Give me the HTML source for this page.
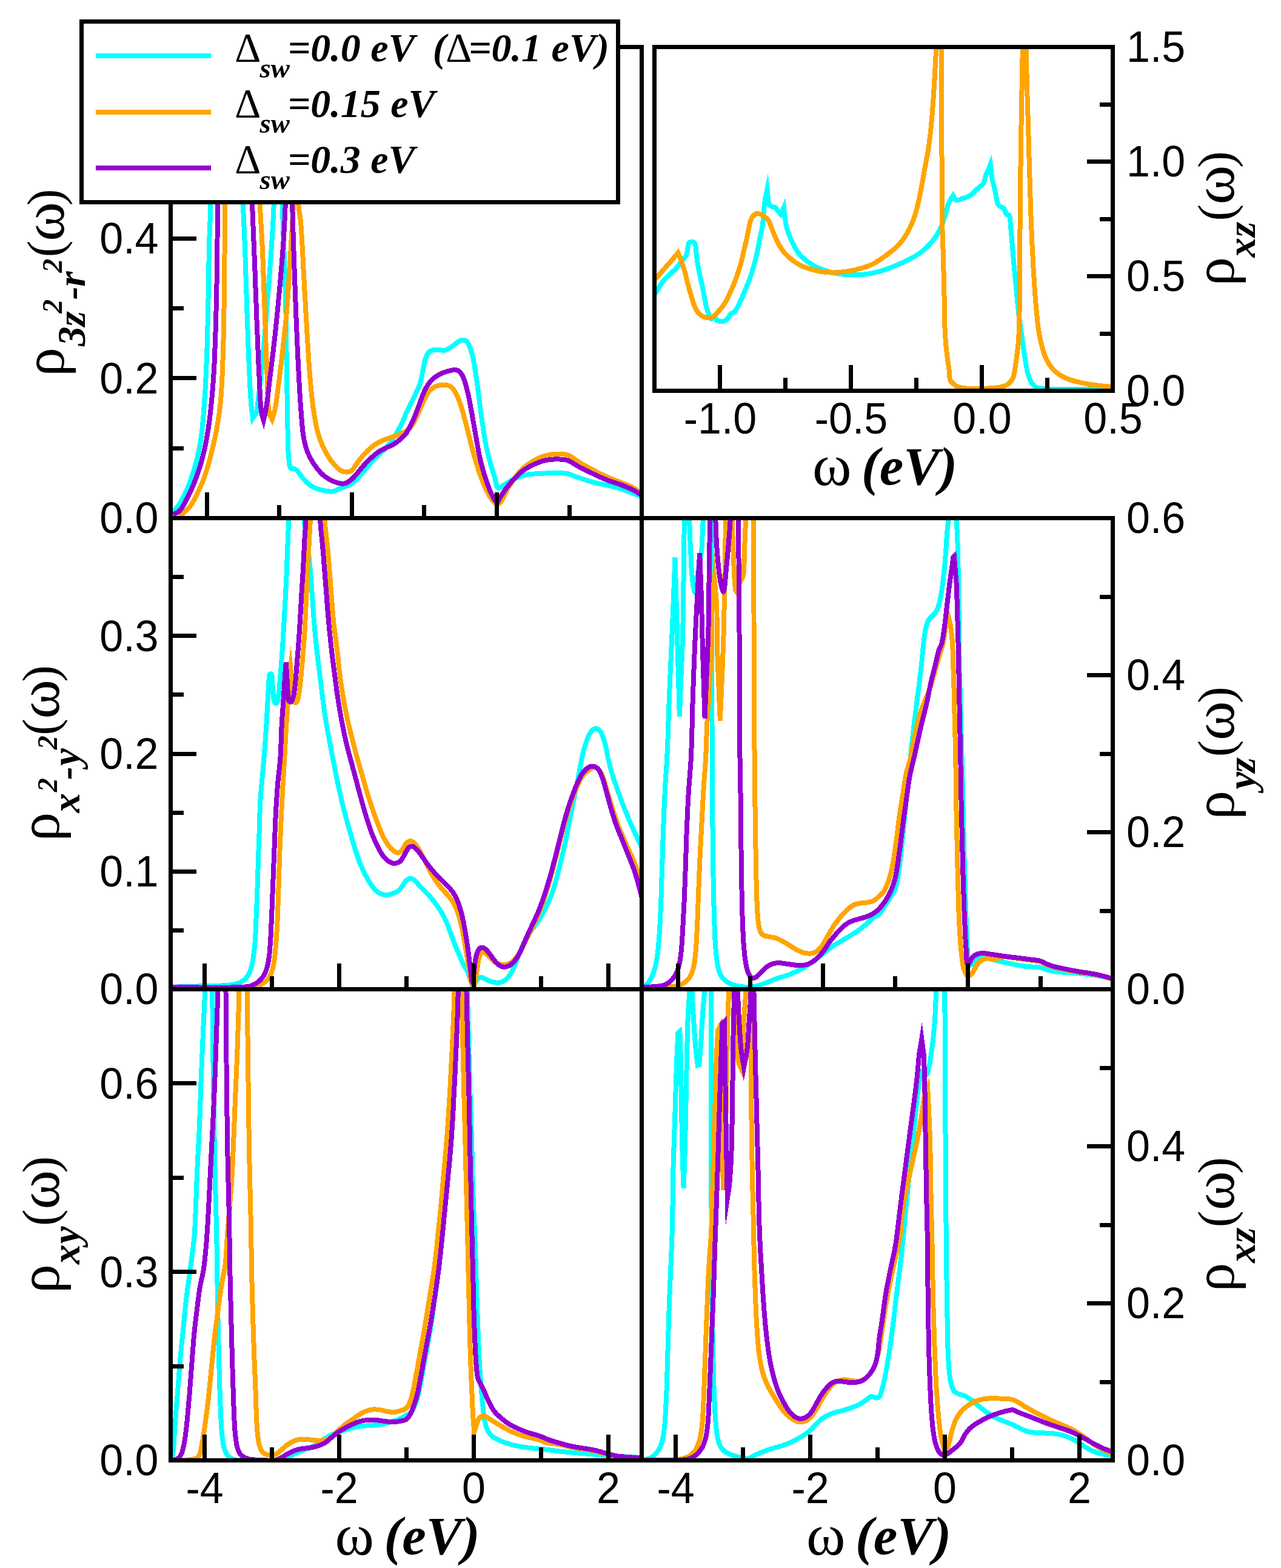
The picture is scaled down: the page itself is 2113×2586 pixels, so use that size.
<!DOCTYPE html>
<html><head><meta charset="utf-8"><title>Orbital-resolved density of states</title>
<style>
html,body{margin:0;padding:0;background:#fff;}
body{width:2113px;height:2586px;overflow:hidden;}
svg{display:block;}
.tk{font-family:"Liberation Sans",Arial,Helvetica,sans-serif;font-size:70px;fill:#000;}
.bi{font-family:"Liberation Serif","Times New Roman",serif;font-weight:bold;font-style:italic;fill:#000;}
.sy{font-family:"Liberation Serif","Times New Roman",serif;font-weight:normal;font-style:normal;fill:#000;}
.fr{stroke:#000;stroke-width:7;fill:none;shape-rendering:crispEdges;}
text{font-kerning:none;}
.cv{fill:none;stroke-width:8;stroke-linejoin:miter;stroke-miterlimit:12;stroke-linecap:butt;shape-rendering:crispEdges;}
</style></head><body>
<svg width="2113" height="2586" viewBox="0 0 2113 2586">
<rect x="0" y="0" width="2113" height="2586" fill="#fff"/>
<defs>
<clipPath id="cTL"><rect x="281.5" y="77.5" width="777.0" height="777.0"/></clipPath>
<clipPath id="cIN"><rect x="1079.5" y="77.5" width="756.0" height="567.0"/></clipPath>
<clipPath id="cML"><rect x="281.5" y="854.5" width="777.0" height="777.0"/></clipPath>
<clipPath id="cMR"><rect x="1058.5" y="854.5" width="777.0" height="777.0"/></clipPath>
<clipPath id="cBL"><rect x="281.5" y="1631.5" width="777.0" height="777.0"/></clipPath>
<clipPath id="cBR"><rect x="1058.5" y="1631.5" width="777.0" height="777.0"/></clipPath>
</defs>
<g clip-path="url(#cTL)">
<polyline class="cv" stroke="#00ffff" points="285.2,845.9 286.9,843.6 288.6,841.4 290.3,839.2 292.0,836.9 293.7,834.5 295.4,831.9 297.6,828.4 299.7,824.6 301.9,820.6 304.0,816.5 306.1,812.2 308.1,807.8 310.4,802.3 312.7,796.7 314.8,790.8 316.9,784.7 318.9,778.5 320.8,772.2 322.8,765.0 324.7,757.7 326.4,750.3 328.1,742.6 329.6,734.7 331.0,726.4 332.4,716.2 333.7,705.5 334.7,694.5 335.7,683.2 336.5,671.8 337.3,660.4 338.2,648.1 338.9,635.8 339.5,623.3 340.1,610.6 340.6,597.5 341.2,584.1 341.7,567.9 342.2,550.8 342.6,533.3 343.0,515.8 343.4,498.7 343.7,482.5 343.9,469.1 344.1,456.1 344.3,443.4 344.5,430.9 344.7,418.6 345.0,406.2 345.3,394.7 345.8,383.4 346.2,372.1 346.7,360.9 347.1,349.4 347.5,337.6 347.8,324.1 348.1,310.3 348.2,296.2 348.4,282.0 348.6,267.8 348.8,253.8"/>
<polyline class="cv" stroke="#00ffff" points="398.3,253.8 398.8,267.9 399.2,282.3 399.6,296.8 400.0,310.9 400.4,324.6 400.9,337.6 401.3,347.4 401.7,356.4 402.1,365.0 402.5,373.8 403.0,383.2 403.4,393.5 404.0,410.3 404.7,428.9 405.3,448.6 405.9,468.8 406.6,488.8 407.2,507.9 407.8,525.5 408.5,543.3 409.1,560.8 409.7,578.0 410.4,594.3 411.0,609.5 411.6,620.5 412.1,631.3 412.6,641.6 413.2,651.2 413.7,660.1 414.3,668.0 414.7,672.2 415.2,676.0 415.6,679.5 416.0,682.8 416.5,686.1 416.9,689.6 417.8,688.2 418.8,686.8 419.8,685.5 420.8,684.1 421.7,682.5 422.5,680.7 423.5,677.4 424.2,673.7 424.7,669.5 425.2,665.1 425.7,660.3 426.3,655.3 427.3,647.1 428.4,638.0 429.4,628.3 430.5,618.1 431.6,607.6 432.6,596.8 433.9,583.2 435.2,568.8 436.5,553.9 437.8,538.7 439.0,523.3 440.3,507.9 441.6,491.1 443.0,473.8 444.3,456.3 445.6,438.9 446.8,422.1 447.9,406.2 448.7,394.1 449.4,382.6 450.1,371.5 450.7,360.5 451.2,349.3 451.7,337.6 452.1,324.1 452.5,310.3 452.8,296.2 453.0,282.0 453.2,267.8 453.5,253.8"/>
<polyline class="cv" stroke="#00ffff" points="463.6,253.8 464.0,267.5 464.3,280.9 464.6,294.3 464.9,308.0 465.2,322.3 465.7,337.6 466.4,359.4 467.3,382.9 468.2,407.4 469.2,432.5 470.0,457.7 470.8,482.5 471.4,508.3 471.8,534.9 472.3,561.7 472.6,587.9 473.0,612.5 473.3,635.0 473.5,649.4 473.7,663.0 473.9,675.9 474.1,688.2 474.3,699.9 474.6,711.2 474.8,719.8 474.9,728.2 475.1,736.3 475.4,744.0 475.8,750.9 476.4,756.9 476.7,760.2 477.0,763.2 477.4,766.1 477.9,768.6 478.6,770.7 479.7,772.2 480.5,772.8 481.6,773.0 482.7,773.1 483.9,773.1 485.0,773.2 486.0,773.5 486.9,773.9 487.8,774.4 488.6,775.0 489.4,775.7 490.2,776.4 491.1,777.3 492.3,778.6 493.5,780.2 494.7,782.0 495.9,783.8 497.3,785.6 498.7,787.4 500.6,789.6 502.6,791.8 504.7,794.1 506.9,796.3 509.2,798.4 511.4,800.1 513.4,801.5 515.5,802.7 517.5,803.8 519.6,804.8 521.8,805.7 524.1,806.5 527.0,807.4 530.1,808.2 533.3,808.9 536.4,809.5 539.3,810.0 541.9,810.3 543.3,810.5 544.6,810.6 545.8,810.6 547.0,810.6 548.2,810.5 549.5,810.3 551.5,809.8 553.5,809.1 555.6,808.2 557.8,807.2 560.0,806.2 562.2,805.2 565.1,804.1 568.0,803.1 571.0,802.0 574.1,800.8 577.1,799.4 580.0,797.6 583.6,794.9 587.1,791.6 590.6,788.1 594.1,784.3 597.3,780.7 600.4,777.3 602.7,774.6 604.9,772.0 606.9,769.4 608.9,766.9 611.0,764.4 613.1,762.0 615.2,759.8 617.3,757.7 619.4,755.6 621.5,753.5 623.7,751.4 625.8,749.3 627.9,747.2 630.1,745.2 632.2,743.2 634.3,741.1 636.4,738.9 638.5,736.6 640.7,733.9 642.9,731.1 645.0,728.1 647.1,725.1 649.2,722.0 651.2,718.8 653.4,715.2 655.7,711.3 658.0,707.4 660.1,703.4 662.1,699.6 663.9,695.9 665.1,693.3 666.2,690.7 667.2,688.2 668.1,685.7 669.0,683.2 670.0,680.7 672.1,676.5 674.3,672.2 676.5,667.9 678.6,663.7 680.7,659.5 682.7,655.3 684.6,651.4 686.4,647.6 688.2,643.8 689.9,640.1 691.5,636.3 692.9,632.4 694.0,628.6 694.9,624.7 695.8,620.8 696.5,617.0 697.2,613.2 698.0,609.5 698.6,606.4 699.1,603.3 699.7,600.2 700.2,597.3 700.9,594.4 701.8,591.8 702.6,589.6 703.5,587.4 704.5,585.3 705.6,583.4 706.8,581.7 708.1,580.3 709.2,579.4 710.5,578.7 711.7,578.1 713.0,577.7 714.4,577.3 715.7,577.0 717.2,576.8 718.6,576.7 720.1,576.7 721.6,576.8 723.1,576.9 724.6,577.0 726.1,577.2 727.6,577.4 729.1,577.7 730.6,577.9 732.0,577.9 733.5,577.8 735.2,577.3 736.9,576.6 738.6,575.8 740.3,574.8 742.0,573.7 743.7,572.7 745.5,571.5 747.2,570.2 748.9,568.8 750.7,567.5 752.3,566.2 753.9,565.1 755.0,564.3 756.1,563.5 757.1,562.8 758.2,562.2 759.2,561.7 760.2,561.3 761.1,561.0 761.9,560.8 762.8,560.7 763.6,560.6 764.5,560.6 765.3,560.7 766.2,561.0 767.1,561.4 767.9,561.8 768.8,562.4 769.6,563.0 770.4,563.8 771.4,565.1 772.3,566.6 773.1,568.2 773.9,570.1 774.7,572.0 775.5,574.0 776.4,576.6 777.3,579.3 778.2,582.2 779.0,585.2 779.8,588.4 780.5,591.8 781.5,596.3 782.4,601.2 783.2,606.3 784.0,611.5 784.8,616.9 785.6,622.2 786.5,628.4 787.4,634.6 788.2,641.0 789.0,647.5 789.9,654.0 790.7,660.4 791.5,666.7 792.4,673.1 793.2,679.4 794.0,685.8 794.9,692.1 795.8,698.5 796.8,704.9 797.7,711.4 798.8,717.8 799.8,724.2 800.9,730.5 802.1,736.6 803.3,742.0 804.6,747.3 805.8,752.5 807.2,757.5 808.5,762.4 809.8,767.1 810.8,770.8 811.9,774.3 813.0,777.6 814.0,780.9 815.1,784.2 816.1,787.4 817.0,790.7 817.7,794.3 818.4,797.8 819.2,801.0 820.3,803.4 821.7,804.7 823.2,804.8 824.9,804.2 826.7,803.0 828.7,801.6 830.7,800.1 832.6,798.9 835.0,797.5 837.5,796.0 840.0,794.4 842.6,792.8 845.2,791.3 847.9,790.0 850.7,788.7 853.6,787.5 856.6,786.4 859.5,785.3 862.6,784.4 865.7,783.6 868.9,782.9 872.2,782.4 875.6,782.0 879.0,781.6 882.5,781.4 886.0,781.1 890.1,780.8 894.3,780.6 898.6,780.5 902.9,780.4 907.2,780.3 911.4,780.3 915.6,780.3 919.8,780.2 924.0,780.2 928.1,780.3 932.0,780.6 935.6,781.1 938.1,781.7 940.5,782.5 942.8,783.4 945.0,784.3 947.2,785.3 949.5,786.2 952.0,787.0 954.5,787.9 957.0,788.7 959.6,789.6 962.2,790.4 964.8,791.2 967.7,792.1 970.6,793.0 973.6,793.9 976.6,794.7 979.6,795.6 982.6,796.3 985.5,797.0 988.5,797.7 991.4,798.3 994.4,798.8 997.3,799.5 1000.4,800.1 1003.7,800.9 1007.1,801.7 1010.6,802.5 1014.0,803.4 1017.4,804.3 1020.7,805.2 1023.7,806.2 1026.7,807.2 1029.6,808.3 1032.5,809.3 1035.5,810.5 1038.5,811.6 1041.8,812.8 1045.2,814.1 1048.6,815.3 1052.0,816.6 1055.4,817.9 1058.8,819.2"/>
<polyline class="cv" stroke="#ffa500" points="294.1,857.3 295.2,855.8 296.1,854.4 297.1,852.9 298.1,851.5 299.3,850.0 300.5,848.4 302.3,846.5 304.4,844.5 306.7,842.5 308.9,840.4 311.1,838.2 313.2,835.7 315.5,832.4 317.7,828.9 319.8,825.0 321.9,821.1 323.9,817.0 325.9,812.8 328.2,808.1 330.4,803.2 332.6,798.1 334.7,792.9 336.7,787.7 338.6,782.4 340.5,776.6 342.3,770.8 344.0,764.9 345.6,759.0 347.2,752.9 348.8,746.8 350.4,740.2 352.0,733.5 353.5,726.8 355.0,720.0 356.4,713.1 357.7,706.1 358.9,698.8 360.1,691.5 361.2,684.2 362.2,676.6 363.2,668.7 364.0,660.4 365.0,648.9 365.7,636.8 366.4,624.2 366.9,611.1 367.4,597.7 367.8,584.1 368.3,568.2 368.7,552.0 369.1,535.3 369.4,518.2 369.6,500.6 369.9,482.5 370.2,459.4 370.4,434.6 370.6,409.2 370.8,383.9 371.0,359.8 371.1,337.6 371.3,322.3 371.3,308.0 371.4,294.3 371.5,280.9 371.6,267.5 371.7,253.8"/>
<polyline class="cv" stroke="#ffa500" points="426.3,253.8 426.7,267.8 427.1,282.0 427.5,296.2 427.9,310.3 428.3,324.1 428.8,337.6 429.4,349.3 430.0,360.5 430.7,371.5 431.4,382.6 432.0,394.1 432.6,406.2 433.3,422.0 434.0,438.6 434.6,455.8 435.2,473.3 435.8,490.7 436.5,507.9 437.1,525.0 437.7,542.4 438.3,559.8 438.9,577.0 439.6,593.6 440.3,609.5 440.7,622.9 441.1,636.6 441.5,649.9 442.0,662.2 442.8,672.7 444.1,680.7 444.7,683.1 445.5,685.0 446.3,686.7 447.1,688.2 447.9,689.7 448.7,691.4 449.4,689.3 450.1,687.3 450.8,685.3 451.6,683.2 452.3,680.8 453.0,678.2 454.1,672.5 455.2,665.9 456.3,658.7 457.3,650.9 458.3,642.9 459.3,635.0 460.6,625.1 461.9,614.7 463.2,604.0 464.5,593.1 465.8,582.2 467.0,571.4 468.1,560.9 469.2,550.5 470.3,540.0 471.4,529.5 472.4,518.8 473.3,507.9 474.3,495.5 475.2,482.7 476.0,469.8 476.8,456.8 477.6,444.0 478.4,431.7 479.1,420.5 479.8,409.2 480.4,398.1 481.1,387.4 481.7,377.3 482.2,368.1 482.5,362.6 482.9,357.7 483.2,353.1 483.4,348.5 483.7,343.5 484.0,337.6 484.4,326.1 484.7,312.7 485.1,298.3 485.4,283.3 485.7,268.2 486.0,253.8"/>
<polyline class="cv" stroke="#ffa500" points="490.6,253.8 490.8,268.2 491.0,283.3 491.1,298.3 491.4,312.8 491.7,326.1 492.4,337.6 492.9,343.4 493.5,348.3 494.2,352.8 494.9,357.3 495.6,362.3 496.2,368.1 497.1,380.2 498.0,394.3 498.8,409.7 499.6,425.7 500.4,441.7 501.3,457.1 502.1,472.0 502.9,487.0 503.8,502.0 504.6,516.9 505.5,531.6 506.3,546.0 507.1,559.2 507.9,572.2 508.7,585.1 509.5,597.8 510.4,610.2 511.4,622.2 512.3,632.6 513.2,642.7 514.2,652.7 515.3,662.3 516.4,671.7 517.8,680.7 519.0,688.0 520.3,695.2 521.6,702.1 523.1,708.7 524.8,715.2 526.7,721.4 528.5,726.5 530.5,731.4 532.6,736.2 534.8,740.8 537.1,745.2 539.4,749.3 541.4,752.7 543.5,755.9 545.6,759.0 547.8,761.9 549.9,764.6 552.1,767.1 553.8,768.9 555.4,770.6 557.1,772.2 558.7,773.7 560.5,774.9 562.2,776.0 563.9,776.8 565.6,777.4 567.4,777.9 569.1,778.3 570.8,778.5 572.4,778.5 573.8,778.4 575.1,778.2 576.3,777.9 577.6,777.4 578.8,776.8 580.0,776.0 581.8,774.4 583.5,772.3 585.1,769.8 586.7,767.1 588.4,764.5 590.2,762.0 592.2,759.5 594.3,756.8 596.4,754.2 598.5,751.6 600.7,749.1 602.9,746.8 605.0,744.7 607.0,742.6 609.1,740.7 611.3,738.8 613.4,737.0 615.6,735.3 617.7,733.9 619.8,732.5 621.9,731.2 624.0,730.0 626.2,728.8 628.3,727.7 630.4,726.7 632.5,725.8 634.6,725.0 636.7,724.2 638.8,723.4 641.0,722.6 643.5,721.8 646.0,721.0 648.6,720.2 651.2,719.3 653.8,718.5 656.3,717.5 658.6,716.6 660.9,715.5 663.2,714.5 665.5,713.4 667.7,712.3 670.0,711.2 671.7,709.6 673.5,708.0 675.2,706.4 676.9,704.8 678.6,703.0 680.2,701.0 682.0,698.1 683.8,694.9 685.5,691.5 687.1,687.9 688.7,684.3 690.3,680.7 692.1,676.9 693.8,672.9 695.5,668.9 697.1,665.0 698.8,661.2 700.5,657.8 701.7,655.4 702.9,653.1 704.1,650.9 705.3,648.9 706.6,646.9 708.1,645.1 709.6,643.6 711.2,642.1 712.9,640.7 714.7,639.5 716.5,638.4 718.3,637.5 719.9,636.8 721.6,636.2 723.3,635.8 725.0,635.4 726.7,635.2 728.4,635.0 730.2,634.8 731.9,634.7 733.7,634.7 735.4,634.8 737.0,635.1 738.6,635.5 740.0,635.9 741.3,636.5 742.6,637.2 743.9,638.0 745.1,639.0 746.2,640.0 747.7,641.7 749.0,643.6 750.3,645.7 751.5,648.0 752.7,650.3 753.9,652.7 755.2,655.8 756.6,659.0 757.8,662.3 759.1,665.8 760.3,669.4 761.5,673.1 762.8,677.4 764.1,682.0 765.4,686.7 766.6,691.4 767.9,696.2 769.1,701.0 770.4,706.0 771.7,711.1 772.9,716.3 774.2,721.4 775.4,726.5 776.7,731.5 778.0,736.2 779.2,740.9 780.4,745.5 781.7,750.1 783.0,754.8 784.4,759.5 785.9,764.6 787.5,769.7 789.2,775.0 790.9,780.1 792.7,785.2 794.5,790.0 796.1,794.1 797.8,798.1 799.4,802.0 801.1,805.8 802.9,809.4 804.7,812.8 806.3,815.7 808.0,818.6 809.8,821.4 811.6,824.0 813.3,826.2 814.9,828.1 815.7,829.0 816.6,829.9 817.4,830.7 818.2,831.4 819.0,831.8 819.9,831.9 821.1,831.6 822.4,830.9 823.8,829.8 825.1,828.5 826.4,827.0 827.6,825.6 829.0,823.5 830.2,821.1 831.4,818.5 832.5,815.8 833.8,813.0 835.2,810.3 837.0,807.0 839.0,803.6 841.1,800.1 843.3,796.7 845.6,793.3 847.9,790.0 850.2,786.8 852.7,783.7 855.1,780.6 857.7,777.7 860.4,774.9 863.1,772.2 865.9,769.8 868.8,767.4 871.8,765.3 874.8,763.2 877.9,761.3 880.9,759.5 883.8,757.9 886.8,756.5 889.7,755.1 892.7,753.9 895.7,752.8 898.7,751.9 901.6,751.1 904.6,750.4 907.6,749.8 910.5,749.4 913.5,749.0 916.5,748.8 919.6,748.7 922.7,748.7 925.9,748.8 928.9,749.0 931.8,749.3 934.3,749.8 935.8,750.2 937.1,750.7 938.2,751.2 939.4,751.7 940.6,752.4 941.9,753.1 943.8,754.3 945.8,755.7 947.9,757.2 950.0,758.8 952.3,760.5 954.6,762.0 957.7,763.9 960.9,765.8 964.3,767.7 967.8,769.6 971.4,771.5 975.0,773.5 979.0,775.6 983.2,777.8 987.4,780.0 991.7,782.1 996.1,784.2 1000.4,786.2 1004.6,788.0 1009.0,789.8 1013.3,791.5 1017.6,793.1 1021.8,794.7 1025.8,796.3 1029.0,797.6 1032.0,798.8 1035.0,800.0 1037.9,801.2 1040.8,802.5 1043.6,804.0 1046.2,805.5 1048.8,807.1 1051.3,808.9 1053.8,810.6 1056.3,812.4 1058.8,814.1"/>
<polyline class="cv" stroke="#9400d3" points="285.2,848.4 287.0,847.7 288.7,847.0 290.4,846.3 292.1,845.6 293.8,844.6 295.4,843.3 297.7,840.9 299.9,837.9 302.0,834.4 304.1,830.7 306.1,826.8 308.1,823.0 310.4,818.7 312.5,814.3 314.7,809.7 316.8,804.9 318.8,800.1 320.8,795.1 323.1,789.2 325.3,783.1 327.5,776.8 329.6,770.3 331.6,763.7 333.5,756.9 335.5,749.0 337.4,740.9 339.1,732.6 340.7,724.0 342.3,715.2 343.7,706.1 345.3,695.0 346.7,683.4 348.0,671.5 349.2,659.3 350.3,647.1 351.3,635.0 352.2,622.5 353.0,610.2 353.6,597.7 354.1,585.0 354.6,572.1 355.1,558.7 355.7,542.7 356.2,526.2 356.6,509.3 357.0,492.1 357.4,474.7 357.7,457.1 358.0,437.5 358.2,417.2 358.5,396.6 358.6,376.2 358.8,356.4 358.9,337.6 359.1,322.8 359.2,308.6 359.2,294.8 359.3,281.2 359.4,267.6 359.5,253.8"/>
<polyline class="cv" stroke="#9400d3" points="413.6,253.8 414.0,267.7 414.4,281.5 414.8,295.4 415.2,309.3 415.6,323.4 416.1,337.6 416.7,352.9 417.3,368.4 418.0,384.1 418.6,399.8 419.3,415.7 419.9,431.7 420.6,448.4 421.2,465.5 421.8,482.7 422.5,499.8 423.1,516.7 423.7,533.3 424.4,548.7 425.0,564.1 425.6,579.3 426.2,594.2 426.9,608.6 427.6,622.2 428.1,633.2 428.6,644.3 429.1,655.0 429.7,664.9 430.5,673.6 431.4,680.7 431.9,683.3 432.4,685.5 433.0,687.4 433.5,689.2 434.1,691.0 434.7,692.9 435.4,689.7 436.1,686.6 436.9,683.6 437.6,680.4 438.3,676.9 439.0,673.1 440.1,666.0 441.1,658.1 442.2,649.5 443.2,640.5 444.3,631.3 445.3,622.2 446.6,612.1 447.9,601.8 449.2,591.3 450.5,580.6 451.7,569.7 453.0,558.7 454.3,546.4 455.6,533.8 456.9,521.0 458.2,508.2 459.4,495.3 460.6,482.5 461.8,469.7 462.9,456.9 464.0,444.1 465.1,431.4 466.0,418.7 467.0,406.2 467.7,394.7 468.4,383.4 469.1,372.1 469.7,360.9 470.2,349.4 470.8,337.6 471.3,324.1 471.7,310.3 472.1,296.2 472.5,282.0 472.9,267.8 473.3,253.8"/>
<polyline class="cv" stroke="#9400d3" points="480.4,253.8 480.7,267.6 481.0,281.2 481.2,294.8 481.5,308.6 481.8,322.8 482.2,337.6 482.7,356.3 483.3,375.7 483.9,395.8 484.6,416.2 485.3,436.7 486.0,457.1 486.8,478.3 487.6,500.0 488.4,521.8 489.3,543.3 490.2,564.2 491.1,584.1 491.9,600.2 492.7,615.9 493.5,631.1 494.3,645.9 495.2,659.9 496.2,673.1 496.9,682.6 497.6,691.7 498.3,700.5 499.1,708.8 500.0,716.6 501.3,723.9 502.3,728.7 503.4,733.3 504.6,737.5 505.9,741.6 507.3,745.5 508.9,749.3 510.4,752.6 511.9,755.6 513.6,758.6 515.3,761.5 517.2,764.3 519.0,767.1 521.0,769.8 523.0,772.6 525.1,775.2 527.3,777.8 529.5,780.2 531.8,782.4 533.8,784.1 535.9,785.8 538.0,787.3 540.1,788.7 542.3,790.0 544.5,791.2 546.5,792.3 548.7,793.3 550.8,794.2 553.0,795.0 555.1,795.7 557.2,796.3 558.9,796.8 560.6,797.2 562.3,797.5 564.0,797.7 565.7,797.8 567.3,797.6 569.1,797.2 570.8,796.5 572.5,795.7 574.2,794.7 575.9,793.7 577.5,792.5 579.3,791.1 581.0,789.6 582.6,787.9 584.3,786.1 585.9,784.2 587.7,782.4 589.7,780.0 591.8,777.5 593.9,774.8 596.1,772.2 598.2,769.6 600.4,767.1 602.4,764.9 604.5,762.7 606.6,760.5 608.8,758.4 610.9,756.4 613.1,754.4 615.1,752.6 617.2,750.7 619.3,749.0 621.5,747.3 623.6,745.7 625.8,744.2 627.9,743.0 630.0,741.9 632.1,740.9 634.2,739.9 636.4,738.9 638.5,737.9 640.6,736.9 642.8,735.9 644.9,734.9 647.0,733.9 649.1,732.8 651.2,731.5 653.4,730.0 655.7,728.3 657.9,726.5 660.1,724.7 662.1,723.0 663.9,721.4 665.1,720.2 666.1,719.2 667.1,718.1 668.1,717.1 669.0,716.1 670.0,715.0 671.7,711.9 673.4,708.8 675.1,705.7 676.9,702.5 678.5,699.3 680.2,695.9 682.0,691.9 683.7,687.7 685.4,683.3 687.1,679.0 688.8,674.7 690.3,670.5 691.7,667.0 692.9,663.5 694.2,660.0 695.4,656.7 696.6,653.4 698.0,650.2 699.1,647.5 700.3,644.8 701.5,642.2 702.8,639.7 704.1,637.3 705.6,635.0 707.1,632.8 708.7,630.8 710.3,628.8 712.0,626.9 713.9,625.2 715.7,623.5 717.7,622.0 719.8,620.6 721.9,619.3 724.1,618.1 726.3,616.9 728.4,615.9 730.5,615.0 732.7,614.1 734.8,613.4 737.0,612.7 739.1,612.1 741.2,611.6 742.9,611.1 744.7,610.7 746.5,610.4 748.2,610.1 749.8,610.0 751.3,610.1 752.5,610.2 753.6,610.5 754.7,610.8 755.7,611.3 756.7,611.9 757.7,612.6 758.9,613.7 760.0,615.1 761.1,616.7 762.1,618.4 763.1,620.3 764.0,622.2 765.2,625.1 766.4,628.2 767.4,631.6 768.4,635.2 769.4,638.8 770.4,642.6 771.5,647.2 772.6,652.1 773.6,657.1 774.7,662.3 775.7,667.6 776.7,673.1 778.0,679.9 779.3,687.0 780.5,694.3 781.8,701.7 783.1,709.1 784.4,716.3 785.6,723.2 786.8,730.0 788.0,736.9 789.2,743.7 790.5,750.4 792.0,756.9 793.5,763.1 795.1,769.2 796.8,775.3 798.5,781.2 800.3,787.0 802.1,792.5 803.8,797.2 805.4,801.8 807.1,806.3 808.8,810.6 810.5,814.5 812.3,817.9 813.6,820.2 814.9,822.5 816.2,824.7 817.5,826.5 818.8,827.7 819.9,828.1 820.8,827.7 821.7,826.8 822.4,825.4 823.2,823.8 824.1,822.1 825.0,820.5 826.5,818.2 828.1,815.8 829.8,813.1 831.5,810.5 833.3,807.8 835.2,805.2 837.2,802.6 839.2,800.0 841.3,797.5 843.4,794.9 845.6,792.4 847.9,790.0 850.3,787.5 852.7,785.1 855.2,782.6 857.8,780.3 860.4,778.1 863.1,776.0 865.9,774.0 868.8,772.2 871.8,770.5 874.8,768.8 877.9,767.3 880.9,765.8 883.8,764.5 886.8,763.3 889.7,762.2 892.7,761.2 895.7,760.2 898.7,759.5 901.7,758.9 904.6,758.4 907.6,758.0 910.6,757.7 913.5,757.5 916.5,757.4 919.6,757.4 922.7,757.5 925.9,757.6 928.9,757.9 931.8,758.2 934.3,758.7 935.8,759.1 937.0,759.6 938.2,760.1 939.4,760.7 940.6,761.3 941.9,762.0 943.8,763.1 945.8,764.3 947.9,765.6 950.0,766.9 952.3,768.3 954.6,769.6 957.7,771.3 960.9,773.0 964.3,774.7 967.8,776.4 971.4,778.1 975.0,779.8 979.0,781.7 983.2,783.7 987.4,785.7 991.8,787.6 996.1,789.5 1000.4,791.2 1004.6,792.9 1009.0,794.4 1013.3,795.8 1017.6,797.3 1021.8,798.7 1025.8,800.1 1029.0,801.4 1032.0,802.6 1035.0,803.8 1037.9,805.1 1040.8,806.4 1043.6,807.8 1046.2,809.2 1048.8,810.6 1051.3,812.1 1053.8,813.6 1056.3,815.2 1058.8,816.7"/>
</g>
<g clip-path="url(#cIN)">
<polyline class="cv" stroke="#00ffff" points="1076.9,489.0 1078.0,487.6 1079.0,486.3 1080.0,485.0 1081.0,483.6 1082.0,482.1 1083.1,480.5 1084.8,478.0 1086.5,475.2 1088.2,472.2 1090.1,469.1 1091.9,466.2 1093.9,463.6 1095.7,461.5 1097.5,459.6 1099.4,457.7 1101.3,456.0 1103.3,454.2 1105.2,452.3 1107.1,450.5 1109.0,448.6 1110.9,446.8 1112.8,444.9 1114.7,443.0 1116.4,441.0 1118.2,439.0 1119.9,436.8 1121.6,434.5 1123.3,432.3 1124.9,430.2 1126.3,428.3 1127.4,427.1 1128.4,426.0 1129.4,424.9 1130.4,423.8 1131.2,422.6 1132.0,421.3 1132.7,419.2 1133.3,416.8 1133.7,414.3 1134.0,411.7 1134.4,409.3 1134.8,407.2 1135.1,405.8 1135.3,404.4 1135.5,403.1 1135.8,401.9 1136.2,400.9 1136.8,400.1 1137.4,399.6 1138.3,399.2 1139.2,398.9 1140.1,398.7 1141.0,398.6 1141.9,398.7 1142.6,398.9 1143.4,399.2 1144.1,399.5 1144.8,400.1 1145.5,400.7 1146.1,401.5 1147.0,403.7 1147.6,406.7 1148.0,410.2 1148.2,414.0 1148.5,417.8 1148.9,421.3 1149.4,424.6 1149.8,427.9 1150.2,431.2 1150.7,434.5 1151.2,437.7 1151.7,441.0 1152.4,444.3 1153.0,447.6 1153.8,450.9 1154.5,454.2 1155.2,457.5 1156.0,460.8 1156.7,464.1 1157.4,467.3 1158.1,470.6 1158.8,473.9 1159.5,477.2 1160.2,480.5 1160.9,484.3 1161.6,488.2 1162.3,492.1 1162.9,496.0 1163.7,499.7 1164.4,503.1 1165.1,505.7 1165.7,508.2 1166.4,510.7 1167.1,513.0 1167.9,515.2 1168.7,517.2 1169.3,519.0 1170.0,520.8 1170.7,522.5 1171.4,524.0 1172.1,525.1 1172.9,525.7 1173.4,525.7 1173.8,525.6 1174.3,525.3 1174.8,524.9 1175.2,524.6 1175.7,524.3 1176.2,524.0 1176.7,523.7 1177.1,523.3 1177.6,523.0 1178.1,522.9 1178.5,522.9 1179.2,523.3 1179.9,524.2 1180.5,525.4 1181.2,526.6 1182.0,527.7 1182.8,528.5 1183.6,529.0 1184.5,529.3 1185.4,529.6 1186.4,529.8 1187.4,529.9 1188.4,529.9 1189.6,530.0 1190.8,530.0 1192.0,529.9 1193.2,529.8 1194.4,529.5 1195.5,529.1 1196.5,528.5 1197.5,527.9 1198.5,527.1 1199.4,526.2 1200.3,525.2 1201.1,524.3 1201.9,523.2 1202.6,521.9 1203.2,520.5 1203.9,519.2 1204.6,518.1 1205.4,517.2 1206.0,516.9 1206.7,516.6 1207.4,516.5 1208.2,516.4 1208.9,516.2 1209.6,515.8 1210.6,515.0 1211.5,514.0 1212.5,512.9 1213.4,511.6 1214.3,510.2 1215.2,508.8 1216.4,506.8 1217.6,504.5 1218.8,502.2 1220.0,499.7 1221.1,497.2 1222.3,494.7 1223.5,491.9 1224.7,489.1 1225.9,486.3 1227.0,483.4 1228.2,480.6 1229.3,477.7 1230.5,474.9 1231.7,472.2 1232.9,469.4 1234.1,466.6 1235.3,463.8 1236.4,460.8 1237.7,457.2 1238.9,453.5 1240.1,449.7 1241.2,445.9 1242.4,442.0 1243.5,438.2 1244.5,434.5 1245.5,430.7 1246.5,426.9 1247.4,423.2 1248.3,419.4 1249.1,415.6 1249.9,411.9 1250.6,408.1 1251.3,404.3 1252.0,400.5 1252.6,396.7 1253.3,393.1 1254.1,389.7 1254.8,386.5 1255.6,383.3 1256.3,380.0 1257.0,376.7 1257.6,373.3 1258.1,369.2 1258.5,364.9 1258.9,360.5 1259.2,356.1 1259.5,351.9 1259.8,347.9 1260.1,344.9 1260.4,342.0 1260.7,339.3 1261.0,336.6 1261.4,333.8 1261.8,331.0 1262.3,327.7 1262.9,324.5 1263.5,321.2 1264.2,317.8 1264.8,314.5 1265.5,311.2 1266.0,315.7 1266.3,320.5 1266.7,325.3 1267.2,329.8 1267.9,333.7 1268.9,336.6 1269.5,337.6 1270.1,338.5 1270.8,339.2 1271.5,339.8 1272.3,340.4 1273.1,340.8 1274.0,341.2 1274.9,341.4 1275.9,341.5 1276.9,341.6 1277.9,341.8 1278.7,342.2 1279.6,342.9 1280.3,343.8 1280.9,344.8 1281.6,345.9 1282.3,346.9 1283.0,347.9 1283.8,348.8 1284.6,349.8 1285.5,350.7 1286.3,351.7 1287.2,352.6 1288.1,353.5 1292.9,342.2 1293.2,345.1 1293.5,348.0 1293.8,350.8 1294.1,353.7 1294.5,356.5 1294.8,359.2 1295.2,361.6 1295.5,363.9 1295.8,366.3 1296.1,368.6 1296.6,370.9 1297.1,373.3 1297.8,376.1 1298.7,378.9 1299.7,381.9 1300.7,384.7 1301.7,387.5 1302.7,390.2 1303.6,392.5 1304.5,394.6 1305.4,396.7 1306.3,398.8 1307.3,400.8 1308.4,402.9 1309.6,405.3 1310.9,407.7 1312.3,410.1 1313.7,412.5 1315.2,414.8 1316.8,417.0 1318.5,419.1 1320.3,421.1 1322.2,423.0 1324.1,424.8 1326.1,426.6 1328.1,428.3 1330.3,430.1 1332.6,431.9 1335.0,433.6 1337.4,435.2 1339.8,436.8 1342.2,438.2 1344.6,439.4 1346.9,440.6 1349.2,441.6 1351.6,442.6 1354.0,443.5 1356.4,444.4 1358.7,445.3 1361.0,446.1 1363.4,446.9 1365.7,447.6 1368.1,448.3 1370.5,448.9 1372.8,449.5 1375.2,450.0 1377.5,450.5 1379.9,451.0 1382.2,451.4 1384.6,451.8 1386.9,452.1 1389.3,452.4 1391.6,452.6 1394.0,452.9 1396.3,453.0 1398.7,453.2 1401.0,453.3 1403.4,453.3 1405.8,453.3 1408.1,453.3 1410.5,453.2 1412.8,453.2 1415.2,453.1 1417.5,453.0 1419.9,452.9 1422.2,452.7 1424.6,452.6 1426.9,452.3 1429.3,452.0 1431.7,451.7 1434.0,451.4 1436.4,451.0 1438.7,450.5 1441.0,450.1 1443.2,449.6 1445.4,449.1 1447.6,448.5 1449.8,448.0 1451.9,447.3 1454.1,446.7 1456.4,445.9 1458.8,445.1 1461.2,444.3 1463.5,443.4 1465.9,442.5 1468.2,441.6 1470.6,440.7 1472.9,439.8 1475.3,438.9 1477.7,437.9 1480.0,437.0 1482.3,436.0 1484.7,434.9 1487.1,433.8 1489.4,432.7 1491.8,431.5 1494.1,430.3 1496.4,429.2 1498.8,428.0 1501.2,426.9 1503.6,425.7 1505.9,424.5 1508.2,423.2 1510.6,421.8 1513.0,420.3 1515.4,418.6 1517.8,416.9 1520.2,415.1 1522.5,413.3 1524.7,411.4 1526.7,409.6 1528.7,407.8 1530.6,405.9 1532.5,404.0 1534.2,402.0 1536.0,400.1 1537.5,398.3 1539.0,396.4 1540.4,394.6 1541.8,392.7 1543.1,390.8 1544.4,388.8 1545.7,386.8 1547.0,384.7 1548.2,382.6 1549.3,380.5 1550.4,378.3 1551.5,376.1 1552.5,373.8 1553.5,371.5 1554.5,369.1 1555.4,366.8 1556.3,364.4 1557.1,362.0 1557.9,359.6 1558.7,357.3 1559.4,354.9 1560.1,352.5 1560.7,350.2 1561.4,347.9 1561.9,345.9 1562.3,344.0 1562.7,342.0 1563.1,340.2 1563.6,338.4 1564.2,336.6 1564.8,335.1 1565.5,333.6 1566.2,332.1 1566.9,330.8 1567.7,329.4 1568.4,328.1 1569.0,327.1 1569.6,326.2 1570.3,325.2 1570.9,324.3 1571.5,323.4 1572.1,322.5 1575.5,329.5 1576.2,329.7 1576.9,329.9 1577.5,330.1 1578.2,330.3 1579.0,330.4 1579.7,330.4 1580.8,330.2 1581.9,329.8 1583.1,329.2 1584.3,328.7 1585.5,328.1 1586.8,327.6 1588.1,327.1 1589.5,326.7 1591.0,326.3 1592.4,325.8 1593.8,325.3 1595.2,324.7 1596.7,324.0 1598.1,323.3 1599.6,322.5 1601.0,321.6 1602.4,320.7 1603.7,319.7 1605.0,318.6 1606.2,317.4 1607.4,316.2 1608.5,314.9 1609.6,313.7 1610.8,312.6 1611.7,311.7 1612.7,310.9 1613.6,310.2 1614.5,309.4 1615.5,308.6 1616.4,307.8 1617.4,307.0 1618.4,306.3 1619.4,305.6 1620.3,304.7 1621.2,303.8 1622.0,302.7 1623.0,300.8 1623.7,298.5 1624.4,296.0 1625.0,293.4 1625.6,290.9 1626.3,288.6 1627.0,286.8 1627.7,285.1 1628.4,283.5 1629.1,281.9 1629.8,280.3 1630.5,278.7 1631.1,277.4 1631.6,276.1 1632.1,274.9 1632.6,273.6 1633.1,272.4 1633.6,271.1 1633.9,273.6 1634.2,276.0 1634.4,278.5 1634.7,280.9 1635.0,283.4 1635.3,285.8 1635.6,288.2 1636.0,290.5 1636.3,292.8 1636.7,295.1 1637.1,297.5 1637.6,299.9 1638.2,302.6 1638.9,305.4 1639.6,308.2 1640.3,311.0 1641.1,313.9 1641.8,316.8 1642.5,320.2 1643.1,323.9 1643.7,327.6 1644.3,331.1 1645.1,334.2 1646.0,336.6 1646.7,337.6 1647.3,338.4 1648.0,339.1 1648.7,339.7 1649.5,340.3 1650.3,340.8 1651.2,341.3 1652.1,341.7 1653.1,342.1 1654.1,342.5 1655.1,343.0 1655.9,343.7 1656.8,345.0 1657.5,346.8 1658.1,348.7 1658.7,350.7 1659.3,352.4 1660.2,353.5 1660.8,353.9 1661.5,354.1 1662.3,354.2 1663.1,354.2 1663.8,354.5 1664.4,354.9 1665.4,357.0 1666.0,360.0 1666.4,363.7 1666.6,367.8 1666.9,372.1 1667.2,376.1 1667.7,380.9 1668.2,386.0 1668.7,391.2 1669.1,396.5 1669.6,401.8 1670.0,407.2 1670.5,412.8 1671.0,418.5 1671.4,424.2 1671.9,429.9 1672.4,435.6 1672.9,441.0 1673.3,445.9 1673.8,450.6 1674.3,455.2 1674.7,459.8 1675.2,464.5 1675.7,469.3 1676.2,474.4 1676.6,479.6 1677.1,484.9 1677.5,490.1 1678.0,495.3 1678.5,500.3 1678.9,504.7 1679.4,509.1 1679.9,513.4 1680.3,517.6 1680.8,521.7 1681.3,525.7 1681.8,529.1 1682.2,532.5 1682.7,535.7 1683.2,539.0 1683.7,542.2 1684.1,545.5 1684.6,548.8 1685.1,552.1 1685.6,555.3 1686.0,558.6 1686.5,561.9 1687.0,565.2 1687.4,568.5 1687.9,571.9 1688.4,575.2 1688.8,578.5 1689.3,581.8 1689.8,585.0 1690.2,587.9 1690.7,590.8 1691.2,593.6 1691.6,596.4 1692.1,599.2 1692.6,601.9 1693.0,604.4 1693.5,606.8 1693.9,609.2 1694.3,611.5 1694.9,613.8 1695.4,616.0 1696.0,618.0 1696.7,620.0 1697.3,621.9 1698.0,623.8 1698.8,625.6 1699.7,627.3 1700.5,628.9 1701.3,630.4 1702.2,631.9 1703.2,633.3 1704.2,634.6 1705.3,635.8 1706.4,636.7 1707.5,637.5 1708.6,638.3 1709.8,638.9 1711.1,639.5 1712.4,640.0 1713.8,640.5 1715.3,640.8 1716.8,641.0 1718.5,641.1 1720.3,641.3 1722.2,641.4 1725.9,641.7 1730.0,641.8 1734.5,641.9 1739.4,641.9 1744.7,641.9 1750.5,642.0 1762.0,642.1 1775.3,642.1 1790.0,642.1 1805.2,642.0 1820.5,642.0 1835.1,642.0"/>
<polyline class="cv" stroke="#ffa500" points="1076.9,463.6 1078.0,462.7 1079.0,461.8 1080.0,461.0 1081.0,460.1 1082.0,459.1 1083.1,458.0 1084.8,456.2 1086.5,454.1 1088.3,452.0 1090.2,449.7 1092.0,447.4 1093.9,445.3 1095.7,443.1 1097.7,441.0 1099.6,438.8 1101.5,436.7 1103.4,434.6 1105.2,432.6 1106.7,430.8 1108.2,429.1 1109.6,427.4 1111.0,425.7 1112.4,424.2 1113.6,422.7 1114.5,421.7 1115.3,420.7 1116.1,419.8 1116.9,418.9 1117.6,418.0 1118.4,417.0 1119.3,419.1 1120.1,421.2 1121.0,423.3 1121.8,425.4 1122.7,427.5 1123.5,429.7 1124.5,432.4 1125.4,435.1 1126.4,437.9 1127.3,440.7 1128.2,443.7 1129.2,446.7 1130.1,450.3 1131.1,454.0 1132.0,457.9 1132.9,461.7 1133.8,465.5 1134.8,469.3 1135.7,472.7 1136.6,476.0 1137.6,479.3 1138.5,482.6 1139.5,485.8 1140.4,489.0 1141.3,492.0 1142.2,494.9 1143.1,497.8 1144.0,500.7 1145.0,503.4 1146.1,505.9 1147.1,508.1 1148.2,510.1 1149.3,512.1 1150.5,514.0 1151.8,515.7 1153.1,517.2 1154.4,518.5 1155.8,519.6 1157.2,520.6 1158.6,521.5 1160.1,522.2 1161.6,522.9 1163.0,523.4 1164.4,523.8 1165.9,524.1 1167.3,524.3 1168.7,524.4 1170.1,524.3 1171.3,524.1 1172.5,523.8 1173.7,523.4 1174.8,522.8 1176.0,522.2 1177.1,521.5 1178.6,520.4 1180.0,519.1 1181.4,517.7 1182.8,516.2 1184.2,514.6 1185.6,513.0 1187.3,511.1 1189.0,509.1 1190.7,507.0 1192.3,504.9 1193.9,502.6 1195.5,500.3 1197.0,497.7 1198.5,495.0 1199.9,492.1 1201.2,489.3 1202.6,486.3 1203.9,483.4 1205.4,480.2 1206.8,477.0 1208.3,473.8 1209.7,470.5 1211.1,467.1 1212.4,463.6 1213.9,459.6 1215.4,455.5 1216.8,451.2 1218.2,446.9 1219.6,442.6 1220.9,438.2 1222.2,433.6 1223.4,428.9 1224.6,424.1 1225.7,419.4 1226.8,414.6 1227.9,410.0 1228.9,405.6 1229.9,401.3 1230.9,397.0 1231.8,392.8 1232.7,388.6 1233.6,384.6 1234.3,381.0 1235.0,377.5 1235.6,374.0 1236.3,370.7 1237.0,367.6 1237.8,364.8 1238.4,363.1 1239.1,361.6 1239.7,360.1 1240.4,358.7 1241.2,357.5 1242.0,356.4 1242.9,355.4 1243.7,354.5 1244.7,353.7 1245.6,353.0 1246.7,352.5 1247.7,352.1 1248.8,352.0 1250.0,352.1 1251.2,352.3 1252.4,352.7 1253.6,353.1 1254.8,353.5 1256.0,354.1 1257.2,354.7 1258.4,355.4 1259.6,356.1 1260.7,356.9 1261.8,357.8 1262.8,358.6 1263.9,359.4 1264.8,360.3 1265.8,361.3 1266.6,362.3 1267.5,363.4 1268.3,364.8 1269.0,366.4 1269.7,368.0 1270.3,369.7 1271.0,371.5 1271.7,373.3 1272.6,375.5 1273.5,377.8 1274.4,380.2 1275.4,382.6 1276.3,385.0 1277.3,387.4 1278.4,390.0 1279.5,392.6 1280.7,395.3 1281.8,397.9 1283.1,400.5 1284.4,402.9 1285.7,405.2 1287.0,407.4 1288.4,409.6 1289.8,411.6 1291.3,413.7 1292.9,415.6 1294.4,417.4 1296.0,419.1 1297.6,420.8 1299.3,422.4 1301.0,424.0 1302.7,425.5 1304.5,427.0 1306.3,428.5 1308.2,429.9 1310.1,431.3 1312.0,432.7 1314.0,434.0 1316.2,435.3 1318.5,436.6 1320.9,437.8 1323.3,439.0 1325.7,440.0 1328.1,441.0 1330.5,441.9 1332.8,442.7 1335.2,443.4 1337.5,444.1 1339.9,444.7 1342.2,445.3 1344.6,445.8 1346.9,446.4 1349.3,446.9 1351.6,447.3 1354.0,447.7 1356.4,448.1 1358.7,448.4 1361.1,448.7 1363.4,449.0 1365.8,449.2 1368.1,449.4 1370.5,449.5 1372.8,449.5 1375.2,449.5 1377.5,449.4 1379.9,449.3 1382.2,449.1 1384.6,448.9 1386.9,448.7 1389.3,448.5 1391.6,448.2 1394.0,447.9 1396.3,447.6 1398.7,447.2 1401.1,446.8 1403.4,446.4 1405.8,446.0 1408.1,445.5 1410.5,445.0 1412.8,444.4 1415.2,443.8 1417.5,443.2 1419.9,442.6 1422.2,441.9 1424.6,441.2 1426.9,440.5 1429.3,439.7 1431.7,438.8 1434.1,437.9 1436.4,437.0 1438.8,435.9 1441.0,434.8 1443.3,433.6 1445.5,432.2 1447.6,430.8 1449.8,429.4 1451.9,427.9 1454.1,426.4 1456.5,424.7 1458.9,423.1 1461.3,421.4 1463.7,419.6 1466.0,417.9 1468.2,416.2 1470.2,414.6 1472.1,413.1 1474.0,411.6 1475.9,410.0 1477.7,408.4 1479.5,406.6 1481.5,404.5 1483.5,402.4 1485.4,400.1 1487.3,397.8 1489.1,395.4 1490.8,393.1 1492.4,390.8 1493.8,388.5 1495.2,386.2 1496.6,383.9 1497.9,381.5 1499.3,378.9 1500.8,375.9 1502.3,372.8 1503.7,369.5 1505.1,366.1 1506.5,362.7 1507.7,359.2 1509.1,355.2 1510.3,351.0 1511.5,346.8 1512.7,342.5 1513.7,338.1 1514.8,333.8 1515.8,329.2 1516.8,324.6 1517.7,319.9 1518.6,315.1 1519.5,310.4 1520.4,305.6 1521.4,300.5 1522.3,295.3 1523.3,290.1 1524.2,284.9 1525.1,279.7 1526.1,274.5 1527.0,269.4 1528.0,264.3 1529.0,259.2 1530.0,254.0 1530.9,248.8 1531.7,243.5 1532.6,237.5 1533.3,231.4 1534.1,225.2 1534.7,219.0 1535.4,212.8 1536.0,206.8 1536.5,201.0 1537.0,195.4 1537.5,189.8 1537.9,184.1 1538.4,178.5 1538.8,172.9 1539.2,167.3 1539.6,161.7 1540.0,156.1 1540.3,150.4 1540.7,144.8 1541.0,139.0 1541.4,132.9 1541.7,126.7 1542.1,120.5 1542.4,114.3 1542.7,108.2 1543.0,102.3 1543.3,97.5 1543.5,92.9 1543.7,88.4 1544.0,83.8 1544.2,79.1 1544.4,74.1 1544.7,67.6 1545.0,60.6 1545.3,53.5 1545.6,46.2 1545.8,38.9 1546.1,31.8 1550.1,31.8 1550.5,38.7 1550.9,45.5 1551.3,52.3 1551.7,59.2 1552.0,66.4 1552.3,74.1 1552.6,84.6 1552.7,95.7 1552.8,107.2 1552.8,119.3 1552.8,131.8 1552.9,144.7 1553.0,162.0 1553.1,180.4 1553.2,199.5 1553.3,219.0 1553.4,238.5 1553.5,257.6 1553.6,276.9 1553.7,297.0 1553.8,317.0 1553.9,336.4 1554.1,354.4 1554.3,370.5 1554.5,379.6 1554.7,387.9 1555.0,395.6 1555.2,403.1 1555.5,410.6 1555.7,418.5 1556.0,426.7 1556.2,435.0 1556.4,443.2 1556.7,451.7 1556.9,460.3 1557.1,469.3 1557.4,480.8 1557.6,493.2 1557.8,506.0 1558.0,518.5 1558.2,530.0 1558.5,539.8 1558.7,544.8 1558.9,549.2 1559.1,553.3 1559.4,557.2 1559.6,561.1 1560.0,565.2 1560.3,569.5 1560.8,573.8 1561.3,578.1 1561.8,582.4 1562.3,586.6 1562.8,590.6 1563.2,594.1 1563.7,597.5 1564.2,600.8 1564.7,604.0 1565.2,607.2 1565.6,610.4 1565.9,613.4 1566.1,616.5 1566.2,619.6 1566.4,622.5 1566.9,625.1 1567.6,627.3 1568.2,628.5 1569.0,629.6 1569.9,630.5 1570.8,631.3 1571.7,632.1 1572.7,633.0 1573.5,633.8 1574.4,634.5 1575.3,635.3 1576.2,636.0 1577.2,636.6 1578.3,637.2 1579.9,637.9 1581.6,638.4 1583.5,638.9 1585.4,639.3 1587.5,639.7 1589.6,640.0 1592.5,640.4 1595.6,640.6 1598.9,640.7 1602.3,640.8 1605.8,640.8 1609.3,640.9 1613.9,640.9 1618.7,640.8 1623.8,640.7 1628.7,640.5 1633.4,640.3 1637.6,640.0 1640.2,639.8 1642.7,639.5 1645.1,639.3 1647.4,638.9 1649.6,638.5 1651.7,638.0 1653.5,637.6 1655.3,637.1 1657.0,636.5 1658.6,635.9 1660.2,635.2 1661.6,634.4 1662.7,633.6 1663.7,632.7 1664.6,631.8 1665.5,630.8 1666.4,629.8 1667.2,628.7 1668.0,627.7 1668.8,626.6 1669.5,625.5 1670.2,624.3 1670.9,623.0 1671.4,621.7 1672.1,619.7 1672.6,617.5 1673.1,615.1 1673.5,612.6 1673.9,610.1 1674.3,607.6 1674.8,604.5 1675.3,601.3 1675.7,598.0 1676.2,594.7 1676.6,591.3 1677.1,587.8 1677.6,583.8 1678.1,579.7 1678.6,575.6 1679.1,571.3 1679.5,566.9 1679.9,562.4 1680.3,556.8 1680.6,551.1 1680.8,545.2 1681.0,539.1 1681.1,532.6 1681.3,525.7 1681.5,515.5 1681.7,504.5 1681.8,492.9 1682.0,480.7 1682.1,468.1 1682.2,455.1 1682.3,437.9 1682.4,419.5 1682.4,400.3 1682.5,380.9 1682.6,361.4 1682.7,342.2 1682.9,323.2 1683.1,304.0 1683.4,284.8 1683.6,265.8 1683.9,247.2 1684.1,229.3 1684.4,214.4 1684.6,199.9 1684.8,185.8 1685.1,171.9 1685.3,158.2 1685.6,144.7 1685.8,132.3 1686.0,120.0 1686.2,107.9 1686.5,96.1 1686.7,84.8 1687.0,74.1 1687.2,66.4 1687.4,59.2 1687.7,52.3 1687.9,45.5 1688.1,38.7 1688.4,31.8 1691.2,31.8 1691.4,38.7 1691.7,45.5 1691.9,52.3 1692.2,59.2 1692.4,66.4 1692.6,74.1 1692.9,85.0 1693.1,97.0 1693.3,109.4 1693.5,121.8 1693.8,133.7 1694.0,144.7 1694.2,152.1 1694.5,158.9 1694.7,165.4 1694.9,172.0 1695.2,179.1 1695.4,187.0 1695.9,201.2 1696.3,217.2 1696.8,234.3 1697.3,251.9 1697.8,269.3 1698.3,285.8 1698.7,300.3 1699.1,314.5 1699.6,328.5 1700.0,342.5 1700.5,356.4 1701.1,370.5 1701.7,384.8 1702.3,399.3 1703.0,413.9 1703.8,428.2 1704.5,442.0 1705.3,455.1 1706.0,465.4 1706.6,475.3 1707.3,484.8 1708.0,494.1 1708.8,503.0 1709.5,511.6 1710.2,518.3 1710.8,524.7 1711.4,530.9 1712.1,536.9 1712.9,542.7 1713.8,548.3 1714.6,552.9 1715.5,557.3 1716.4,561.6 1717.4,565.8 1718.4,569.8 1719.4,573.7 1720.3,576.8 1721.1,579.7 1722.0,582.5 1722.9,585.3 1723.9,588.0 1725.1,590.6 1726.3,593.1 1727.6,595.6 1728.9,598.0 1730.4,600.3 1731.9,602.6 1733.5,604.7 1735.2,606.8 1737.0,608.8 1738.8,610.8 1740.8,612.6 1742.8,614.4 1744.8,616.0 1747.0,617.6 1749.2,619.0 1751.5,620.3 1753.9,621.6 1756.4,622.8 1758.9,623.9 1762.0,625.2 1765.1,626.3 1768.3,627.3 1771.7,628.3 1775.1,629.2 1778.7,630.1 1783.1,631.2 1787.7,632.1 1792.5,633.0 1797.3,633.8 1802.1,634.5 1806.9,635.2 1811.6,635.8 1816.3,636.3 1821.0,636.8 1825.7,637.2 1830.4,637.6 1835.1,638.0"/>
</g>
<g clip-path="url(#cML)">
<polyline class="cv" stroke="#00ffff" points="279.2,1627.9 289.3,1627.6 299.6,1627.3 309.9,1627.0 320.0,1626.7 329.8,1626.4 339.1,1626.0 346.7,1625.8 354.3,1625.7 361.7,1625.6 368.7,1625.4 375.1,1625.0 380.6,1624.4 383.4,1624.0 385.9,1623.5 388.2,1623.0 390.4,1622.4 392.4,1621.8 394.4,1621.0 396.1,1620.2 397.8,1619.4 399.4,1618.4 400.8,1617.5 402.3,1616.4 403.6,1615.2 405.0,1613.9 406.2,1612.5 407.4,1611.0 408.5,1609.4 409.6,1607.7 410.6,1606.0 411.5,1604.1 412.4,1602.1 413.1,1600.0 413.9,1597.9 414.5,1595.7 415.2,1593.3 415.9,1590.2 416.5,1586.9 417.1,1583.4 417.7,1579.8 418.1,1576.2 418.6,1572.6 419.1,1568.9 419.5,1565.2 419.9,1561.4 420.3,1557.6 420.6,1553.7 420.9,1549.5 421.3,1544.2 421.6,1538.7 421.8,1533.0 422.0,1527.1 422.3,1521.1 422.5,1515.0 422.8,1507.7 423.2,1500.3 423.5,1492.7 423.8,1484.9 424.1,1476.9 424.4,1468.9 424.7,1459.6 425.0,1449.9 425.3,1440.1 425.6,1430.3 425.9,1420.6 426.2,1411.3 426.5,1403.3 426.8,1395.5 427.0,1387.9 427.3,1380.4 427.6,1372.8 427.8,1365.2 428.1,1357.4 428.3,1349.6 428.5,1341.7 428.8,1334.0 429.1,1326.4 429.4,1319.1 429.9,1313.1 430.3,1307.2 430.9,1301.5 431.4,1295.9 431.9,1290.3 432.4,1284.6 432.9,1278.9 433.4,1273.3 433.9,1267.8 434.4,1262.1 434.9,1256.2 435.4,1250.0 436.1,1241.6 436.8,1232.5 437.5,1223.1 438.1,1213.7 438.8,1204.4 439.4,1195.6 439.8,1188.3 440.2,1181.1 440.6,1174.0 441.0,1167.1 441.3,1160.5 441.7,1154.1 441.9,1149.1 442.2,1144.2 442.5,1139.4 442.7,1134.8 443.0,1130.5 443.3,1126.5 443.4,1123.7 443.5,1121.0 443.6,1118.3 443.7,1116.0 444.1,1114.0 444.7,1112.7 445.1,1112.2 445.5,1111.9 446.0,1111.6 446.5,1111.4 447.0,1111.4 447.4,1111.5 448.1,1112.6 448.5,1114.6 448.7,1117.3 448.9,1120.4 449.1,1123.6 449.3,1126.5 449.5,1129.8 449.8,1133.4 450.0,1137.0 450.2,1140.7 450.5,1144.1 450.9,1147.2 451.2,1149.5 451.4,1151.8 451.7,1154.0 452.0,1156.0 452.5,1157.6 453.2,1158.8 453.6,1159.2 454.1,1159.6 454.7,1159.8 455.2,1160.0 455.7,1160.0 456.2,1159.9 456.8,1159.2 457.4,1157.9 457.8,1156.1 458.2,1154.1 458.6,1151.8 458.9,1149.5 459.6,1145.0 460.3,1139.7 460.8,1133.8 461.3,1127.6 461.9,1121.3 462.4,1115.0 463.0,1107.7 463.6,1100.3 464.2,1092.7 464.7,1084.9 465.3,1077.0 465.9,1068.9 466.5,1059.7 467.1,1050.2 467.6,1040.5 468.2,1030.7 468.8,1021.0 469.3,1011.3 469.8,1001.7 470.4,992.1 470.9,982.5 471.4,972.9 471.9,963.3 472.3,953.7 472.7,944.0 473.1,934.1 473.5,924.2 473.9,914.5 474.3,905.0 474.6,896.1 474.9,889.2 475.2,882.7 475.4,876.4 475.7,870.1 475.9,863.7 476.2,856.9 476.6,848.5 477.0,839.8 477.3,830.9 477.7,821.9 478.1,812.8 478.5,803.9 499.3,803.9 499.6,812.8 499.9,821.9 500.1,830.9 500.5,839.9 500.9,848.6 501.6,856.9 502.3,863.8 503.3,870.3 504.3,876.7 505.4,883.0 506.4,889.4 507.3,896.1 508.2,903.5 509.0,911.2 509.8,918.9 510.5,926.7 511.3,934.4 511.9,942.2 512.6,949.8 513.2,957.5 513.7,965.2 514.3,972.9 514.8,980.6 515.4,988.2 516.0,995.9 516.5,1003.6 517.0,1011.3 517.6,1019.0 518.2,1026.7 518.8,1034.3 519.5,1042.0 520.3,1049.7 521.0,1057.4 521.8,1065.1 522.6,1072.7 523.5,1080.4 524.3,1088.1 525.3,1095.8 526.3,1103.5 527.3,1111.1 528.2,1118.8 529.2,1126.5 530.2,1134.3 531.1,1142.1 532.0,1150.0 533.0,1157.7 534.0,1165.3 535.0,1172.6 535.9,1178.6 536.8,1184.3 537.7,1190.0 538.7,1195.5 539.7,1201.2 540.7,1207.1 542.0,1214.1 543.3,1221.3 544.7,1228.6 546.1,1235.9 547.5,1243.1 548.8,1250.0 550.0,1255.9 551.1,1261.7 552.2,1267.3 553.3,1273.0 554.5,1278.7 555.7,1284.6 557.1,1291.3 558.6,1298.3 560.2,1305.3 561.7,1312.4 563.3,1319.3 564.9,1326.0 566.4,1332.0 567.9,1337.9 569.5,1343.6 571.0,1349.3 572.6,1355.0 574.1,1360.6 575.7,1366.1 577.2,1371.5 578.7,1377.0 580.2,1382.3 581.8,1387.6 583.4,1392.9 584.9,1397.7 586.3,1402.4 587.9,1407.1 589.4,1411.7 591.0,1416.2 592.6,1420.5 594.0,1424.2 595.5,1427.8 597.1,1431.3 598.6,1434.7 600.2,1438.0 601.8,1441.2 603.3,1444.1 604.8,1446.9 606.3,1449.7 607.8,1452.3 609.4,1454.9 611.0,1457.4 612.5,1459.5 614.0,1461.6 615.5,1463.6 617.0,1465.5 618.6,1467.3 620.2,1468.9 621.7,1470.1 623.2,1471.3 624.7,1472.3 626.3,1473.2 627.9,1474.0 629.4,1474.7 630.9,1475.1 632.5,1475.5 634.0,1475.7 635.6,1475.8 637.1,1475.9 638.7,1475.8 640.2,1475.6 641.8,1475.4 643.3,1475.0 644.8,1474.6 646.4,1474.0 647.9,1473.5 649.5,1472.9 651.1,1472.3 652.7,1471.5 654.2,1470.8 655.7,1469.9 657.1,1468.9 658.4,1467.8 659.6,1466.5 660.8,1465.1 661.9,1463.7 662.9,1462.2 664.0,1460.8 665.0,1459.4 666.0,1457.9 666.9,1456.3 667.9,1454.8 668.9,1453.5 670.0,1452.3 671.1,1451.4 672.2,1450.6 673.4,1449.8 674.5,1449.2 675.7,1448.8 676.9,1448.6 678.1,1448.7 679.2,1449.1 680.4,1449.6 681.5,1450.2 682.7,1451.0 683.8,1451.8 685.3,1453.1 686.9,1454.7 688.4,1456.5 689.9,1458.3 691.4,1460.2 693.0,1462.0 694.9,1463.9 696.8,1465.7 698.7,1467.6 700.7,1469.5 702.7,1471.5 704.6,1473.5 706.5,1475.7 708.5,1477.9 710.4,1480.2 712.3,1482.5 714.2,1484.9 716.1,1487.3 718.1,1489.9 720.1,1492.5 722.0,1495.2 724.0,1497.9 725.8,1500.6 727.6,1503.5 729.3,1506.4 730.9,1509.4 732.5,1512.5 734.0,1515.6 735.4,1518.8 736.8,1521.9 738.1,1524.9 739.3,1528.0 740.4,1531.1 741.5,1534.2 742.6,1537.2 743.7,1540.3 744.9,1543.4 746.0,1546.5 747.2,1549.6 748.3,1552.7 749.5,1555.8 750.6,1558.8 751.8,1561.5 752.9,1564.2 754.1,1566.9 755.2,1569.6 756.4,1572.2 757.6,1574.9 758.7,1577.6 759.8,1580.4 760.9,1583.1 762.1,1585.9 763.3,1588.5 764.5,1591.0 765.6,1593.1 766.8,1595.0 768.0,1596.8 769.2,1598.7 770.4,1600.5 771.4,1602.5 772.3,1604.7 773.1,1607.1 773.8,1609.4 774.5,1611.8 775.2,1614.1 776.0,1616.4 776.7,1618.6 777.5,1621.1 778.2,1623.6 779.0,1625.8 779.8,1627.3 780.6,1627.9 781.3,1627.4 782.0,1626.1 782.7,1624.3 783.5,1622.3 784.3,1620.3 785.2,1618.7 786.2,1617.3 787.3,1615.8 788.4,1614.4 789.6,1613.2 790.9,1612.3 792.1,1611.8 793.2,1611.7 794.3,1611.9 795.5,1612.4 796.6,1612.9 797.8,1613.5 799.0,1614.1 800.5,1614.7 802.0,1615.4 803.5,1616.1 805.1,1616.9 806.7,1617.6 808.2,1618.2 809.8,1618.7 811.3,1619.2 812.8,1619.6 814.4,1620.0 815.9,1620.3 817.5,1620.5 819.0,1620.6 820.6,1620.7 822.1,1620.6 823.7,1620.5 825.2,1620.2 826.7,1619.8 828.3,1619.2 829.9,1618.4 831.5,1617.5 833.0,1616.4 834.5,1615.3 835.9,1614.1 837.2,1612.7 838.4,1611.3 839.6,1609.8 840.7,1608.2 841.7,1606.6 842.8,1604.8 844.0,1602.8 845.2,1600.6 846.4,1598.3 847.5,1595.9 848.6,1593.5 849.7,1591.0 850.9,1588.1 852.0,1585.1 853.1,1582.0 854.2,1578.9 855.4,1575.7 856.6,1572.6 858.0,1569.2 859.5,1565.7 861.0,1562.2 862.5,1558.6 864.1,1555.2 865.9,1551.8 867.6,1548.6 869.5,1545.5 871.4,1542.4 873.4,1539.4 875.4,1536.4 877.4,1533.4 879.3,1530.7 881.2,1528.0 883.2,1525.4 885.1,1522.8 887.0,1520.1 888.9,1517.3 890.9,1514.0 892.9,1510.6 894.9,1507.1 896.8,1503.6 898.6,1500.1 900.4,1496.5 902.1,1493.2 903.7,1489.8 905.2,1486.5 906.7,1483.1 908.2,1479.5 909.6,1475.8 911.3,1471.2 912.9,1466.2 914.5,1461.1 916.0,1456.0 917.4,1450.9 918.8,1445.9 920.1,1441.2 921.3,1436.6 922.4,1432.0 923.5,1427.5 924.6,1422.9 925.8,1418.2 926.9,1413.3 928.1,1408.4 929.3,1403.4 930.4,1398.4 931.5,1393.4 932.7,1388.2 933.9,1382.6 935.0,1376.9 936.2,1371.1 937.3,1365.3 938.4,1359.5 939.6,1353.7 940.7,1347.9 941.9,1342.2 943.0,1336.4 944.2,1330.6 945.3,1324.9 946.5,1319.1 947.7,1313.4 948.8,1307.6 950.0,1301.8 951.1,1296.1 952.3,1290.3 953.4,1284.6 954.5,1278.7 955.6,1272.7 956.7,1266.7 957.7,1260.8 958.8,1255.2 959.9,1250.0 960.7,1246.4 961.5,1242.9 962.3,1239.7 963.1,1236.5 964.0,1233.4 964.9,1230.2 966.0,1227.0 967.0,1223.7 968.2,1220.4 969.4,1217.2 970.6,1214.3 971.8,1211.8 972.7,1210.1 973.7,1208.5 974.6,1207.1 975.6,1205.8 976.6,1204.7 977.6,1203.7 978.4,1203.1 979.3,1202.5 980.2,1202.0 981.1,1201.6 982.0,1201.4 982.9,1201.4 983.9,1201.5 985.0,1201.9 986.1,1202.4 987.2,1203.1 988.2,1203.9 989.1,1204.8 990.3,1206.3 991.3,1208.0 992.3,1210.0 993.2,1212.0 994.1,1214.2 994.9,1216.4 995.8,1218.9 996.6,1221.5 997.4,1224.2 998.1,1226.9 998.8,1229.7 999.5,1232.5 1000.1,1235.3 1000.7,1238.2 1001.2,1241.0 1001.7,1244.0 1002.3,1246.9 1002.9,1250.0 1003.8,1253.6 1004.6,1257.4 1005.6,1261.2 1006.5,1265.1 1007.6,1269.1 1008.7,1273.0 1010.1,1277.5 1011.5,1282.1 1013.1,1286.8 1014.7,1291.5 1016.3,1296.1 1017.9,1300.7 1019.4,1305.0 1021.0,1309.3 1022.5,1313.5 1024.0,1317.7 1025.6,1321.9 1027.1,1326.0 1028.7,1330.0 1030.2,1333.9 1031.7,1337.7 1033.2,1341.5 1034.8,1345.3 1036.4,1349.1 1037.8,1352.6 1039.3,1355.9 1040.8,1359.3 1042.3,1362.7 1043.9,1366.2 1045.6,1369.8 1047.7,1374.5 1050.0,1379.4 1052.3,1384.5 1054.7,1389.6 1057.1,1394.7 1059.4,1399.8"/>
<polyline class="cv" stroke="#ffa500" points="279.2,1628.3 303.9,1628.5 330.6,1629.0 357.4,1629.4 382.1,1629.6 402.8,1629.2 417.5,1627.9 420.7,1627.3 423.3,1626.6 425.6,1625.9 427.5,1625.1 429.4,1624.3 431.3,1623.3 433.0,1622.3 434.7,1621.3 436.2,1620.2 437.7,1619.0 439.2,1617.8 440.5,1616.4 441.9,1614.7 443.1,1613.0 444.3,1611.1 445.4,1609.1 446.5,1607.0 447.4,1604.8 448.4,1602.1 449.3,1599.2 450.1,1596.1 450.8,1593.0 451.4,1589.7 452.0,1586.4 452.7,1582.5 453.2,1578.4 453.6,1574.2 454.0,1570.0 454.4,1565.6 454.8,1561.1 455.2,1555.7 455.7,1550.1 456.0,1544.4 456.4,1538.6 456.8,1532.6 457.1,1526.5 457.5,1519.3 457.8,1511.8 458.1,1504.2 458.4,1496.4 458.7,1488.5 458.9,1480.4 459.3,1471.2 459.6,1461.7 459.8,1452.0 460.1,1442.2 460.5,1432.5 460.8,1422.8 461.1,1413.2 461.5,1403.6 461.9,1394.0 462.3,1384.4 462.7,1374.8 463.1,1365.2 463.5,1355.6 463.9,1346.0 464.4,1336.4 464.9,1326.8 465.3,1317.2 465.9,1307.6 466.4,1298.0 467.0,1288.3 467.6,1278.7 468.2,1269.1 468.7,1259.5 469.3,1250.0 469.8,1240.7 470.3,1231.3 470.8,1221.9 471.3,1212.8 471.8,1204.0 472.3,1195.6 472.7,1189.4 473.1,1183.5 473.5,1177.9 473.8,1172.3 474.2,1166.7 474.6,1161.1 475.0,1155.2 475.4,1149.2 475.8,1143.2 476.2,1137.4 476.5,1131.7 476.9,1126.5 477.2,1122.6 477.5,1118.7 477.7,1114.9 478.0,1111.4 478.3,1108.3 478.5,1105.8 478.6,1104.7 478.8,1103.8 478.9,1103.0 479.0,1102.3 479.1,1101.5 479.2,1100.7 479.5,1103.8 479.8,1106.9 480.0,1110.0 480.3,1113.1 480.6,1116.3 480.8,1119.6 481.1,1123.7 481.3,1128.1 481.5,1132.6 481.8,1137.0 482.1,1141.2 482.4,1144.9 482.7,1147.5 482.9,1150.0 483.2,1152.4 483.5,1154.6 484.0,1156.3 484.7,1157.6 485.3,1158.1 485.9,1158.5 486.6,1158.8 487.2,1158.9 487.9,1158.9 488.4,1158.8 489.1,1158.2 489.7,1157.4 490.2,1156.2 490.7,1154.9 491.2,1153.4 491.7,1151.8 492.4,1148.6 493.1,1144.8 493.7,1140.4 494.3,1135.9 494.8,1131.1 495.3,1126.5 495.9,1121.1 496.5,1115.6 497.0,1109.9 497.5,1104.0 498.0,1098.0 498.6,1091.9 499.2,1084.7 499.8,1077.3 500.5,1069.6 501.1,1061.8 501.7,1053.9 502.3,1045.9 502.8,1036.6 503.3,1027.1 503.7,1017.5 504.1,1007.7 504.6,997.9 505.0,988.2 505.5,978.6 506.0,968.8 506.5,959.0 507.0,949.4 507.5,939.9 508.0,930.6 508.4,922.5 508.8,914.5 509.2,906.6 509.6,898.9 510.0,891.5 510.3,884.6 510.6,879.7 510.9,875.2 511.2,870.9 511.4,866.5 511.7,862.0 511.9,856.9 512.3,849.1 512.6,840.5 512.9,831.5 513.2,822.2 513.5,812.9 513.8,803.9 533.1,803.9 533.5,812.8 533.8,821.6 534.1,830.5 534.4,839.3 534.9,848.2 535.4,856.9 536.2,865.4 537.0,873.8 538.0,882.1 538.9,890.5 539.9,899.0 540.7,907.6 541.6,917.0 542.4,926.5 543.1,936.2 543.8,945.9 544.6,955.6 545.3,965.2 546.1,974.9 546.8,984.7 547.5,994.4 548.3,1004.1 549.1,1013.6 550.0,1022.8 550.8,1030.8 551.8,1038.6 552.8,1046.2 553.8,1053.7 554.8,1061.3 555.7,1068.9 556.6,1076.6 557.4,1084.3 558.2,1092.1 559.0,1099.8 559.8,1107.4 560.8,1115.0 561.8,1122.1 562.8,1129.1 563.8,1136.1 564.9,1143.0 566.1,1149.8 567.2,1156.5 568.3,1162.4 569.4,1168.3 570.5,1174.0 571.7,1179.7 572.9,1185.4 574.1,1191.0 575.4,1196.5 576.8,1202.0 578.1,1207.4 579.5,1212.8 580.9,1218.1 582.2,1223.3 583.4,1227.9 584.5,1232.4 585.6,1236.8 586.8,1241.2 587.9,1245.6 589.1,1250.0 590.4,1254.6 591.7,1259.1 593.1,1263.7 594.4,1268.3 595.8,1272.9 597.2,1277.6 598.7,1282.9 600.2,1288.3 601.7,1293.8 603.3,1299.3 604.8,1304.7 606.4,1309.9 607.9,1314.7 609.4,1319.3 611.0,1324.0 612.5,1328.5 614.1,1333.1 615.6,1337.6 617.1,1341.9 618.6,1346.2 620.2,1350.5 621.7,1354.7 623.2,1358.9 624.8,1362.9 626.3,1366.6 627.8,1370.2 629.3,1373.7 630.8,1377.2 632.4,1380.5 634.1,1383.6 635.5,1386.2 637.0,1388.7 638.5,1391.1 640.0,1393.3 641.6,1395.5 643.3,1397.5 644.7,1399.1 646.3,1400.7 647.9,1402.2 649.4,1403.6 651.0,1404.7 652.5,1405.5 653.5,1405.9 654.4,1406.3 655.4,1406.5 656.4,1406.6 657.3,1406.5 658.2,1406.2 659.6,1405.4 661.1,1404.1 662.5,1402.5 663.9,1400.8 665.2,1399.0 666.3,1397.5 667.0,1396.3 667.6,1395.2 668.1,1394.1 668.6,1393.0 669.2,1391.9 670.0,1391.0 671.0,1390.1 672.1,1389.1 673.3,1388.3 674.5,1387.5 675.7,1387.0 676.9,1386.9 678.1,1387.0 679.2,1387.5 680.4,1388.1 681.5,1389.0 682.7,1390.0 683.8,1391.0 685.4,1392.7 687.0,1394.7 688.5,1396.9 690.0,1399.3 691.5,1401.8 693.0,1404.4 695.0,1407.8 696.9,1411.6 698.8,1415.6 700.7,1419.6 702.6,1423.6 704.6,1427.4 706.4,1431.0 708.3,1434.6 710.2,1438.1 712.1,1441.5 714.1,1444.9 716.1,1448.2 717.9,1451.0 719.8,1453.8 721.7,1456.6 723.7,1459.2 725.6,1461.8 727.6,1464.3 729.5,1466.5 731.5,1468.7 733.4,1470.7 735.4,1472.8 737.3,1474.8 739.1,1477.0 740.8,1479.0 742.4,1481.1 744.0,1483.1 745.5,1485.2 747.0,1487.4 748.3,1489.6 749.7,1492.1 750.9,1494.7 752.1,1497.4 753.2,1500.1 754.2,1502.9 755.3,1505.8 756.3,1509.0 757.4,1512.3 758.3,1515.7 759.2,1519.2 760.1,1522.8 761.0,1526.5 762.1,1531.2 763.1,1536.1 764.0,1541.2 765.0,1546.3 765.9,1551.5 766.8,1556.5 767.6,1561.2 768.4,1565.9 769.2,1570.6 769.9,1575.2 770.7,1579.7 771.4,1584.1 772.0,1587.7 772.6,1591.3 773.1,1594.7 773.7,1598.1 774.3,1601.5 774.8,1604.8 775.3,1608.2 775.8,1611.7 776.2,1615.3 776.7,1618.5 777.4,1621.3 778.3,1623.3 778.8,1624.0 779.4,1624.6 780.0,1625.1 780.6,1625.5 781.2,1625.7 781.8,1625.6 782.8,1624.1 783.7,1620.9 784.4,1616.6 785.0,1611.8 785.7,1606.9 786.4,1602.5 787.1,1598.2 787.8,1593.6 788.4,1589.0 789.2,1584.6 790.0,1580.6 791.0,1577.2 791.6,1575.4 792.3,1573.6 793.0,1572.0 793.8,1570.6 794.7,1569.6 795.6,1569.1 796.4,1569.1 797.3,1569.5 798.3,1570.1 799.3,1570.9 800.3,1571.7 801.3,1572.6 802.8,1573.8 804.3,1575.3 805.8,1577.0 807.4,1578.7 809.0,1580.3 810.6,1581.8 812.0,1583.1 813.5,1584.4 815.0,1585.6 816.5,1586.8 818.1,1587.8 819.8,1588.7 821.6,1589.4 823.5,1590.0 825.5,1590.5 827.5,1590.8 829.4,1591.0 831.3,1591.0 832.9,1590.9 834.5,1590.7 836.0,1590.4 837.5,1589.9 839.0,1589.4 840.5,1588.7 842.1,1587.9 843.7,1586.9 845.3,1585.8 846.8,1584.6 848.3,1583.2 849.7,1581.8 851.4,1579.9 853.0,1577.7 854.5,1575.4 856.0,1573.0 857.5,1570.5 858.9,1568.0 860.5,1565.1 862.1,1562.1 863.6,1559.0 865.1,1555.8 866.6,1552.6 868.2,1549.5 869.7,1546.5 871.2,1543.5 872.7,1540.5 874.3,1537.5 875.8,1534.4 877.4,1531.1 879.3,1527.1 881.2,1523.0 883.2,1518.7 885.2,1514.4 887.1,1510.1 888.9,1505.8 890.6,1501.6 892.1,1497.4 893.7,1493.3 895.2,1489.1 896.6,1484.8 898.1,1480.4 899.7,1475.6 901.3,1470.7 902.8,1465.8 904.3,1460.7 905.8,1455.6 907.3,1450.5 908.9,1444.9 910.5,1439.2 912.0,1433.4 913.5,1427.6 915.0,1421.8 916.5,1415.9 918.1,1409.8 919.6,1403.7 921.2,1397.5 922.7,1391.3 924.2,1385.1 925.8,1379.0 927.3,1373.2 928.8,1367.3 930.3,1361.4 931.8,1355.6 933.4,1350.0 935.0,1344.5 936.5,1339.6 938.0,1334.9 939.5,1330.3 941.0,1325.7 942.6,1321.2 944.2,1316.8 945.7,1312.8 947.2,1308.8 948.7,1304.9 950.2,1301.0 951.8,1297.3 953.4,1293.8 954.9,1290.8 956.3,1287.9 957.8,1285.1 959.3,1282.4 960.9,1279.9 962.6,1277.6 964.1,1276.0 965.6,1274.5 967.1,1273.1 968.7,1271.8 970.3,1270.7 971.8,1269.6 973.2,1268.7 974.5,1267.8 975.9,1267.0 977.3,1266.3 978.6,1265.9 979.9,1265.7 981.1,1265.7 982.3,1266.0 983.5,1266.4 984.6,1266.9 985.8,1267.6 986.8,1268.4 988.1,1269.8 989.4,1271.4 990.5,1273.3 991.6,1275.4 992.7,1277.6 993.7,1280.0 995.2,1283.6 996.6,1287.7 997.9,1292.0 999.2,1296.5 1000.5,1301.0 1001.8,1305.3 1003.0,1309.2 1004.1,1313.0 1005.2,1316.8 1006.3,1320.6 1007.5,1324.4 1008.7,1328.3 1010.1,1332.8 1011.6,1337.5 1013.2,1342.2 1014.7,1346.9 1016.3,1351.5 1017.9,1356.0 1019.4,1360.0 1020.9,1363.9 1022.5,1367.7 1024.0,1371.5 1025.6,1375.3 1027.1,1379.0 1028.7,1382.6 1030.2,1386.0 1031.7,1389.5 1033.3,1392.9 1034.8,1396.3 1036.4,1399.8 1037.9,1403.2 1039.4,1406.5 1040.9,1409.7 1042.4,1413.1 1044.0,1416.7 1045.6,1420.5 1047.8,1426.0 1050.0,1432.0 1052.4,1438.3 1054.7,1444.7 1057.1,1451.1 1059.4,1457.4"/>
<polyline class="cv" stroke="#9400d3" points="279.2,1628.3 302.5,1628.3 327.8,1628.5 353.1,1628.6 376.3,1628.6 395.4,1628.2 408.2,1627.2 410.4,1626.8 412.2,1626.4 413.6,1626.0 414.8,1625.6 416.1,1625.0 417.5,1624.4 419.1,1623.7 420.6,1622.8 422.2,1621.9 423.7,1620.9 425.2,1619.8 426.7,1618.7 428.2,1617.3 429.6,1615.9 431.0,1614.4 432.3,1612.9 433.6,1611.2 434.7,1609.4 435.9,1607.4 437.0,1605.2 438.0,1602.9 438.9,1600.6 439.7,1598.1 440.5,1595.6 441.3,1592.8 441.9,1589.9 442.5,1586.8 443.0,1583.7 443.5,1580.5 444.0,1577.2 444.5,1572.9 444.9,1568.5 445.3,1563.9 445.6,1559.2 446.0,1554.4 446.3,1549.5 446.6,1544.1 446.9,1538.5 447.1,1532.8 447.4,1527.0 447.6,1521.1 447.9,1515.0 448.2,1507.7 448.5,1500.3 448.8,1492.7 449.1,1484.9 449.4,1476.9 449.7,1468.9 450.1,1459.7 450.5,1450.2 450.9,1440.5 451.3,1430.7 451.6,1421.0 452.0,1411.3 452.4,1401.7 452.8,1392.1 453.1,1382.5 453.5,1372.9 453.9,1363.3 454.3,1353.7 454.8,1344.0 455.3,1334.2 455.9,1324.5 456.5,1314.8 457.1,1305.3 457.8,1296.1 458.5,1288.1 459.3,1280.5 460.2,1273.0 461.0,1265.5 461.7,1257.8 462.4,1250.0 462.9,1241.1 463.3,1231.8 463.7,1222.3 464.0,1213.0 464.3,1204.0 464.7,1195.6 465.1,1189.4 465.4,1183.5 465.8,1177.9 466.2,1172.3 466.6,1166.7 467.0,1161.1 467.4,1155.2 467.8,1149.3 468.2,1143.3 468.6,1137.5 468.9,1131.9 469.3,1126.5 469.6,1122.3 469.9,1118.2 470.2,1114.2 470.4,1110.3 470.7,1106.8 470.9,1103.5 471.1,1101.4 471.2,1099.5 471.4,1097.7 471.5,1095.9 471.7,1094.2 471.8,1092.4 472.1,1096.1 472.3,1099.8 472.5,1103.5 472.7,1107.2 473.0,1111.0 473.2,1115.0 473.5,1119.9 473.8,1125.2 474.0,1130.6 474.3,1135.8 474.7,1140.7 475.1,1144.9 475.3,1147.3 475.5,1149.6 475.7,1151.8 475.9,1153.7 476.3,1155.3 476.9,1156.5 477.3,1156.9 477.8,1157.2 478.2,1157.5 478.7,1157.6 479.2,1157.7 479.7,1157.6 480.3,1157.2 480.9,1156.5 481.5,1155.6 482.1,1154.4 482.6,1153.2 483.1,1151.8 483.9,1149.2 484.6,1146.2 485.1,1142.7 485.6,1139.0 486.1,1135.1 486.6,1131.1 487.3,1125.3 487.9,1119.1 488.4,1112.5 489.0,1105.7 489.5,1098.8 490.0,1091.9 490.6,1084.5 491.2,1077.0 491.8,1069.5 492.4,1061.7 492.9,1053.9 493.5,1045.9 494.1,1036.6 494.7,1027.1 495.3,1017.5 495.8,1007.7 496.4,997.9 497.0,988.2 497.5,978.6 498.1,968.8 498.7,959.0 499.3,949.4 499.9,939.9 500.4,930.6 500.8,922.5 501.2,914.5 501.6,906.6 502.0,898.9 502.3,891.5 502.7,884.6 503.0,879.7 503.4,875.2 503.7,870.9 504.0,866.5 504.3,862.0 504.6,856.9 504.9,849.1 505.2,840.5 505.4,831.5 505.7,822.2 505.9,812.9 506.2,803.9 525.8,803.9 526.1,812.8 526.4,821.6 526.8,830.5 527.1,839.3 527.5,848.2 528.1,856.9 528.7,865.4 529.4,873.8 530.2,882.1 531.1,890.5 531.9,899.0 532.7,907.6 533.5,917.0 534.2,926.5 535.0,936.2 535.8,945.9 536.5,955.6 537.3,965.2 538.0,974.9 538.8,984.6 539.5,994.4 540.3,1004.1 541.1,1013.6 541.9,1022.8 542.6,1030.8 543.3,1038.6 544.1,1046.2 544.9,1053.7 545.7,1061.3 546.5,1068.9 547.4,1076.6 548.3,1084.4 549.3,1092.1 550.3,1099.8 551.3,1107.4 552.3,1115.0 553.2,1122.0 554.1,1129.0 555.0,1135.9 556.0,1142.8 557.0,1149.6 558.0,1156.5 559.1,1163.1 560.2,1169.7 561.4,1176.4 562.5,1182.9 563.7,1189.3 564.9,1195.6 566.0,1201.3 567.2,1206.8 568.3,1212.3 569.5,1217.7 570.7,1222.9 571.8,1227.9 572.8,1231.8 573.7,1235.4 574.7,1239.0 575.6,1242.5 576.6,1246.2 577.6,1250.0 578.9,1254.7 580.2,1259.6 581.5,1264.6 582.9,1269.6 584.3,1274.8 585.7,1280.0 587.2,1285.6 588.7,1291.3 590.2,1297.2 591.8,1303.0 593.3,1308.8 594.9,1314.5 596.4,1320.0 597.9,1325.5 599.4,1330.9 601.0,1336.3 602.5,1341.6 604.1,1346.8 605.6,1351.6 607.1,1356.3 608.6,1361.0 610.1,1365.6 611.7,1370.1 613.3,1374.4 614.8,1378.1 616.3,1381.7 617.8,1385.2 619.3,1388.6 620.9,1391.9 622.5,1395.2 624.0,1398.1 625.5,1400.9 627.0,1403.7 628.5,1406.4 630.1,1409.0 631.8,1411.3 633.2,1413.1 634.7,1414.9 636.2,1416.5 637.7,1418.0 639.3,1419.3 641.0,1420.5 642.4,1421.4 644.0,1422.2 645.5,1422.9 647.1,1423.4 648.6,1423.8 650.2,1424.0 651.7,1423.9 653.4,1423.6 655.0,1423.2 656.5,1422.6 658.0,1421.9 659.4,1421.0 660.8,1419.7 662.1,1418.2 663.2,1416.5 664.3,1414.7 665.4,1412.9 666.3,1411.3 667.0,1410.1 667.6,1408.9 668.2,1407.8 668.8,1406.6 669.4,1405.5 670.0,1404.4 670.7,1403.2 671.4,1401.9 672.2,1400.6 672.9,1399.4 673.7,1398.3 674.6,1397.5 675.3,1396.9 676.1,1396.5 676.8,1396.1 677.6,1395.8 678.4,1395.6 679.2,1395.6 680.3,1395.8 681.4,1396.3 682.6,1397.0 683.8,1397.8 685.0,1398.8 686.1,1399.8 687.7,1401.3 689.2,1403.0 690.7,1405.0 692.2,1407.0 693.8,1409.2 695.3,1411.3 697.2,1413.8 699.1,1416.5 701.0,1419.3 702.9,1422.1 704.9,1424.8 706.9,1427.4 708.7,1429.8 710.6,1432.2 712.6,1434.5 714.5,1436.8 716.4,1439.1 718.4,1441.2 720.3,1443.3 722.2,1445.3 724.2,1447.2 726.1,1449.1 728.1,1450.9 729.9,1452.8 731.5,1454.3 733.1,1455.9 734.6,1457.3 736.1,1458.8 737.6,1460.4 739.1,1462.0 740.7,1463.8 742.3,1465.6 743.9,1467.5 745.5,1469.5 747.0,1471.4 748.3,1473.5 749.7,1475.7 750.9,1477.9 752.1,1480.1 753.2,1482.5 754.2,1484.9 755.3,1487.3 756.3,1490.2 757.4,1493.2 758.3,1496.3 759.3,1499.4 760.2,1502.6 761.0,1505.8 761.9,1509.1 762.7,1512.5 763.4,1515.8 764.2,1519.3 764.9,1522.8 765.6,1526.5 766.4,1530.9 767.3,1535.5 768.0,1540.1 768.8,1544.9 769.5,1549.6 770.2,1554.1 770.9,1558.4 771.5,1562.7 772.1,1567.0 772.6,1571.2 773.2,1575.3 773.7,1579.5 774.2,1583.4 774.6,1587.4 775.1,1591.3 775.6,1595.2 776.0,1598.9 776.5,1602.5 776.8,1605.8 777.2,1609.3 777.6,1612.8 777.9,1615.8 778.3,1617.9 778.8,1618.7 779.1,1618.3 779.5,1617.1 779.9,1615.5 780.3,1613.6 780.7,1611.5 781.1,1609.4 781.6,1605.9 782.1,1601.7 782.5,1597.1 783.0,1592.4 783.5,1588.0 784.1,1584.1 784.5,1581.5 785.0,1579.0 785.5,1576.6 786.1,1574.3 786.8,1572.2 787.5,1570.3 788.2,1568.9 788.9,1567.5 789.6,1566.2 790.4,1565.0 791.2,1564.1 792.1,1563.4 792.8,1563.0 793.6,1562.8 794.4,1562.7 795.1,1562.7 795.9,1562.7 796.7,1562.9 797.7,1563.2 798.6,1563.7 799.6,1564.4 800.6,1565.1 801.5,1565.9 802.5,1566.8 803.8,1568.2 805.1,1569.8 806.5,1571.6 807.8,1573.5 809.2,1575.4 810.6,1577.2 812.0,1579.1 813.5,1581.2 815.0,1583.2 816.6,1585.2 818.1,1587.1 819.8,1588.7 821.2,1590.0 822.7,1591.2 824.3,1592.3 825.8,1593.2 827.4,1594.0 829.0,1594.5 830.5,1594.7 832.0,1594.7 833.6,1594.6 835.2,1594.3 836.7,1593.9 838.2,1593.3 839.8,1592.6 841.4,1591.6 843.0,1590.5 844.5,1589.2 846.0,1587.9 847.4,1586.4 849.1,1584.5 850.7,1582.4 852.2,1580.1 853.7,1577.7 855.2,1575.2 856.6,1572.6 858.3,1569.4 859.8,1566.1 861.3,1562.6 862.8,1559.1 864.3,1555.5 865.9,1551.8 867.7,1547.8 869.6,1543.6 871.5,1539.3 873.5,1535.0 875.4,1530.8 877.4,1526.5 879.3,1522.3 881.3,1518.1 883.3,1513.9 885.2,1509.6 887.1,1505.4 888.9,1501.2 890.6,1497.0 892.1,1492.8 893.7,1488.7 895.2,1484.4 896.6,1480.2 898.1,1475.8 899.7,1471.0 901.3,1466.1 902.8,1461.1 904.3,1456.1 905.8,1451.0 907.3,1445.9 908.9,1440.3 910.5,1434.6 912.0,1428.8 913.5,1423.0 915.0,1417.2 916.5,1411.3 918.1,1405.2 919.6,1399.0 921.2,1392.9 922.7,1386.7 924.2,1380.5 925.8,1374.4 927.3,1368.5 928.8,1362.7 930.3,1356.8 931.8,1351.0 933.4,1345.4 935.0,1339.9 936.5,1335.0 938.0,1330.3 939.5,1325.7 941.0,1321.1 942.6,1316.6 944.2,1312.2 945.7,1308.2 947.2,1304.2 948.7,1300.2 950.2,1296.4 951.8,1292.7 953.4,1289.2 954.9,1286.2 956.3,1283.3 957.8,1280.5 959.3,1277.8 960.9,1275.3 962.6,1273.0 964.1,1271.4 965.6,1269.7 967.1,1268.3 968.7,1266.9 970.3,1265.8 971.8,1265.0 973.0,1264.5 974.2,1264.1 975.3,1263.9 976.5,1263.7 977.6,1263.7 978.8,1263.8 979.9,1264.1 981.1,1264.4 982.3,1264.9 983.5,1265.6 984.6,1266.4 985.7,1267.3 987.0,1268.8 988.2,1270.7 989.4,1272.8 990.5,1275.1 991.5,1277.5 992.6,1280.0 993.9,1283.3 995.1,1287.0 996.2,1290.9 997.3,1294.9 998.4,1299.0 999.5,1303.0 1000.6,1307.1 1001.8,1311.3 1002.9,1315.5 1004.0,1319.7 1005.2,1324.0 1006.4,1328.3 1007.8,1333.2 1009.3,1338.3 1010.8,1343.4 1012.4,1348.5 1014.0,1353.5 1015.6,1358.3 1017.1,1362.3 1018.6,1366.2 1020.2,1370.0 1021.7,1373.8 1023.3,1377.5 1024.8,1381.3 1026.4,1385.2 1027.9,1389.0 1029.4,1392.9 1031.0,1396.7 1032.5,1400.5 1034.1,1404.4 1035.6,1408.2 1037.2,1412.1 1038.8,1416.0 1040.3,1419.8 1041.8,1423.6 1043.3,1427.4 1044.5,1430.9 1045.7,1434.2 1046.8,1437.5 1047.9,1440.9 1049.0,1444.4 1050.2,1448.2 1051.7,1453.4 1053.2,1459.0 1054.8,1464.9 1056.3,1470.9 1057.9,1476.9 1059.4,1482.7"/>
</g>
<g clip-path="url(#cMR)">
<polyline class="cv" stroke="#00ffff" points="1056.9,1628.3 1057.7,1628.3 1058.4,1628.3 1059.2,1628.3 1059.9,1628.3 1060.7,1628.2 1061.5,1627.9 1063.0,1627.0 1064.6,1625.7 1066.2,1624.1 1067.8,1622.4 1069.3,1620.5 1070.7,1618.7 1072.1,1616.6 1073.4,1614.5 1074.5,1612.3 1075.6,1609.9 1076.7,1607.4 1077.6,1604.8 1078.8,1601.4 1079.9,1597.8 1080.9,1594.0 1081.8,1590.0 1082.6,1586.0 1083.4,1581.8 1084.2,1576.8 1084.9,1571.7 1085.4,1566.4 1085.9,1560.9 1086.4,1555.3 1086.9,1549.5 1087.4,1542.4 1087.9,1535.1 1088.4,1527.6 1088.8,1519.8 1089.2,1511.8 1089.6,1503.5 1090.1,1492.7 1090.5,1481.5 1090.9,1469.8 1091.2,1457.9 1091.6,1446.0 1091.9,1434.3 1092.3,1422.8 1092.7,1411.3 1093.0,1399.8 1093.4,1388.2 1093.8,1376.7 1094.2,1365.2 1094.7,1353.5 1095.2,1341.6 1095.6,1329.8 1096.2,1318.1 1096.7,1306.8 1097.2,1296.1 1097.7,1288.1 1098.2,1280.7 1098.7,1273.6 1099.2,1266.3 1099.7,1258.6 1100.2,1250.0 1100.9,1235.4 1101.5,1219.2 1102.1,1201.8 1102.7,1184.0 1103.3,1166.4 1103.9,1149.5 1104.6,1134.2 1105.2,1118.9 1105.9,1103.8 1106.6,1088.9 1107.2,1074.2 1107.8,1059.9 1108.4,1047.5 1108.9,1035.4 1109.4,1023.5 1109.9,1011.7 1110.4,1000.0 1110.8,988.2 1111.3,976.7 1111.7,965.3 1112.2,953.8 1112.6,942.4 1113.1,931.0 1113.5,919.6 1113.8,931.0 1114.1,942.4 1114.5,953.8 1114.8,965.3 1115.1,976.7 1115.4,988.2 1115.8,1000.2 1116.1,1012.2 1116.4,1024.3 1116.8,1036.3 1117.1,1048.2 1117.4,1059.9 1117.7,1070.5 1118.0,1080.9 1118.3,1091.2 1118.6,1101.5 1118.8,1111.7 1119.1,1121.9 1119.4,1132.0 1119.7,1142.0 1120.0,1152.0 1120.2,1162.0 1120.5,1172.0 1120.8,1182.0 1121.1,1173.7 1121.5,1165.5 1121.8,1157.3 1122.1,1149.0 1122.4,1140.3 1122.8,1131.1 1123.3,1118.7 1123.9,1105.5 1124.5,1091.8 1125.1,1077.9 1125.6,1063.8 1126.0,1050.0 1126.4,1036.1 1126.6,1022.2 1126.9,1008.3 1127.0,994.3 1127.2,979.9 1127.4,965.2 1127.7,947.7 1127.9,929.1 1128.1,910.2 1128.4,891.6 1128.6,874.0 1128.7,858.1 1128.8,848.0 1128.9,838.7 1129.0,829.8 1129.1,821.3 1129.2,812.7 1129.3,803.9 1136.4,803.9 1136.5,813.0 1136.6,822.1 1136.7,831.1 1136.9,840.2 1137.0,849.2 1137.2,858.1 1137.5,866.5 1137.8,874.9 1138.1,883.3 1138.4,891.5 1138.8,899.6 1139.2,907.6 1139.5,914.9 1139.8,922.3 1140.2,929.6 1140.5,936.5 1140.9,943.0 1141.4,948.8 1141.7,952.3 1142.0,955.4 1142.4,958.4 1142.7,961.2 1143.1,963.8 1143.5,966.4 1143.9,968.4 1144.3,970.5 1144.6,972.6 1145.0,974.4 1145.4,975.6 1145.8,976.0 1146.2,975.5 1146.7,974.2 1147.1,972.2 1147.6,969.9 1148.0,967.5 1148.4,965.2 1148.9,961.9 1149.4,958.3 1149.8,954.5 1150.3,950.5 1150.8,946.3 1151.4,942.2 1152.2,937.0 1153.2,931.4 1154.3,925.8 1155.4,920.1 1156.3,914.5 1157.0,909.2 1157.4,904.9 1157.8,900.8 1158.0,896.7 1158.2,892.7 1158.3,888.7 1158.5,884.6 1158.7,880.3 1159.0,876.1 1159.2,872.0 1159.3,867.6 1159.5,863.0 1159.7,858.1 1159.9,850.1 1160.0,841.4 1160.2,832.2 1160.3,822.7 1160.5,813.2 1160.6,803.9 1172.8,803.9 1172.9,812.7 1173.1,821.4 1173.2,830.1 1173.3,838.9 1173.4,847.8 1173.5,856.9 1173.6,866.7 1173.7,876.2 1173.8,885.9 1173.8,896.0 1173.9,907.0 1174.0,919.1 1174.0,942.0 1174.1,968.3 1174.2,996.7 1174.2,1025.9 1174.3,1054.2 1174.3,1080.4 1174.3,1101.2 1174.4,1121.8 1174.4,1141.9 1174.4,1161.1 1174.5,1179.1 1174.5,1195.6 1174.6,1205.8 1174.6,1215.0 1174.7,1223.7 1174.8,1232.1 1174.8,1240.8 1174.9,1250.0 1174.9,1261.0 1175.0,1272.4 1175.0,1284.0 1175.0,1295.8 1175.1,1307.5 1175.1,1319.1 1175.2,1330.6 1175.3,1342.2 1175.4,1353.7 1175.5,1365.2 1175.7,1376.7 1175.8,1388.2 1175.9,1399.8 1176.1,1411.5 1176.2,1423.2 1176.4,1434.8 1176.5,1446.2 1176.7,1457.4 1176.9,1467.4 1177.1,1477.2 1177.3,1486.9 1177.6,1496.4 1177.8,1505.8 1178.1,1515.0 1178.4,1523.1 1178.7,1531.1 1178.9,1539.0 1179.3,1546.6 1179.7,1554.0 1180.2,1561.1 1180.6,1566.5 1181.1,1571.9 1181.6,1577.0 1182.2,1582.0 1182.9,1586.6 1183.6,1591.0 1184.3,1594.1 1184.9,1597.0 1185.6,1599.8 1186.3,1602.4 1187.2,1604.8 1188.2,1607.1 1189.2,1608.9 1190.2,1610.6 1191.3,1612.2 1192.5,1613.6 1193.8,1615.0 1195.2,1616.4 1196.8,1617.7 1198.6,1619.0 1200.5,1620.2 1202.5,1621.3 1204.6,1622.4 1206.7,1623.3 1208.9,1624.1 1211.1,1624.8 1213.5,1625.4 1215.8,1625.9 1218.2,1626.3 1220.5,1626.7 1222.8,1627.1 1225.1,1627.4 1227.5,1627.6 1229.8,1627.8 1232.1,1627.9 1234.3,1627.9 1236.3,1627.8 1238.3,1627.7 1240.2,1627.6 1242.1,1627.4 1244.0,1627.1 1245.9,1626.7 1247.8,1626.3 1249.7,1625.8 1251.6,1625.2 1253.6,1624.6 1255.5,1623.9 1257.4,1623.3 1259.3,1622.6 1261.2,1621.8 1263.1,1621.0 1265.1,1620.2 1267.0,1619.4 1268.9,1618.7 1270.8,1617.9 1272.7,1617.1 1274.6,1616.3 1276.6,1615.5 1278.5,1614.8 1280.4,1614.1 1282.3,1613.4 1284.2,1612.8 1286.2,1612.3 1288.1,1611.7 1290.0,1611.2 1291.9,1610.6 1293.9,1610.0 1295.8,1609.4 1297.7,1608.7 1299.6,1608.1 1301.6,1607.4 1303.5,1606.7 1305.4,1605.9 1307.3,1605.0 1309.2,1604.1 1311.2,1603.2 1313.1,1602.3 1315.0,1601.4 1316.9,1600.5 1318.8,1599.6 1320.8,1598.6 1322.7,1597.7 1324.6,1596.7 1326.5,1595.6 1328.4,1594.4 1330.4,1593.1 1332.3,1591.7 1334.2,1590.3 1336.1,1588.9 1338.0,1587.6 1339.9,1586.2 1341.9,1584.9 1343.8,1583.6 1345.7,1582.2 1347.6,1580.9 1349.5,1579.5 1351.5,1578.0 1353.4,1576.5 1355.3,1574.9 1357.2,1573.4 1359.1,1571.8 1361.1,1570.3 1363.0,1568.7 1364.9,1567.1 1366.8,1565.5 1368.7,1564.0 1370.6,1562.5 1372.6,1561.1 1374.5,1559.8 1376.4,1558.6 1378.3,1557.5 1380.2,1556.4 1382.2,1555.3 1384.1,1554.1 1386.0,1553.0 1387.9,1551.8 1389.9,1550.7 1391.8,1549.5 1393.7,1548.4 1395.6,1547.2 1397.5,1546.1 1399.5,1545.0 1401.4,1543.8 1403.3,1542.7 1405.2,1541.5 1407.1,1540.3 1409.1,1539.0 1411.0,1537.7 1412.9,1536.4 1414.9,1535.1 1416.8,1533.7 1418.7,1532.3 1420.6,1530.8 1422.5,1529.3 1424.5,1527.8 1426.4,1526.2 1428.3,1524.6 1430.2,1523.0 1432.1,1521.3 1434.1,1519.5 1436.0,1517.6 1438.0,1515.8 1439.8,1514.1 1441.7,1512.7 1443.1,1511.8 1444.6,1511.1 1446.0,1510.5 1447.3,1509.9 1448.7,1509.1 1450.0,1508.1 1451.7,1506.3 1453.2,1504.1 1454.7,1501.7 1456.2,1499.2 1457.7,1496.6 1459.2,1494.2 1460.8,1491.9 1462.3,1489.6 1463.9,1487.3 1465.4,1485.0 1467.0,1482.7 1468.4,1480.4 1469.9,1478.2 1471.3,1476.0 1472.8,1473.8 1474.1,1471.5 1475.4,1469.1 1476.5,1466.6 1477.6,1463.5 1478.4,1460.3 1479.2,1456.9 1479.8,1453.4 1480.4,1449.7 1481.1,1445.9 1482.0,1440.7 1482.8,1435.2 1483.5,1429.4 1484.3,1423.5 1485.0,1417.4 1485.7,1411.3 1486.5,1404.0 1487.3,1396.4 1488.1,1388.7 1488.8,1380.8 1489.6,1373.0 1490.3,1365.2 1491.1,1357.5 1491.9,1349.8 1492.6,1342.2 1493.4,1334.5 1494.2,1326.8 1494.9,1319.1 1495.7,1311.3 1496.5,1303.2 1497.3,1295.1 1498.1,1287.2 1498.9,1279.8 1499.5,1273.0 1500.0,1268.9 1500.3,1265.1 1500.7,1261.6 1501.0,1258.1 1501.4,1254.3 1501.8,1250.0 1502.6,1242.2 1503.5,1233.4 1504.5,1224.0 1505.5,1214.3 1506.6,1204.7 1507.6,1195.6 1508.5,1187.7 1509.5,1180.0 1510.5,1172.3 1511.4,1164.8 1512.4,1157.2 1513.4,1149.5 1514.3,1141.8 1515.4,1133.9 1516.4,1126.1 1517.3,1118.3 1518.3,1110.8 1519.1,1103.5 1519.8,1097.4 1520.4,1091.4 1520.9,1085.6 1521.4,1079.9 1522.0,1074.4 1522.6,1068.9 1523.1,1064.0 1523.6,1059.1 1524.2,1054.3 1524.8,1049.6 1525.4,1045.3 1526.0,1041.2 1526.5,1038.6 1527.0,1036.1 1527.6,1033.8 1528.1,1031.5 1528.8,1029.4 1529.5,1027.4 1530.1,1025.9 1530.8,1024.5 1531.5,1023.2 1532.3,1021.9 1533.2,1020.6 1534.1,1019.4 1535.3,1018.0 1536.7,1016.7 1538.1,1015.4 1539.6,1014.1 1540.9,1012.8 1542.2,1011.3 1543.3,1009.6 1544.4,1007.8 1545.3,1006.0 1546.3,1004.0 1547.1,1002.0 1547.9,999.8 1548.9,996.7 1549.7,993.4 1550.5,990.0 1551.2,986.4 1551.9,982.7 1552.5,979.0 1553.2,975.0 1553.8,970.9 1554.4,966.8 1554.9,962.5 1555.5,958.2 1556.0,953.7 1556.6,948.2 1557.2,942.6 1557.8,936.7 1558.4,930.8 1558.9,925.0 1559.4,919.1 1559.9,913.3 1560.3,907.5 1560.7,901.6 1561.0,895.8 1561.4,890.1 1561.8,884.6 1562.1,879.9 1562.5,875.4 1563.0,871.1 1563.4,866.7 1563.7,862.0 1564.1,856.9 1564.4,849.1 1564.6,840.5 1564.8,831.5 1564.9,822.2 1565.0,812.9 1565.2,803.9 1576.7,803.9 1576.9,812.8 1577.1,821.9 1577.3,830.9 1577.4,839.8 1577.6,848.5 1577.9,856.9 1578.1,863.7 1578.4,870.3 1578.7,876.7 1579.0,883.0 1579.2,889.4 1579.5,896.1 1579.7,903.4 1579.9,910.8 1580.1,918.3 1580.3,926.0 1580.5,933.9 1580.6,942.2 1580.8,952.9 1581.0,964.2 1581.1,975.9 1581.3,987.7 1581.4,999.6 1581.6,1011.3 1581.7,1022.8 1581.9,1034.3 1582.0,1045.9 1582.1,1057.4 1582.3,1068.9 1582.5,1080.4 1582.7,1091.8 1582.9,1103.0 1583.1,1114.2 1583.3,1125.5 1583.6,1137.3 1583.9,1149.5 1584.3,1165.4 1584.7,1182.3 1585.2,1199.8 1585.7,1217.2 1586.2,1234.1 1586.6,1250.0 1586.9,1262.3 1587.2,1274.0 1587.5,1285.4 1587.7,1296.6 1588.0,1307.8 1588.2,1319.1 1588.5,1330.6 1588.8,1342.2 1589.0,1353.7 1589.3,1365.2 1589.6,1376.7 1589.9,1388.2 1590.2,1399.8 1590.4,1411.3 1590.7,1422.8 1591.0,1434.3 1591.4,1445.9 1591.7,1457.4 1592.1,1469.1 1592.4,1480.9 1592.8,1492.8 1593.2,1504.5 1593.6,1515.8 1594.0,1526.5 1594.4,1535.0 1594.7,1543.3 1595.0,1551.4 1595.4,1559.1 1595.8,1566.2 1596.3,1572.6 1596.6,1576.4 1596.7,1580.3 1596.8,1583.9 1597.1,1587.0 1597.7,1589.5 1598.6,1591.0 1599.2,1591.4 1600.0,1591.6 1600.8,1591.6 1601.6,1591.5 1602.4,1591.3 1603.2,1591.0 1604.5,1590.2 1605.8,1588.9 1607.1,1587.3 1608.4,1585.7 1609.8,1584.1 1611.3,1582.9 1612.7,1582.1 1614.2,1581.3 1615.7,1580.7 1617.2,1580.1 1618.8,1579.7 1620.5,1579.5 1622.6,1579.5 1624.9,1579.7 1627.2,1580.1 1629.6,1580.7 1632.0,1581.3 1634.3,1581.8 1636.6,1582.3 1638.8,1582.9 1641.1,1583.4 1643.3,1584.0 1645.7,1584.6 1648.2,1585.3 1651.4,1586.0 1654.7,1586.8 1658.2,1587.6 1661.7,1588.4 1665.3,1589.1 1668.9,1589.9 1672.7,1590.6 1676.5,1591.3 1680.3,1592.0 1684.2,1592.7 1688.1,1593.3 1691.9,1593.8 1695.9,1594.2 1699.9,1594.4 1704.0,1594.6 1707.9,1594.8 1711.6,1595.1 1715.0,1595.6 1717.1,1596.1 1719.1,1596.7 1720.9,1597.3 1722.7,1597.9 1724.6,1598.5 1726.5,1599.1 1728.7,1599.7 1731.0,1600.3 1733.3,1601.0 1735.7,1601.6 1738.0,1602.1 1740.3,1602.5 1742.6,1602.9 1744.8,1603.1 1747.1,1603.3 1749.4,1603.4 1751.7,1603.5 1754.1,1603.7 1757.0,1603.9 1760.0,1604.1 1763.1,1604.2 1766.2,1604.4 1769.4,1604.6 1772.6,1604.8 1776.3,1605.1 1780.1,1605.5 1783.9,1605.9 1787.9,1606.3 1791.8,1606.7 1795.6,1607.1 1799.5,1607.6 1803.4,1608.1 1807.3,1608.7 1811.2,1609.3 1815.0,1609.9 1818.7,1610.6 1821.9,1611.3 1825.0,1612.0 1828.0,1612.8 1831.0,1613.6 1834.1,1614.4 1837.1,1615.2"/>
<polyline class="cv" stroke="#ffa500" points="1056.9,1628.3 1064.4,1628.3 1072.2,1628.3 1080.0,1628.3 1087.5,1628.3 1094.5,1628.2 1100.7,1627.9 1104.3,1627.6 1107.7,1627.4 1110.8,1627.1 1113.8,1626.7 1116.5,1626.2 1119.1,1625.6 1120.9,1625.0 1122.5,1624.3 1124.0,1623.6 1125.5,1622.8 1126.9,1622.0 1128.3,1621.0 1130.0,1619.7 1131.6,1618.3 1133.3,1616.8 1134.8,1615.2 1136.3,1613.5 1137.6,1611.8 1138.8,1609.7 1139.9,1607.6 1140.9,1605.3 1141.7,1602.9 1142.6,1600.5 1143.3,1597.9 1144.1,1594.8 1144.8,1591.6 1145.4,1588.3 1145.8,1584.8 1146.3,1581.1 1146.8,1577.2 1147.4,1571.5 1147.9,1565.3 1148.3,1558.9 1148.8,1552.1 1149.1,1545.1 1149.5,1538.0 1150.0,1529.1 1150.4,1519.6 1150.8,1509.9 1151.1,1500.0 1151.5,1490.1 1151.8,1480.4 1152.2,1470.8 1152.6,1461.2 1153.0,1451.6 1153.3,1442.0 1153.7,1432.4 1154.1,1422.8 1154.6,1413.2 1155.1,1403.6 1155.6,1394.0 1156.1,1384.4 1156.6,1374.8 1157.1,1365.2 1157.6,1355.6 1158.1,1346.0 1158.6,1336.4 1159.1,1326.8 1159.6,1317.2 1160.1,1307.6 1160.8,1298.0 1161.4,1288.5 1162.1,1278.9 1162.8,1269.4 1163.5,1259.7 1164.1,1250.0 1164.6,1239.8 1165.0,1229.4 1165.3,1219.0 1165.7,1208.6 1166.1,1198.4 1166.6,1188.2 1167.1,1178.9 1167.8,1169.7 1168.4,1160.6 1169.1,1151.5 1169.7,1142.5 1170.3,1133.4 1170.8,1124.4 1171.2,1115.1 1171.7,1105.9 1172.1,1097.0 1172.5,1088.4 1172.8,1080.4 1173.0,1075.0 1173.3,1070.0 1173.5,1065.2 1173.7,1060.4 1173.8,1055.5 1174.0,1050.0 1174.1,1042.0 1174.2,1033.5 1174.3,1024.5 1174.3,1015.4 1174.3,1006.2 1174.4,997.2 1178.4,954.4 1182.4,997.2 1182.5,1007.7 1182.5,1018.1 1182.5,1028.5 1182.6,1038.9 1182.7,1049.4 1182.9,1059.9 1183.2,1070.9 1183.5,1082.0 1183.9,1093.2 1184.4,1104.4 1184.8,1115.5 1185.3,1126.5 1185.7,1137.0 1186.1,1147.3 1186.5,1157.6 1186.9,1167.9 1187.4,1178.2 1187.8,1188.5 1188.2,1180.2 1188.5,1172.2 1188.9,1164.1 1189.3,1155.9 1189.7,1147.2 1190.1,1138.0 1190.6,1124.8 1191.2,1110.6 1191.8,1095.8 1192.4,1080.5 1193.0,1065.2 1193.5,1050.0 1193.9,1034.2 1194.2,1018.2 1194.6,1002.1 1194.8,985.9 1195.1,969.8 1195.4,953.7 1195.7,937.4 1196.0,920.8 1196.2,904.2 1196.5,887.9 1196.7,872.4 1196.9,858.1 1197.0,848.2 1197.1,838.9 1197.2,830.0 1197.3,821.4 1197.4,812.8 1197.5,803.9 1206.9,803.9 1207.0,813.0 1207.1,822.1 1207.2,831.1 1207.3,840.2 1207.4,849.2 1207.6,858.1 1207.8,866.5 1208.1,874.9 1208.4,883.3 1208.8,891.5 1209.1,899.6 1209.4,907.6 1209.8,914.9 1210.1,922.4 1210.4,929.7 1210.7,936.7 1211.0,943.2 1211.3,948.8 1211.4,951.9 1211.6,954.6 1211.7,957.1 1211.9,959.5 1212.0,961.8 1212.2,964.1 1212.4,966.0 1212.6,968.1 1212.8,970.1 1213.0,971.8 1213.2,973.0 1213.5,973.5 1213.7,973.0 1214.0,971.9 1214.2,970.2 1214.5,968.3 1214.9,966.6 1215.4,965.2 1216.1,964.3 1216.9,963.6 1217.8,962.9 1218.8,962.3 1219.7,961.5 1220.5,960.6 1221.5,959.1 1222.5,957.4 1223.5,955.6 1224.4,953.6 1225.2,951.3 1225.9,948.8 1226.8,943.5 1227.3,937.2 1227.5,930.1 1227.6,922.6 1227.7,915.0 1227.9,907.6 1228.3,899.6 1228.6,891.5 1229.0,883.3 1229.4,874.9 1229.7,866.5 1230.0,858.1 1230.2,849.2 1230.4,840.2 1230.5,831.1 1230.6,822.1 1230.7,813.0 1230.9,803.9 1241.9,803.9 1242.1,812.7 1242.2,821.3 1242.3,829.8 1242.4,838.7 1242.6,848.0 1242.7,858.1 1242.8,873.9 1242.9,891.3 1243.0,909.8 1243.1,928.6 1243.1,947.3 1243.2,965.2 1243.3,981.1 1243.4,996.6 1243.5,1011.9 1243.5,1027.3 1243.6,1043.2 1243.7,1059.9 1243.7,1081.8 1243.7,1105.6 1243.7,1130.1 1243.7,1154.0 1243.8,1176.3 1243.9,1195.6 1244.0,1206.0 1244.1,1215.3 1244.3,1223.9 1244.4,1232.3 1244.6,1240.8 1244.7,1250.0 1244.8,1261.0 1244.9,1272.4 1245.0,1284.0 1245.2,1295.8 1245.3,1307.5 1245.4,1319.1 1245.5,1330.6 1245.7,1342.2 1245.8,1353.7 1246.0,1365.2 1246.1,1376.7 1246.3,1388.2 1246.5,1399.9 1246.7,1411.8 1246.9,1423.7 1247.2,1435.4 1247.4,1446.7 1247.7,1457.4 1247.9,1465.8 1248.1,1474.0 1248.4,1482.0 1248.6,1489.6 1248.9,1496.8 1249.3,1503.5 1249.6,1507.9 1249.9,1512.0 1250.2,1516.0 1250.6,1519.7 1251.1,1523.2 1251.6,1526.5 1252.1,1528.7 1252.5,1530.9 1253.0,1532.9 1253.6,1534.8 1254.3,1536.5 1255.1,1538.0 1255.7,1539.0 1256.4,1539.9 1257.1,1540.7 1257.9,1541.4 1258.7,1542.0 1259.7,1542.6 1261.0,1543.2 1262.4,1543.7 1264.0,1544.0 1265.6,1544.3 1267.2,1544.6 1268.9,1544.9 1270.7,1545.3 1272.7,1545.6 1274.6,1545.9 1276.6,1546.2 1278.5,1546.7 1280.4,1547.2 1282.4,1548.0 1284.3,1548.9 1286.2,1549.8 1288.1,1550.9 1290.0,1551.9 1291.9,1553.0 1293.9,1554.1 1295.8,1555.2 1297.7,1556.4 1299.6,1557.6 1301.5,1558.7 1303.5,1559.9 1305.4,1561.1 1307.3,1562.3 1309.2,1563.5 1311.1,1564.7 1313.0,1565.8 1315.0,1566.8 1316.9,1567.7 1318.8,1568.6 1320.8,1569.5 1322.7,1570.2 1324.6,1570.9 1326.5,1571.4 1328.1,1571.8 1329.6,1572.1 1331.2,1572.4 1332.7,1572.5 1334.2,1572.6 1335.7,1572.6 1337.3,1572.5 1338.8,1572.2 1340.4,1571.9 1341.9,1571.5 1343.5,1571.0 1344.9,1570.3 1346.6,1569.3 1348.2,1568.2 1349.7,1566.9 1351.2,1565.4 1352.7,1563.9 1354.1,1562.2 1355.8,1560.1 1357.4,1557.7 1358.9,1555.1 1360.4,1552.5 1361.9,1549.8 1363.4,1547.2 1364.9,1544.6 1366.4,1541.9 1367.9,1539.2 1369.4,1536.5 1370.9,1533.8 1372.6,1531.1 1374.4,1528.4 1376.2,1525.6 1378.2,1522.8 1380.1,1520.1 1382.1,1517.5 1384.1,1515.0 1386.0,1512.7 1387.8,1510.5 1389.8,1508.3 1391.7,1506.2 1393.6,1504.2 1395.6,1502.3 1397.5,1500.6 1399.4,1498.8 1401.3,1497.2 1403.2,1495.6 1405.1,1494.3 1407.1,1493.1 1409.0,1492.2 1410.9,1491.5 1412.8,1490.9 1414.8,1490.4 1416.7,1490.0 1418.7,1489.6 1420.6,1489.3 1422.5,1489.2 1424.4,1489.1 1426.4,1488.9 1428.3,1488.8 1430.2,1488.5 1432.2,1488.1 1434.1,1487.6 1436.1,1487.1 1438.1,1486.6 1440.0,1485.9 1441.7,1485.0 1443.2,1484.1 1444.7,1483.0 1446.1,1481.8 1447.4,1480.6 1448.7,1479.3 1450.0,1478.1 1451.2,1477.0 1452.4,1476.0 1453.6,1474.9 1454.7,1473.8 1455.8,1472.6 1456.9,1471.2 1458.2,1469.3 1459.4,1467.1 1460.6,1464.8 1461.7,1462.4 1462.8,1459.9 1463.8,1457.4 1464.9,1454.5 1466.0,1451.5 1466.9,1448.5 1467.9,1445.4 1468.7,1442.2 1469.6,1438.9 1470.5,1435.3 1471.3,1431.6 1472.0,1427.8 1472.8,1424.0 1473.5,1420.0 1474.2,1415.9 1475.0,1410.9 1475.8,1405.6 1476.6,1400.3 1477.3,1394.8 1478.1,1389.2 1478.8,1383.6 1479.6,1377.6 1480.3,1371.5 1481.1,1365.4 1481.8,1359.1 1482.6,1352.9 1483.4,1346.8 1484.3,1340.6 1485.2,1334.4 1486.2,1328.3 1487.2,1322.1 1488.2,1316.0 1489.2,1309.9 1490.1,1304.0 1491.0,1298.1 1491.9,1292.2 1492.8,1286.4 1493.8,1280.8 1494.9,1275.3 1496.0,1270.9 1497.1,1266.8 1498.3,1262.8 1499.5,1258.7 1500.7,1254.5 1501.8,1250.0 1503.2,1243.8 1504.5,1237.1 1505.8,1230.2 1507.1,1223.2 1508.5,1216.2 1509.9,1209.4 1511.3,1203.1 1512.8,1196.7 1514.3,1190.3 1515.8,1184.1 1517.4,1178.2 1519.1,1172.6 1520.6,1168.4 1522.1,1164.4 1523.7,1160.5 1525.3,1156.8 1526.9,1153.2 1528.3,1149.5 1529.6,1146.4 1530.7,1143.5 1531.9,1140.5 1533.0,1137.6 1534.1,1134.5 1535.3,1131.1 1536.8,1126.2 1538.4,1120.8 1539.9,1115.2 1541.5,1109.5 1543.0,1104.0 1544.5,1098.8 1545.7,1094.7 1546.9,1090.7 1548.1,1086.8 1549.2,1083.0 1550.3,1079.4 1551.4,1075.8 1552.2,1073.1 1553.0,1070.5 1553.7,1068.0 1554.5,1065.5 1555.1,1062.9 1555.8,1060.0 1556.6,1055.8 1557.3,1051.2 1558.0,1046.3 1558.7,1041.4 1559.3,1036.4 1560.0,1031.6 1565.0,1019.3 1568.0,1031.6 1568.5,1036.3 1569.1,1041.0 1569.6,1045.7 1570.1,1050.4 1570.6,1055.2 1571.0,1060.0 1571.3,1065.2 1571.5,1070.5 1571.7,1075.8 1571.8,1081.1 1572.0,1086.5 1572.1,1091.9 1572.3,1097.6 1572.5,1103.2 1572.7,1108.8 1572.9,1114.6 1573.1,1120.4 1573.3,1126.5 1573.5,1133.8 1573.7,1141.4 1573.9,1149.1 1574.0,1157.0 1574.2,1164.8 1574.4,1172.6 1574.6,1180.4 1574.8,1188.3 1575.0,1196.2 1575.2,1204.0 1575.4,1211.5 1575.6,1218.7 1575.7,1224.1 1575.8,1229.1 1575.9,1233.9 1576.0,1238.9 1576.2,1244.1 1576.3,1250.0 1576.4,1260.0 1576.6,1271.0 1576.7,1282.9 1576.9,1295.1 1577.0,1307.3 1577.2,1319.1 1577.4,1330.6 1577.6,1342.2 1577.8,1353.7 1578.1,1365.2 1578.3,1376.7 1578.6,1388.2 1578.8,1399.8 1579.1,1411.3 1579.3,1422.8 1579.6,1434.3 1579.9,1445.9 1580.2,1457.4 1580.5,1469.1 1580.8,1480.9 1581.2,1492.8 1581.5,1504.5 1582.0,1515.8 1582.5,1526.5 1583.0,1534.9 1583.4,1543.0 1584.0,1550.9 1584.5,1558.4 1585.2,1565.7 1585.9,1572.6 1586.5,1577.8 1587.1,1582.9 1587.8,1587.8 1588.5,1592.5 1589.4,1596.6 1590.6,1600.2 1591.4,1602.3 1592.2,1604.3 1593.2,1606.1 1594.2,1607.6 1595.2,1608.8 1596.3,1609.4 1597.2,1609.6 1598.2,1609.4 1599.2,1609.0 1600.2,1608.5 1601.2,1607.9 1602.1,1607.1 1603.2,1606.0 1604.2,1604.6 1605.1,1603.0 1606.0,1601.3 1606.9,1599.5 1607.8,1597.9 1608.8,1596.4 1609.7,1594.7 1610.6,1593.1 1611.5,1591.6 1612.5,1590.1 1613.6,1588.7 1614.6,1587.6 1615.7,1586.5 1616.8,1585.5 1618.0,1584.5 1619.2,1583.7 1620.5,1582.9 1621.9,1582.3 1623.3,1581.8 1624.8,1581.4 1626.4,1581.1 1628.0,1580.9 1629.7,1580.6 1632.2,1580.5 1634.9,1580.5 1637.7,1580.6 1640.5,1580.7 1643.3,1580.8 1645.9,1580.6 1647.8,1580.3 1649.7,1579.9 1651.5,1579.4 1653.3,1578.9 1655.2,1578.5 1657.4,1578.3 1660.8,1578.4 1664.5,1578.7 1668.4,1579.3 1672.4,1579.9 1676.5,1580.6 1680.4,1581.1 1684.3,1581.6 1688.4,1582.1 1692.4,1582.6 1696.4,1583.2 1700.1,1583.6 1703.5,1584.1 1705.6,1584.4 1707.6,1584.5 1709.5,1584.7 1711.3,1584.9 1713.1,1585.3 1715.0,1585.7 1716.9,1586.4 1718.8,1587.2 1720.7,1588.2 1722.6,1589.2 1724.5,1590.1 1726.5,1591.0 1728.7,1591.9 1730.9,1592.7 1733.2,1593.5 1735.5,1594.2 1737.9,1594.9 1740.3,1595.6 1743.2,1596.4 1746.3,1597.0 1749.4,1597.7 1752.5,1598.3 1755.6,1598.9 1758.8,1599.5 1761.8,1600.1 1764.9,1600.7 1768.0,1601.3 1771.0,1601.9 1774.1,1602.5 1777.2,1603.0 1780.3,1603.5 1783.3,1604.0 1786.4,1604.4 1789.5,1604.8 1792.6,1605.3 1795.6,1605.8 1798.7,1606.2 1801.7,1606.7 1804.7,1607.2 1807.8,1607.7 1810.9,1608.3 1814.1,1609.0 1817.8,1609.9 1821.6,1610.9 1825.4,1611.9 1829.3,1613.0 1833.2,1614.1 1837.1,1615.2"/>
<polyline class="cv" stroke="#9400d3" points="1056.9,1628.3 1061.7,1628.1 1066.6,1627.9 1071.5,1627.7 1076.2,1627.4 1080.7,1627.1 1084.6,1626.7 1086.8,1626.4 1088.9,1626.2 1090.8,1625.9 1092.6,1625.5 1094.3,1625.0 1096.1,1624.4 1097.7,1623.7 1099.3,1622.9 1100.9,1622.0 1102.4,1621.0 1103.9,1619.9 1105.3,1618.7 1107.0,1617.1 1108.6,1615.3 1110.2,1613.4 1111.8,1611.4 1113.2,1609.3 1114.5,1607.1 1115.8,1604.7 1116.9,1602.2 1117.8,1599.5 1118.7,1596.8 1119.5,1593.9 1120.3,1591.0 1121.1,1587.5 1121.7,1583.9 1122.3,1580.2 1122.8,1576.3 1123.3,1572.3 1123.7,1568.0 1124.3,1561.8 1124.8,1555.1 1125.3,1548.1 1125.7,1540.9 1126.1,1533.7 1126.5,1526.5 1126.9,1519.0 1127.3,1511.3 1127.7,1503.6 1128.1,1495.9 1128.5,1488.1 1128.8,1480.4 1129.1,1472.8 1129.4,1465.4 1129.8,1458.0 1130.0,1450.4 1130.3,1442.6 1130.6,1434.3 1131.0,1423.5 1131.4,1412.1 1131.7,1400.2 1132.1,1388.3 1132.5,1376.5 1132.9,1365.2 1133.4,1355.3 1133.8,1345.6 1134.2,1336.1 1134.7,1326.6 1135.2,1317.1 1135.7,1307.6 1136.3,1298.2 1137.1,1289.0 1137.8,1279.8 1138.5,1270.4 1139.2,1260.5 1139.9,1250.0 1140.5,1234.9 1141.0,1218.6 1141.5,1201.5 1141.9,1184.0 1142.3,1166.6 1142.9,1149.5 1143.5,1132.7 1144.1,1115.7 1144.7,1098.7 1145.4,1081.9 1146.1,1065.6 1146.8,1050.0 1147.4,1037.5 1148.0,1025.4 1148.6,1013.6 1149.2,1002.1 1149.8,990.6 1150.5,979.0 1151.1,967.8 1151.7,956.7 1152.3,945.6 1152.9,934.6 1153.5,923.5 1154.1,912.4 1154.5,921.1 1154.8,929.5 1155.2,937.9 1155.5,946.5 1155.9,955.5 1156.2,965.2 1156.7,979.6 1157.1,995.5 1157.5,1012.1 1157.9,1028.8 1158.3,1045.0 1158.7,1059.9 1159.0,1071.0 1159.3,1081.5 1159.6,1091.7 1160.0,1101.7 1160.3,1111.7 1160.6,1121.9 1160.9,1132.4 1161.3,1143.0 1161.6,1153.5 1161.9,1164.1 1162.3,1174.7 1162.6,1185.3 1162.9,1177.5 1163.2,1170.0 1163.5,1162.5 1163.8,1154.8 1164.2,1146.7 1164.5,1138.0 1165.1,1125.0 1165.7,1110.8 1166.4,1096.0 1167.0,1080.6 1167.6,1065.2 1168.1,1050.0 1168.5,1034.2 1168.8,1018.2 1169.0,1002.1 1169.2,985.9 1169.4,969.8 1169.6,953.7 1169.8,937.4 1170.1,920.8 1170.4,904.2 1170.6,887.9 1170.8,872.4 1171.0,858.1 1171.2,848.2 1171.3,838.9 1171.4,830.0 1171.5,821.4 1171.6,812.8 1171.7,803.9 1179.7,803.9 1179.8,813.0 1179.9,822.0 1180.0,831.1 1180.0,840.1 1180.2,849.1 1180.4,858.1 1180.7,866.8 1181.0,875.5 1181.4,884.1 1181.8,892.7 1182.3,901.1 1182.9,909.2 1183.4,916.3 1184.1,923.4 1184.7,930.4 1185.4,937.0 1186.1,943.2 1186.8,948.8 1187.3,952.2 1187.8,955.4 1188.2,958.4 1188.7,961.2 1189.3,963.8 1189.9,966.4 1190.4,968.4 1191.0,970.5 1191.6,972.6 1192.2,974.4 1192.8,975.6 1193.3,976.0 1193.8,975.5 1194.2,974.1 1194.6,972.1 1195.0,969.8 1195.3,967.4 1195.6,965.2 1195.9,962.8 1196.2,960.3 1196.4,957.7 1196.5,955.0 1196.7,952.0 1197.0,948.8 1197.5,943.1 1198.1,936.6 1198.8,929.5 1199.5,922.4 1200.1,915.5 1200.7,909.2 1201.1,904.8 1201.4,900.6 1201.8,896.6 1202.1,892.6 1202.4,888.7 1202.8,884.6 1203.1,880.3 1203.4,876.1 1203.8,872.0 1204.1,867.6 1204.4,863.0 1204.6,858.1 1204.9,850.2 1205.1,841.4 1205.2,832.2 1205.3,822.7 1205.4,813.2 1205.5,803.9 1217.3,803.9 1217.4,812.7 1217.5,821.3 1217.6,829.8 1217.7,838.7 1217.9,848.0 1218.0,858.1 1218.1,873.9 1218.3,891.3 1218.4,909.8 1218.6,928.6 1218.8,947.3 1218.9,965.2 1219.0,981.1 1219.1,996.6 1219.3,1011.9 1219.4,1027.3 1219.5,1043.2 1219.6,1059.9 1219.7,1081.8 1219.8,1105.6 1219.9,1130.1 1220.0,1154.0 1220.1,1176.3 1220.2,1195.6 1220.2,1206.0 1220.3,1215.3 1220.3,1223.9 1220.3,1232.3 1220.4,1240.8 1220.5,1250.0 1220.7,1261.0 1220.8,1272.4 1221.1,1284.0 1221.3,1295.8 1221.5,1307.5 1221.7,1319.1 1221.8,1330.6 1221.9,1342.2 1222.0,1353.7 1222.1,1365.2 1222.2,1376.7 1222.4,1388.2 1222.5,1399.8 1222.6,1411.5 1222.8,1423.2 1222.9,1434.8 1223.1,1446.2 1223.3,1457.4 1223.5,1467.4 1223.6,1477.2 1223.9,1486.9 1224.1,1496.4 1224.3,1505.8 1224.7,1515.0 1225.0,1523.1 1225.3,1531.2 1225.6,1539.1 1226.0,1546.8 1226.4,1554.1 1227.0,1561.1 1227.4,1566.2 1227.9,1571.1 1228.3,1575.8 1228.9,1580.3 1229.5,1584.6 1230.2,1588.7 1230.8,1591.7 1231.4,1594.7 1232.0,1597.5 1232.7,1600.2 1233.5,1602.6 1234.3,1604.8 1235.0,1606.3 1235.7,1607.6 1236.4,1608.9 1237.2,1610.0 1238.0,1611.0 1238.9,1611.8 1239.8,1612.2 1240.8,1612.6 1241.7,1612.9 1242.8,1613.0 1243.8,1613.0 1244.7,1612.9 1245.7,1612.5 1246.7,1611.9 1247.6,1611.1 1248.6,1610.2 1249.5,1609.2 1250.5,1608.3 1251.6,1607.2 1252.7,1606.1 1253.8,1605.0 1255.0,1603.8 1256.1,1602.6 1257.4,1601.4 1258.8,1600.0 1260.3,1598.6 1261.8,1597.1 1263.4,1595.7 1265.0,1594.5 1266.6,1593.3 1268.1,1592.4 1269.5,1591.6 1271.1,1590.9 1272.6,1590.2 1274.2,1589.6 1275.8,1589.2 1277.6,1588.8 1279.5,1588.5 1281.5,1588.3 1283.4,1588.2 1285.4,1588.2 1287.3,1588.2 1289.2,1588.4 1291.2,1588.6 1293.1,1588.9 1295.0,1589.2 1296.9,1589.6 1298.8,1589.9 1300.8,1590.1 1302.7,1590.4 1304.6,1590.7 1306.5,1591.0 1308.4,1591.3 1310.4,1591.5 1312.3,1591.7 1314.3,1591.9 1316.2,1592.0 1318.1,1592.2 1320.0,1592.2 1321.9,1592.2 1323.5,1592.0 1325.1,1591.9 1326.6,1591.6 1328.1,1591.3 1329.6,1591.0 1331.1,1590.6 1332.7,1590.0 1334.2,1589.5 1335.8,1588.8 1337.3,1588.1 1338.8,1587.3 1340.3,1586.4 1341.9,1585.3 1343.5,1584.0 1345.0,1582.7 1346.5,1581.3 1348.0,1579.8 1349.5,1578.3 1351.1,1576.7 1352.7,1575.1 1354.2,1573.4 1355.8,1571.7 1357.3,1569.8 1358.8,1568.0 1360.3,1565.8 1361.9,1563.5 1363.4,1561.1 1364.9,1558.7 1366.4,1556.4 1368.0,1554.1 1369.5,1552.1 1371.0,1550.2 1372.5,1548.2 1374.1,1546.4 1375.6,1544.5 1377.2,1542.6 1378.7,1540.8 1380.2,1539.0 1381.7,1537.3 1383.3,1535.5 1384.8,1533.9 1386.4,1532.3 1387.9,1530.8 1389.4,1529.4 1390.9,1528.0 1392.4,1526.6 1394.0,1525.4 1395.6,1524.2 1397.4,1523.1 1399.3,1522.0 1401.2,1521.0 1403.2,1520.1 1405.2,1519.2 1407.1,1518.4 1409.0,1517.7 1411.0,1517.1 1412.9,1516.6 1414.8,1516.1 1416.7,1515.5 1418.7,1515.0 1420.6,1514.4 1422.5,1513.9 1424.4,1513.4 1426.4,1512.8 1428.3,1512.2 1430.2,1511.5 1432.2,1510.7 1434.1,1509.8 1436.1,1508.9 1438.1,1507.9 1439.9,1506.9 1441.7,1505.8 1443.2,1504.7 1444.6,1503.7 1446.0,1502.6 1447.3,1501.4 1448.7,1500.2 1450.0,1498.8 1451.6,1497.2 1453.1,1495.4 1454.7,1493.5 1456.2,1491.5 1457.7,1489.4 1459.2,1487.3 1460.9,1484.9 1462.5,1482.3 1464.1,1479.6 1465.6,1476.8 1467.1,1474.0 1468.4,1471.2 1469.8,1468.3 1471.0,1465.3 1472.2,1462.3 1473.3,1459.2 1474.4,1456.0 1475.3,1452.8 1476.3,1449.1 1477.1,1445.5 1477.9,1441.7 1478.6,1437.8 1479.3,1433.8 1480.0,1429.7 1480.8,1424.7 1481.6,1419.5 1482.3,1414.1 1483.1,1408.6 1483.8,1403.0 1484.6,1397.5 1485.3,1391.5 1486.1,1385.4 1486.8,1379.3 1487.6,1373.1 1488.4,1366.9 1489.2,1360.6 1490.1,1353.8 1491.0,1346.9 1492.0,1339.9 1493.0,1332.9 1494.0,1326.0 1494.9,1319.1 1495.9,1312.5 1496.8,1305.8 1497.7,1299.1 1498.6,1292.6 1499.6,1286.2 1500.7,1280.0 1501.7,1274.7 1502.9,1269.7 1504.0,1264.8 1505.2,1259.9 1506.4,1255.0 1507.6,1250.0 1508.8,1244.8 1509.9,1239.6 1511.1,1234.3 1512.2,1229.1 1513.4,1223.9 1514.5,1218.7 1515.7,1213.6 1516.8,1208.6 1517.9,1203.6 1519.1,1198.6 1520.3,1193.6 1521.4,1188.7 1522.6,1184.1 1523.7,1179.5 1524.9,1175.0 1526.1,1170.5 1527.2,1165.8 1528.3,1161.1 1529.5,1155.5 1530.7,1149.7 1531.8,1143.8 1532.9,1137.9 1534.1,1132.1 1535.3,1126.5 1536.4,1121.7 1537.5,1117.0 1538.7,1112.5 1539.8,1107.9 1541.0,1103.4 1542.2,1098.8 1543.3,1094.1 1544.5,1089.2 1545.6,1084.2 1546.8,1079.5 1547.9,1075.1 1549.1,1071.2 1549.8,1069.2 1550.6,1067.5 1551.3,1066.0 1552.1,1064.4 1552.8,1062.5 1553.6,1060.0 1555.7,1049.2 1557.9,1033.9 1560.1,1016.1 1562.2,997.4 1564.3,979.7 1566.1,964.7 1567.3,956.1 1568.3,948.3 1569.4,940.9 1570.4,933.7 1571.4,926.5 1572.4,919.1 1573.9,917.5 1577.8,964.7 1578.3,980.8 1578.8,997.1 1579.2,1013.4 1579.7,1029.5 1580.1,1045.1 1580.5,1060.0 1580.8,1071.8 1581.0,1083.0 1581.2,1093.9 1581.4,1104.7 1581.6,1115.5 1581.8,1126.5 1582.0,1138.0 1582.3,1149.7 1582.5,1161.5 1582.7,1173.1 1583.0,1184.6 1583.2,1195.6 1583.4,1205.0 1583.6,1214.0 1583.8,1222.8 1584.0,1231.6 1584.1,1240.6 1584.3,1250.0 1584.5,1261.0 1584.7,1272.4 1584.9,1284.0 1585.1,1295.8 1585.3,1307.5 1585.5,1319.1 1585.7,1330.6 1586.0,1342.2 1586.2,1353.7 1586.5,1365.2 1586.8,1376.7 1587.1,1388.2 1587.4,1399.8 1587.7,1411.5 1588.0,1423.2 1588.3,1434.8 1588.6,1446.2 1588.9,1457.4 1589.3,1467.4 1589.6,1477.2 1589.9,1486.9 1590.3,1496.4 1590.6,1505.8 1591.0,1515.0 1591.4,1523.1 1591.7,1531.1 1592.0,1539.0 1592.4,1546.6 1592.8,1554.0 1593.3,1561.1 1593.7,1567.1 1594.0,1573.6 1594.3,1580.0 1594.8,1585.4 1595.4,1589.4 1596.3,1591.0 1596.8,1590.9 1597.4,1590.3 1598.0,1589.5 1598.6,1588.5 1599.2,1587.4 1599.8,1586.4 1600.5,1585.2 1601.2,1583.8 1601.9,1582.3 1602.6,1580.9 1603.4,1579.5 1604.4,1578.3 1605.4,1577.4 1606.4,1576.5 1607.6,1575.7 1608.8,1574.9 1610.0,1574.3 1611.3,1573.7 1612.7,1573.2 1614.1,1572.8 1615.7,1572.6 1617.2,1572.3 1618.8,1572.2 1620.5,1572.1 1622.6,1572.2 1624.8,1572.3 1627.0,1572.6 1629.4,1573.0 1631.8,1573.4 1634.3,1573.7 1637.8,1574.2 1641.6,1574.8 1645.5,1575.4 1649.5,1576.0 1653.5,1576.6 1657.4,1577.2 1661.2,1577.7 1665.1,1578.2 1668.9,1578.6 1672.7,1579.0 1676.6,1579.5 1680.4,1580.0 1684.3,1580.4 1688.4,1581.0 1692.4,1581.5 1696.4,1582.0 1700.1,1582.5 1703.5,1582.9 1705.6,1583.2 1707.6,1583.4 1709.5,1583.6 1711.3,1583.8 1713.1,1584.1 1715.0,1584.6 1716.9,1585.2 1718.8,1586.1 1720.7,1587.0 1722.6,1588.0 1724.5,1589.0 1726.5,1589.9 1728.7,1590.7 1730.9,1591.5 1733.2,1592.3 1735.5,1593.1 1737.9,1593.8 1740.3,1594.5 1743.2,1595.2 1746.3,1595.9 1749.4,1596.5 1752.5,1597.2 1755.6,1597.8 1758.8,1598.4 1761.8,1599.0 1764.9,1599.7 1768.0,1600.3 1771.0,1600.9 1774.1,1601.5 1777.2,1602.1 1780.3,1602.6 1783.3,1603.0 1786.4,1603.5 1789.5,1603.9 1792.6,1604.3 1795.6,1604.8 1798.7,1605.4 1801.7,1605.9 1804.7,1606.4 1807.8,1607.0 1810.9,1607.6 1814.1,1608.3 1817.8,1609.2 1821.6,1610.2 1825.4,1611.3 1829.3,1612.4 1833.2,1613.5 1837.1,1614.5"/>
</g>
<g clip-path="url(#cBL)">
<polyline class="cv" stroke="#00ffff" points="281.5,2410.2 282.1,2408.4 282.7,2406.6 283.3,2404.9 283.9,2403.1 284.5,2401.1 285.0,2398.7 285.8,2392.8 286.4,2385.8 286.9,2377.9 287.4,2369.5 287.9,2360.9 288.4,2352.6 289.2,2343.4 289.9,2333.9 290.7,2324.2 291.5,2314.4 292.3,2304.7 293.0,2295.0 293.8,2285.3 294.6,2275.5 295.3,2265.8 296.1,2256.1 296.8,2246.6 297.6,2237.4 298.4,2229.4 299.2,2221.6 299.9,2214.0 300.7,2206.5 301.5,2198.9 302.3,2191.3 303.0,2183.5 303.8,2175.7 304.5,2167.8 305.3,2160.1 306.1,2152.5 306.9,2145.2 307.6,2139.2 308.4,2133.3 309.1,2127.6 309.9,2122.0 310.7,2116.3 311.5,2110.6 312.3,2104.8 313.0,2099.0 313.8,2093.1 314.6,2087.3 315.4,2081.6 316.1,2076.1 316.7,2071.2 317.3,2066.4 318.0,2061.7 318.5,2057.1 319.1,2052.7 319.5,2048.4 319.9,2045.3 320.2,2042.6 320.4,2039.9 320.6,2037.1 320.9,2033.9 321.2,2030.0 321.8,2017.7 322.5,2001.8 323.2,1983.6 323.9,1964.6 324.6,1946.1 325.3,1929.5 325.9,1917.4 326.5,1905.9 327.1,1894.8 327.6,1883.7 328.2,1872.4 328.8,1860.4 329.4,1845.7 330.0,1830.2 330.5,1814.3 331.1,1798.5 331.6,1783.0 332.2,1768.2 332.7,1756.1 333.2,1744.3 333.7,1732.8 334.2,1721.5 334.7,1710.3 335.2,1699.1 335.7,1688.5 336.2,1678.0 336.7,1667.5 337.2,1657.2 337.6,1647.0 338.0,1636.9 338.2,1627.8 338.5,1618.9 338.6,1610.2 338.8,1601.4 338.9,1592.7 339.1,1583.9 349.5,1583.9 349.6,1592.6 349.7,1601.1 349.8,1609.6 350.0,1618.3 350.1,1627.4 350.2,1636.9 350.3,1649.9 350.5,1663.7 350.6,1678.1 350.8,1692.8 350.9,1707.5 351.1,1722.2 351.3,1737.3 351.5,1752.6 351.8,1768.0 352.0,1783.5 352.2,1798.9 352.5,1814.3 352.7,1829.8 353.0,1845.5 353.3,1861.2 353.5,1876.8 353.8,1891.9 354.1,1906.5 354.4,1918.7 354.6,1930.6 354.9,1942.2 355.2,1953.6 355.4,1964.7 355.7,1975.6 356.0,1985.0 356.2,1994.0 356.4,2002.8 356.7,2011.6 356.9,2020.6 357.1,2030.0 357.3,2041.0 357.5,2052.4 357.7,2064.0 357.9,2075.8 358.1,2087.5 358.2,2099.1 358.4,2110.6 358.6,2122.2 358.8,2133.7 359.0,2145.2 359.2,2156.7 359.4,2168.2 359.6,2179.8 359.9,2191.5 360.2,2203.2 360.4,2214.8 360.7,2226.2 361.0,2237.4 361.3,2247.4 361.5,2257.2 361.8,2266.9 362.0,2276.4 362.3,2285.8 362.6,2295.0 362.9,2303.1 363.2,2311.1 363.5,2319.0 363.8,2326.6 364.1,2334.0 364.5,2341.1 364.8,2346.5 365.1,2351.8 365.4,2356.9 365.8,2361.8 366.2,2366.5 366.8,2371.0 367.2,2374.4 367.7,2377.7 368.2,2380.8 368.7,2383.8 369.4,2386.7 370.2,2389.4 371.0,2391.6 371.8,2393.7 372.7,2395.8 373.6,2397.7 374.7,2399.4 376.0,2401.0 377.3,2402.2 378.7,2403.4 380.2,2404.4 381.8,2405.3 383.5,2406.1 385.2,2406.7 387.2,2407.3 389.2,2407.7 391.3,2407.9 393.6,2408.1 396.1,2408.2 399.0,2408.3 406.6,2408.6 416.3,2408.8 427.0,2408.9 437.6,2408.9 447.1,2408.7 454.3,2408.3 456.8,2408.2 458.8,2408.0 460.7,2407.8 462.4,2407.5 464.1,2407.2 465.9,2406.7 467.8,2406.1 469.7,2405.5 471.7,2404.7 473.6,2403.8 475.5,2403.0 477.4,2402.1 479.3,2401.2 481.2,2400.2 483.1,2399.2 485.0,2398.2 487.0,2397.3 488.9,2396.4 490.8,2395.5 492.7,2394.7 494.6,2394.0 496.6,2393.2 498.5,2392.5 500.4,2391.8 502.3,2391.0 504.3,2390.3 506.2,2389.5 508.1,2388.8 510.0,2388.0 511.9,2387.1 513.9,2386.3 515.8,2385.4 517.7,2384.4 519.7,2383.5 521.6,2382.5 523.5,2381.4 525.4,2380.1 527.3,2378.8 529.2,2377.4 531.1,2376.0 533.0,2374.6 535.0,2373.3 536.9,2372.1 538.8,2370.9 540.7,2369.7 542.6,2368.5 544.5,2367.4 546.5,2366.4 548.4,2365.5 550.3,2364.7 552.2,2363.9 554.1,2363.2 556.1,2362.5 558.0,2361.8 559.9,2361.2 561.8,2360.6 563.8,2360.0 565.7,2359.5 567.6,2358.9 569.5,2358.3 571.5,2357.8 573.4,2357.1 575.3,2356.5 577.2,2356.0 579.1,2355.4 581.1,2354.9 583.0,2354.4 584.9,2354.0 586.8,2353.6 588.7,2353.2 590.7,2352.9 592.6,2352.6 594.5,2352.3 596.4,2352.1 598.3,2351.9 600.3,2351.7 602.2,2351.6 604.1,2351.4 606.0,2351.3 607.9,2351.2 609.9,2351.1 611.8,2351.0 613.7,2350.9 615.6,2350.7 617.5,2350.5 619.5,2350.3 621.4,2350.0 623.3,2349.7 625.2,2349.4 627.1,2349.1 629.1,2348.8 631.0,2348.4 632.9,2348.1 634.8,2347.7 636.8,2347.3 638.7,2346.8 640.6,2346.3 642.5,2345.8 644.4,2345.2 646.4,2344.6 648.3,2344.0 650.2,2343.4 652.1,2342.7 654.1,2341.9 656.1,2341.2 658.0,2340.4 659.9,2339.6 661.7,2338.8 663.2,2338.0 664.6,2337.3 666.0,2336.5 667.3,2335.7 668.6,2334.9 670.0,2334.1 671.4,2333.4 672.8,2332.8 674.2,2332.2 675.6,2331.5 676.9,2330.6 678.1,2329.5 679.5,2327.8 680.7,2325.6 681.9,2323.3 683.0,2320.8 684.0,2318.2 685.0,2315.7 685.9,2313.2 686.8,2310.7 687.6,2308.2 688.3,2305.6 689.1,2302.9 689.8,2300.0 690.7,2296.5 691.5,2292.7 692.3,2288.8 693.1,2284.8 693.9,2280.7 694.7,2276.5 695.6,2271.5 696.6,2266.2 697.5,2260.7 698.5,2255.2 699.4,2249.7 700.4,2244.3 701.4,2239.1 702.3,2233.9 703.3,2228.7 704.3,2223.5 705.2,2218.4 706.2,2213.2 707.1,2208.0 708.0,2202.9 708.9,2197.8 709.8,2192.6 710.6,2187.4 711.5,2182.1 712.4,2176.1 713.3,2170.0 714.2,2163.9 715.0,2157.7 715.9,2151.4 716.8,2145.2 717.7,2138.9 718.5,2132.6 719.4,2126.2 720.3,2119.9 721.1,2113.5 721.8,2107.2 722.6,2100.9 723.3,2094.5 723.9,2088.2 724.6,2081.9 725.2,2075.5 725.8,2069.2 726.3,2062.6 726.8,2056.0 727.2,2049.3 727.7,2042.7 728.1,2036.2 728.5,2030.0 728.9,2024.9 729.2,2020.0 729.5,2015.2 729.8,2010.4 730.2,2005.4 730.6,2000.0 731.2,1992.8 732.0,1985.1 732.8,1977.1 733.6,1969.0 734.4,1960.8 735.2,1952.6 736.0,1944.0 736.8,1935.2 737.5,1926.4 738.3,1917.6 739.1,1908.8 739.8,1900.0 740.6,1891.5 741.3,1883.1 742.1,1874.6 742.8,1866.1 743.5,1857.6 744.2,1848.9 744.9,1839.5 745.5,1829.9 746.1,1820.3 746.7,1810.6 747.3,1800.9 747.9,1791.3 748.5,1781.6 749.0,1772.0 749.6,1762.3 750.1,1752.6 750.6,1743.1 751.1,1733.7 751.5,1725.0 751.9,1716.5 752.3,1708.0 752.7,1699.6 753.1,1691.3 753.4,1683.0 753.7,1675.2 754.1,1667.6 754.4,1660.0 754.7,1652.4 755.0,1644.8 755.3,1636.9 755.5,1628.3 755.8,1619.5 756.0,1610.6 756.2,1601.7 756.4,1592.8 756.6,1583.9 770.0,1583.9 770.1,1592.5 770.3,1600.7 770.4,1608.9 770.5,1617.5 770.7,1626.7 770.9,1636.9 771.4,1655.5 771.9,1676.7 772.5,1699.5 773.1,1722.9 773.7,1746.2 774.4,1768.2 775.0,1788.0 775.6,1807.7 776.3,1827.1 776.9,1846.3 777.5,1865.1 778.1,1883.5 778.5,1899.7 778.9,1915.8 779.3,1931.7 779.7,1947.1 780.2,1961.8 780.6,1975.6 781.0,1985.4 781.4,1994.6 781.7,2003.3 782.1,2011.9 782.5,2020.7 782.9,2030.0 783.3,2041.0 783.7,2052.4 784.1,2064.0 784.5,2075.8 784.8,2087.5 785.2,2099.1 785.6,2110.6 786.0,2122.2 786.3,2133.7 786.7,2145.2 787.1,2156.7 787.5,2168.2 787.9,2179.9 788.4,2191.8 788.8,2203.7 789.3,2215.4 789.8,2226.7 790.3,2237.4 790.7,2245.7 791.2,2253.7 791.7,2261.4 792.2,2268.9 792.7,2276.3 793.3,2283.5 793.7,2289.6 794.2,2295.6 794.7,2301.5 795.2,2307.2 795.7,2312.7 796.3,2318.0 796.7,2322.2 797.1,2326.2 797.5,2330.1 797.9,2333.9 798.4,2337.5 799.0,2341.1 799.6,2344.0 800.3,2346.8 801.0,2349.6 801.8,2352.3 802.6,2354.8 803.6,2357.2 804.6,2359.1 805.6,2361.0 806.7,2362.8 807.8,2364.5 809.1,2366.1 810.6,2367.6 812.2,2369.0 814.0,2370.2 815.9,2371.3 818.0,2372.4 820.0,2373.4 822.1,2374.5 824.3,2375.5 826.5,2376.6 828.7,2377.5 831.1,2378.5 833.4,2379.4 835.9,2380.2 838.8,2381.1 841.7,2382.0 844.8,2382.7 847.9,2383.5 851.1,2384.2 854.3,2384.8 858.0,2385.5 861.8,2386.2 865.7,2386.7 869.6,2387.3 873.5,2387.8 877.4,2388.3 881.2,2388.7 885.0,2389.1 888.9,2389.5 892.7,2389.8 896.6,2390.2 900.4,2390.6 904.3,2391.1 908.1,2391.6 911.9,2392.1 915.8,2392.6 919.6,2393.1 923.5,2393.6 927.2,2394.0 931.0,2394.4 934.7,2394.8 938.5,2395.2 942.4,2395.5 946.5,2395.9 951.9,2396.4 957.5,2396.8 963.3,2397.3 969.3,2397.7 975.2,2398.2 981.1,2398.7 986.8,2399.1 992.4,2399.6 998.1,2400.1 1003.8,2400.5 1009.6,2401.0 1015.6,2401.4 1022.6,2401.9 1029.8,2402.4 1037.2,2402.8 1044.6,2403.3 1052.0,2403.7 1059.4,2404.2"/>
<polyline class="cv" stroke="#ffa500" points="281.5,2408.8 283.8,2408.7 286.0,2408.7 288.3,2408.6 290.5,2408.6 292.9,2408.5 295.3,2408.3 298.7,2408.2 302.3,2408.0 306.0,2407.7 309.6,2407.5 313.1,2407.1 316.1,2406.7 317.9,2406.5 319.6,2406.3 321.2,2406.0 322.7,2405.7 324.1,2405.2 325.3,2404.4 326.3,2403.5 327.2,2402.3 328.0,2401.0 328.7,2399.5 329.3,2398.0 329.9,2396.4 330.7,2394.1 331.3,2391.5 331.9,2388.8 332.4,2386.0 332.8,2383.1 333.4,2380.2 334.0,2377.0 334.6,2373.6 335.1,2370.2 335.7,2366.7 336.3,2363.1 336.8,2359.5 337.4,2355.4 338.0,2351.3 338.6,2347.1 339.1,2342.8 339.7,2338.5 340.3,2334.1 340.9,2329.6 341.5,2325.1 342.0,2320.6 342.6,2316.0 343.2,2311.3 343.7,2306.5 344.3,2301.0 344.9,2295.3 345.5,2289.5 346.1,2283.6 346.6,2277.7 347.2,2271.9 347.8,2266.2 348.3,2260.4 348.9,2254.7 349.5,2248.9 350.1,2243.1 350.6,2237.4 351.2,2231.6 351.8,2225.9 352.3,2220.1 352.9,2214.3 353.5,2208.6 354.1,2202.8 354.8,2197.0 355.6,2191.3 356.3,2185.5 357.1,2179.8 357.9,2174.0 358.7,2168.2 359.5,2162.4 360.2,2156.6 361.0,2150.7 361.7,2144.9 362.5,2139.2 363.3,2133.7 364.1,2128.8 364.8,2124.0 365.6,2119.3 366.4,2114.7 367.2,2110.3 367.9,2106.0 368.5,2102.8 369.2,2099.8 369.8,2096.9 370.3,2094.0 370.9,2090.9 371.4,2087.6 371.9,2083.0 372.3,2078.1 372.7,2073.0 373.0,2067.8 373.4,2062.7 373.7,2057.6 374.0,2053.1 374.3,2048.9 374.5,2044.6 374.8,2040.2 375.1,2035.4 375.5,2030.0 376.4,2019.3 377.4,2006.9 378.6,1993.5 379.7,1979.5 380.8,1965.7 381.8,1952.6 382.5,1940.8 383.1,1929.3 383.7,1917.8 384.2,1906.4 384.7,1894.9 385.2,1883.5 385.7,1871.9 386.2,1860.4 386.6,1848.9 387.1,1837.4 387.5,1825.9 388.0,1814.3 388.5,1802.8 389.0,1791.3 389.5,1779.8 390.0,1768.2 390.5,1756.7 391.0,1745.2 391.4,1733.5 391.8,1721.4 392.2,1709.4 392.6,1697.7 392.9,1686.5 393.3,1676.1 393.5,1669.0 393.7,1662.4 393.9,1656.2 394.1,1650.0 394.2,1643.7 394.4,1636.9 394.6,1628.5 394.8,1619.8 395.0,1610.9 395.2,1601.9 395.4,1592.8 395.6,1583.9 406.4,1583.9 406.6,1592.6 406.8,1601.1 407.0,1609.6 407.2,1618.3 407.4,1627.4 407.6,1636.9 407.8,1649.9 408.0,1663.7 408.2,1678.1 408.3,1692.8 408.5,1707.5 408.7,1722.2 408.9,1737.3 409.1,1752.6 409.3,1768.0 409.5,1783.5 409.7,1798.9 409.9,1814.3 410.1,1829.8 410.3,1845.5 410.5,1861.2 410.7,1876.8 411.0,1891.9 411.2,1906.5 411.5,1918.7 411.8,1930.6 412.0,1942.2 412.3,1953.6 412.6,1964.7 412.9,1975.6 413.1,1985.0 413.3,1994.0 413.5,2002.8 413.6,2011.6 413.8,2020.6 414.0,2030.0 414.2,2041.0 414.4,2052.4 414.6,2064.0 414.7,2075.8 414.9,2087.5 415.2,2099.1 415.4,2110.6 415.7,2122.2 416.0,2133.7 416.3,2145.2 416.7,2156.7 417.0,2168.2 417.4,2179.8 417.7,2191.5 418.1,2203.2 418.5,2214.8 418.9,2226.2 419.3,2237.4 419.7,2247.4 420.1,2257.2 420.5,2266.9 420.9,2276.4 421.3,2285.8 421.6,2295.0 421.9,2303.1 422.1,2311.1 422.4,2319.0 422.6,2326.6 422.9,2334.0 423.2,2341.1 423.5,2346.5 423.8,2351.9 424.2,2357.0 424.5,2362.0 425.0,2366.6 425.5,2371.0 426.0,2374.1 426.4,2377.0 426.9,2379.7 427.5,2382.3 428.2,2384.8 429.0,2387.1 429.7,2388.9 430.5,2390.7 431.4,2392.3 432.4,2393.8 433.5,2395.2 434.7,2396.4 436.2,2397.3 437.9,2398.1 439.7,2398.8 441.5,2399.2 443.4,2399.6 445.1,2399.8 446.7,2399.9 448.2,2399.9 449.8,2399.8 451.3,2399.6 452.9,2399.2 454.3,2398.7 455.9,2397.9 457.5,2396.8 459.0,2395.6 460.5,2394.3 462.0,2393.0 463.5,2391.8 465.1,2390.4 466.6,2389.1 468.1,2387.7 469.7,2386.3 471.2,2384.9 472.8,2383.7 474.3,2382.6 475.8,2381.6 477.3,2380.6 478.9,2379.6 480.4,2378.7 482.0,2377.9 483.5,2377.2 485.0,2376.5 486.5,2375.9 488.1,2375.3 489.6,2374.9 491.2,2374.5 492.7,2374.2 494.2,2374.0 495.7,2373.9 497.3,2373.8 498.8,2373.8 500.4,2373.8 502.3,2373.8 504.2,2373.9 506.1,2374.0 508.0,2374.1 510.0,2374.3 511.9,2374.5 513.9,2374.6 515.8,2374.8 517.8,2375.1 519.7,2375.3 521.6,2375.5 523.5,2375.6 525.1,2375.8 526.6,2375.9 528.1,2376.1 529.7,2376.2 531.2,2376.2 532.7,2376.1 534.2,2375.9 535.8,2375.5 537.3,2375.1 538.9,2374.6 540.4,2374.0 541.9,2373.3 543.5,2372.4 545.0,2371.4 546.6,2370.2 548.1,2369.0 549.6,2367.7 551.1,2366.4 552.7,2365.0 554.2,2363.4 555.7,2361.9 557.3,2360.3 558.8,2358.7 560.3,2357.2 561.8,2355.8 563.3,2354.4 564.8,2353.1 566.3,2351.7 567.9,2350.4 569.5,2349.1 571.4,2347.7 573.3,2346.4 575.2,2345.1 577.2,2343.7 579.1,2342.4 581.1,2341.1 583.0,2339.7 584.9,2338.3 586.8,2336.9 588.7,2335.5 590.6,2334.2 592.6,2333.0 594.5,2331.9 596.4,2330.8 598.3,2329.8 600.2,2328.9 602.1,2328.0 604.1,2327.2 606.0,2326.6 607.9,2326.0 609.8,2325.5 611.8,2325.0 613.7,2324.7 615.6,2324.5 617.5,2324.4 619.5,2324.5 621.4,2324.6 623.3,2324.8 625.2,2325.1 627.1,2325.4 629.1,2325.7 631.0,2326.1 632.9,2326.5 634.8,2326.9 636.7,2327.3 638.7,2327.7 640.6,2328.0 642.5,2328.4 644.4,2328.7 646.4,2329.0 648.3,2329.1 650.2,2329.1 652.1,2328.8 654.1,2328.4 656.1,2327.9 658.0,2327.3 659.9,2326.7 661.7,2326.1 663.2,2325.6 664.7,2325.2 666.1,2324.8 667.5,2324.2 668.8,2323.5 670.0,2322.6 671.4,2321.1 672.7,2319.2 673.9,2317.0 675.0,2314.7 676.0,2312.3 676.9,2310.0 677.9,2307.3 678.7,2304.6 679.4,2301.8 680.1,2298.9 680.8,2295.9 681.5,2292.7 682.5,2288.2 683.5,2283.4 684.4,2278.3 685.4,2273.1 686.3,2267.9 687.3,2262.7 688.3,2257.4 689.2,2252.0 690.2,2246.6 691.1,2241.2 692.1,2235.8 693.0,2230.5 694.0,2225.3 695.0,2220.1 695.9,2215.0 696.9,2209.8 697.9,2204.6 698.8,2199.4 699.8,2193.7 700.8,2187.9 701.7,2182.1 702.7,2176.3 703.6,2170.5 704.6,2164.8 705.4,2159.4 706.3,2154.0 707.1,2148.6 707.9,2143.2 708.8,2137.9 709.6,2132.5 710.5,2127.2 711.4,2121.8 712.3,2116.5 713.2,2111.2 714.1,2105.8 714.9,2100.3 715.8,2094.4 716.6,2088.5 717.4,2082.5 718.1,2076.5 718.8,2070.5 719.5,2064.6 720.2,2058.7 720.8,2052.9 721.3,2047.1 721.9,2041.3 722.4,2035.6 723.0,2030.0 723.5,2025.0 724.1,2020.1 724.6,2015.3 725.1,2010.5 725.7,2005.4 726.2,2000.0 726.9,1992.8 727.6,1985.1 728.3,1977.1 728.9,1969.0 729.7,1960.8 730.4,1952.6 731.2,1944.0 732.0,1935.2 732.8,1926.4 733.6,1917.6 734.4,1908.8 735.2,1900.0 735.9,1891.5 736.6,1883.1 737.3,1874.6 737.9,1866.1 738.5,1857.6 739.1,1848.9 739.7,1839.5 740.3,1829.9 740.9,1820.3 741.5,1810.6 742.0,1800.9 742.6,1791.3 743.1,1781.6 743.6,1772.0 744.1,1762.3 744.6,1752.6 745.1,1743.1 745.6,1733.7 746.0,1725.0 746.4,1716.5 746.8,1708.0 747.2,1699.6 747.5,1691.3 747.9,1683.0 748.2,1675.2 748.5,1667.6 748.8,1660.0 749.0,1652.4 749.3,1644.8 749.5,1636.9 749.7,1628.3 749.9,1619.5 750.1,1610.6 750.3,1601.7 750.5,1592.8 750.6,1583.9 760.3,1583.9 760.5,1592.5 760.7,1600.7 760.9,1608.9 761.0,1617.5 761.2,1626.7 761.5,1636.9 761.9,1655.7 762.4,1677.2 762.9,1700.4 763.4,1724.0 764.0,1747.0 764.5,1768.2 764.9,1784.6 765.3,1800.2 765.6,1815.3 766.0,1830.3 766.4,1845.2 766.8,1860.4 767.2,1875.9 767.6,1891.4 767.9,1907.0 768.3,1922.5 768.7,1937.7 769.1,1952.6 769.4,1965.9 769.7,1979.0 770.0,1992.0 770.3,2004.8 770.6,2017.4 770.9,2030.0 771.2,2041.7 771.5,2053.3 771.7,2064.8 772.0,2076.2 772.3,2087.6 772.5,2099.1 772.8,2110.6 773.1,2122.2 773.3,2133.7 773.6,2145.2 773.9,2156.7 774.1,2168.2 774.4,2179.8 774.7,2191.5 775.0,2203.2 775.3,2214.8 775.6,2226.2 776.0,2237.4 776.3,2247.4 776.7,2257.2 777.1,2266.9 777.5,2276.4 777.9,2285.8 778.3,2295.0 778.7,2303.2 779.0,2311.4 779.4,2319.5 779.8,2327.2 780.2,2334.5 780.6,2341.1 780.9,2345.0 781.1,2348.6 781.4,2351.9 781.7,2355.2 781.9,2358.4 782.2,2361.8 782.7,2360.3 783.2,2358.8 783.7,2357.3 784.1,2355.8 784.7,2354.2 785.2,2352.6 785.9,2350.5 786.5,2348.2 787.2,2345.9 788.0,2343.7 788.8,2341.6 789.8,2339.9 790.7,2338.8 791.6,2337.8 792.5,2337.0 793.5,2336.2 794.6,2335.7 795.6,2335.3 796.5,2335.2 797.4,2335.2 798.4,2335.4 799.3,2335.7 800.3,2336.1 801.3,2336.5 802.8,2337.1 804.3,2338.0 805.8,2339.0 807.3,2340.1 808.9,2341.2 810.6,2342.2 812.4,2343.3 814.3,2344.5 816.2,2345.6 818.1,2346.8 820.1,2347.9 822.1,2349.1 824.3,2350.5 826.6,2351.8 828.9,2353.2 831.2,2354.6 833.6,2355.9 835.9,2357.2 838.2,2358.4 840.4,2359.5 842.7,2360.6 845.0,2361.6 847.3,2362.7 849.7,2363.6 852.3,2364.6 854.9,2365.6 857.5,2366.5 860.2,2367.4 863.0,2368.3 865.9,2369.2 869.5,2370.1 873.5,2371.0 877.6,2371.8 881.7,2372.7 885.5,2373.5 888.9,2374.5 891.0,2375.2 892.9,2376.0 894.6,2376.8 896.4,2377.6 898.3,2378.4 900.4,2379.1 903.8,2379.8 907.5,2380.4 911.4,2380.9 915.5,2381.4 919.5,2381.9 923.5,2382.5 927.2,2383.3 931.0,2384.1 934.7,2385.0 938.5,2385.9 942.4,2386.8 946.5,2387.6 952.0,2388.5 957.8,2389.4 963.9,2390.3 969.9,2391.2 975.7,2392.1 981.1,2393.1 984.9,2394.0 988.5,2395.0 992.0,2396.0 995.4,2396.9 998.6,2397.8 1001.8,2398.7 1004.2,2399.3 1006.5,2399.8 1008.6,2400.3 1010.8,2400.8 1013.1,2401.2 1015.6,2401.7 1019.1,2402.1 1022.9,2402.5 1026.8,2402.9 1030.8,2403.2 1034.8,2403.4 1038.7,2403.7 1042.2,2404.0 1045.7,2404.2 1049.1,2404.5 1052.5,2404.7 1056.0,2404.9 1059.4,2405.1"/>
<polyline class="cv" stroke="#9400d3" points="281.5,2408.3 282.1,2408.3 282.6,2408.2 283.2,2408.2 283.7,2408.1 284.3,2408.0 285.0,2407.9 286.2,2407.7 287.5,2407.4 289.0,2407.1 290.4,2406.7 291.8,2406.2 293.0,2405.6 294.2,2404.7 295.2,2403.8 296.2,2402.7 297.1,2401.4 298.0,2400.1 298.8,2398.7 299.8,2396.5 300.7,2394.0 301.4,2391.3 302.1,2388.4 302.8,2385.5 303.4,2382.5 304.1,2379.0 304.7,2375.4 305.3,2371.6 305.8,2367.7 306.3,2363.7 306.9,2359.5 307.5,2354.2 308.1,2348.6 308.7,2342.9 309.2,2336.9 309.8,2331.0 310.3,2324.9 310.9,2318.3 311.5,2311.5 312.1,2304.6 312.7,2297.6 313.2,2290.5 313.8,2283.5 314.4,2275.9 314.9,2268.2 315.5,2260.4 316.1,2252.6 316.7,2244.9 317.2,2237.4 317.8,2230.3 318.3,2223.3 318.9,2216.4 319.4,2209.5 320.0,2202.7 320.7,2195.9 321.4,2189.3 322.1,2182.7 322.9,2176.1 323.7,2169.6 324.5,2163.1 325.3,2156.7 326.0,2150.8 326.7,2144.9 327.5,2139.1 328.2,2133.3 329.0,2127.7 329.9,2122.2 330.8,2117.4 331.8,2112.8 332.8,2108.2 333.9,2103.7 334.8,2099.2 335.7,2094.5 336.4,2089.6 337.0,2084.7 337.6,2079.8 338.1,2074.8 338.6,2069.7 339.1,2064.6 339.6,2059.1 340.1,2053.7 340.6,2048.3 341.0,2042.6 341.4,2036.6 341.9,2030.0 342.6,2018.8 343.3,2006.3 344.0,1992.9 344.7,1979.2 345.4,1965.6 346.0,1952.6 346.6,1940.8 347.2,1929.2 347.8,1917.8 348.4,1906.4 348.9,1894.9 349.5,1883.5 350.1,1871.9 350.7,1860.4 351.3,1848.9 351.8,1837.4 352.4,1825.9 352.9,1814.3 353.5,1802.8 353.9,1791.3 354.4,1779.8 354.9,1768.3 355.3,1756.7 355.7,1745.2 356.1,1733.5 356.5,1721.4 356.9,1709.4 357.3,1697.7 357.7,1686.5 358.0,1676.1 358.3,1669.0 358.5,1662.4 358.8,1656.2 359.0,1650.0 359.2,1643.7 359.4,1636.9 359.6,1628.5 359.8,1619.8 359.9,1610.9 360.0,1601.9 360.2,1592.8 360.3,1583.9 371.8,1583.9 372.0,1592.6 372.1,1601.1 372.2,1609.6 372.3,1618.3 372.4,1627.4 372.5,1636.9 372.7,1649.9 372.8,1663.7 372.9,1678.1 373.0,1692.8 373.1,1707.5 373.2,1722.2 373.4,1737.3 373.5,1752.6 373.6,1768.0 373.8,1783.5 374.0,1798.9 374.1,1814.3 374.3,1829.8 374.6,1845.5 374.8,1861.2 375.0,1876.8 375.3,1891.9 375.5,1906.5 375.8,1918.7 376.1,1930.6 376.3,1942.2 376.6,1953.6 376.9,1964.7 377.1,1975.6 377.4,1985.0 377.6,1994.0 377.7,2002.8 377.9,2011.6 378.1,2020.6 378.3,2030.0 378.5,2041.0 378.7,2052.4 378.9,2064.0 379.0,2075.8 379.2,2087.5 379.4,2099.1 379.7,2110.6 379.9,2122.2 380.2,2133.7 380.5,2145.2 380.8,2156.7 381.1,2168.2 381.4,2179.8 381.7,2191.5 382.0,2203.2 382.3,2214.8 382.6,2226.2 382.9,2237.4 383.2,2247.4 383.5,2257.2 383.8,2266.9 384.1,2276.4 384.4,2285.8 384.7,2295.0 385.0,2303.1 385.2,2311.1 385.5,2319.0 385.7,2326.6 386.0,2334.0 386.4,2341.1 386.7,2346.5 387.0,2351.8 387.3,2356.9 387.7,2361.8 388.1,2366.5 388.7,2371.0 389.1,2374.4 389.6,2377.7 390.0,2380.9 390.6,2383.9 391.3,2386.8 392.1,2389.4 392.9,2391.4 393.7,2393.4 394.5,2395.2 395.5,2396.8 396.6,2398.4 397.9,2399.8 399.3,2401.1 400.9,2402.2 402.5,2403.2 404.3,2404.1 406.2,2404.9 408.2,2405.6 410.9,2406.3 413.8,2406.8 416.8,2407.2 420.0,2407.5 423.3,2407.7 426.7,2407.9 431.1,2408.1 436.0,2408.4 441.1,2408.5 446.0,2408.5 450.5,2408.3 454.3,2407.9 456.2,2407.5 457.8,2407.0 459.3,2406.4 460.7,2405.8 462.1,2405.1 463.5,2404.4 465.1,2403.6 466.6,2402.6 468.2,2401.6 469.7,2400.6 471.2,2399.6 472.8,2398.7 474.3,2397.8 475.8,2397.0 477.3,2396.2 478.9,2395.5 480.4,2394.7 482.0,2394.1 483.5,2393.4 485.0,2392.8 486.6,2392.1 488.1,2391.6 489.6,2391.1 491.2,2390.6 492.7,2390.2 494.2,2389.9 495.7,2389.7 497.3,2389.4 498.8,2389.2 500.4,2389.0 502.3,2388.7 504.2,2388.5 506.1,2388.4 508.1,2388.1 510.0,2387.9 511.9,2387.6 513.9,2387.2 515.8,2386.8 517.7,2386.4 519.6,2385.9 521.6,2385.4 523.5,2384.8 525.4,2384.2 527.4,2383.6 529.3,2382.9 531.2,2382.1 533.1,2381.2 535.0,2380.2 537.0,2378.9 538.9,2377.5 540.8,2375.9 542.7,2374.2 544.6,2372.6 546.5,2371.0 548.4,2369.5 550.3,2367.9 552.2,2366.3 554.1,2364.7 556.1,2363.2 558.0,2361.8 559.9,2360.5 561.8,2359.3 563.7,2358.2 565.7,2357.0 567.6,2356.0 569.5,2354.9 571.4,2353.9 573.4,2352.9 575.3,2351.9 577.2,2350.9 579.1,2350.0 581.1,2349.1 583.0,2348.3 584.9,2347.4 586.8,2346.6 588.7,2345.8 590.6,2345.1 592.6,2344.5 594.5,2344.0 596.4,2343.5 598.3,2343.1 600.2,2342.8 602.2,2342.5 604.1,2342.2 606.0,2342.0 607.9,2341.8 609.9,2341.6 611.8,2341.5 613.7,2341.5 615.6,2341.5 617.5,2341.6 619.5,2341.8 621.4,2342.1 623.3,2342.3 625.2,2342.6 627.1,2342.9 629.1,2343.2 631.0,2343.5 632.9,2343.8 634.8,2344.0 636.7,2344.3 638.7,2344.5 640.6,2344.7 642.5,2344.9 644.4,2345.1 646.3,2345.2 648.3,2345.2 650.2,2345.2 652.1,2345.1 654.1,2344.8 656.1,2344.5 658.0,2344.1 659.9,2343.8 661.7,2343.4 663.2,2343.1 664.7,2342.8 666.1,2342.6 667.4,2342.2 668.8,2341.8 670.0,2341.1 671.3,2340.0 672.6,2338.6 673.7,2337.1 674.8,2335.4 675.9,2333.7 676.9,2331.8 678.1,2329.5 679.3,2326.9 680.4,2324.1 681.4,2321.3 682.4,2318.5 683.4,2315.7 684.3,2313.1 685.1,2310.6 685.9,2308.1 686.7,2305.5 687.5,2302.9 688.2,2300.0 689.1,2296.5 689.9,2292.7 690.7,2288.8 691.5,2284.8 692.2,2280.7 693.0,2276.5 694.0,2271.5 694.9,2266.2 695.9,2260.7 696.9,2255.2 697.8,2249.7 698.8,2244.3 699.8,2239.1 700.7,2233.9 701.7,2228.7 702.6,2223.5 703.6,2218.4 704.6,2213.2 705.5,2208.0 706.5,2202.9 707.5,2197.8 708.4,2192.6 709.4,2187.4 710.3,2182.1 711.3,2176.1 712.3,2170.0 713.2,2163.9 714.2,2157.7 715.1,2151.4 716.1,2145.2 717.1,2138.9 718.1,2132.6 719.0,2126.2 720.0,2119.9 721.0,2113.5 721.8,2107.2 722.7,2100.9 723.5,2094.5 724.3,2088.2 725.0,2081.9 725.7,2075.5 726.5,2069.2 727.2,2062.6 727.8,2056.0 728.5,2049.3 729.1,2042.7 729.8,2036.2 730.4,2030.0 730.9,2024.9 731.4,2020.0 731.9,2015.2 732.3,2010.4 732.8,2005.4 733.4,2000.0 734.1,1992.8 734.8,1985.1 735.6,1977.1 736.4,1969.0 737.2,1960.8 738.0,1952.6 738.8,1944.0 739.6,1935.2 740.5,1926.4 741.3,1917.6 742.1,1908.8 742.8,1900.0 743.5,1891.5 744.2,1883.1 744.8,1874.6 745.4,1866.1 745.9,1857.6 746.5,1848.9 747.1,1839.5 747.6,1829.9 748.1,1820.3 748.5,1810.6 749.0,1800.9 749.5,1791.3 750.0,1781.6 750.5,1772.0 750.9,1762.3 751.4,1752.6 751.8,1743.1 752.3,1733.7 752.6,1725.0 753.0,1716.5 753.4,1708.0 753.7,1699.6 754.0,1691.3 754.3,1683.0 754.6,1675.2 754.9,1667.6 755.1,1660.0 755.3,1652.4 755.5,1644.8 755.7,1636.9 755.9,1628.3 756.1,1619.5 756.2,1610.6 756.4,1601.7 756.5,1592.8 756.6,1583.9 768.6,1583.9 768.8,1592.6 768.9,1601.1 769.0,1609.6 769.2,1618.3 769.4,1627.4 769.5,1636.9 769.8,1649.9 770.1,1663.7 770.4,1678.1 770.7,1692.8 771.0,1707.5 771.4,1722.2 771.7,1737.3 772.1,1752.6 772.5,1768.0 772.9,1783.5 773.3,1798.9 773.7,1814.3 774.0,1829.8 774.3,1845.5 774.6,1861.2 774.9,1876.8 775.2,1891.9 775.5,1906.5 775.8,1918.7 776.1,1930.6 776.4,1942.2 776.6,1953.6 776.9,1964.7 777.1,1975.6 777.3,1985.0 777.5,1994.0 777.7,2002.8 777.9,2011.6 778.1,2020.6 778.3,2030.0 778.6,2041.0 778.9,2052.4 779.2,2064.0 779.5,2075.8 779.8,2087.5 780.1,2099.1 780.4,2110.7 780.7,2122.4 780.9,2134.1 781.2,2145.7 781.4,2157.1 781.8,2168.2 782.1,2178.3 782.4,2188.4 782.8,2198.3 783.2,2207.9 783.6,2217.2 784.1,2225.9 784.4,2232.3 784.7,2238.6 785.1,2244.7 785.5,2250.4 785.9,2255.7 786.4,2260.4 786.7,2263.1 787.0,2265.6 787.3,2267.9 787.6,2270.1 788.1,2272.2 788.7,2274.2 789.3,2275.9 790.0,2277.5 790.8,2278.9 791.6,2280.4 792.4,2281.9 793.3,2283.5 794.2,2285.3 795.1,2287.1 796.1,2289.0 797.1,2290.9 798.1,2292.9 799.0,2295.0 800.1,2297.5 801.2,2300.2 802.3,2302.9 803.5,2305.7 804.7,2308.4 805.9,2311.1 807.3,2313.9 808.7,2316.7 810.2,2319.4 811.8,2322.2 813.4,2324.8 815.2,2327.2 816.9,2329.4 818.7,2331.4 820.6,2333.3 822.6,2335.1 824.6,2337.0 826.7,2338.8 828.9,2340.6 831.1,2342.4 833.4,2344.2 835.8,2346.0 838.1,2347.6 840.5,2349.1 842.8,2350.5 845.1,2351.7 847.4,2352.8 849.7,2353.9 852.0,2355.0 854.3,2356.0 856.6,2357.1 858.8,2358.0 861.0,2359.0 863.3,2359.9 865.6,2360.9 868.2,2361.8 871.7,2363.0 875.6,2364.1 879.7,2365.3 883.7,2366.4 887.6,2367.5 891.2,2368.7 893.7,2369.7 896.0,2370.6 898.2,2371.6 900.4,2372.6 902.6,2373.5 905.0,2374.5 907.9,2375.5 910.9,2376.5 913.9,2377.4 917.0,2378.4 920.2,2379.3 923.5,2380.2 927.1,2381.2 930.8,2382.2 934.5,2383.2 938.4,2384.2 942.3,2385.1 946.5,2386.0 951.9,2387.0 957.8,2387.9 963.9,2388.8 969.9,2389.7 975.7,2390.7 981.1,2391.8 984.9,2392.7 988.5,2393.7 992.0,2394.7 995.4,2395.7 998.6,2396.6 1001.8,2397.5 1004.2,2398.2 1006.5,2398.8 1008.6,2399.4 1010.8,2400.0 1013.1,2400.5 1015.6,2401.0 1019.1,2401.5 1022.9,2401.9 1026.8,2402.3 1030.8,2402.7 1034.8,2403.0 1038.7,2403.3 1042.2,2403.5 1045.7,2403.8 1049.1,2404.0 1052.5,2404.2 1056.0,2404.4 1059.4,2404.7"/>
</g>
<g clip-path="url(#cBR)">
<polyline class="cv" stroke="#00ffff" points="1056.9,2408.3 1057.7,2408.3 1058.4,2408.2 1059.1,2408.2 1059.8,2408.1 1060.6,2408.0 1061.5,2407.9 1063.2,2407.6 1065.0,2407.2 1067.0,2406.7 1069.1,2406.1 1071.1,2405.3 1073.0,2404.4 1075.1,2403.2 1077.2,2401.7 1079.2,2400.0 1081.1,2398.2 1082.9,2396.2 1084.6,2394.1 1086.3,2391.4 1087.8,2388.5 1089.2,2385.5 1090.5,2382.2 1091.6,2378.9 1092.6,2375.6 1093.5,2372.0 1094.2,2368.4 1094.8,2364.6 1095.2,2360.7 1095.7,2356.7 1096.1,2352.6 1096.6,2347.3 1097.0,2341.8 1097.4,2336.1 1097.7,2330.2 1098.1,2324.1 1098.4,2318.0 1098.7,2310.8 1099.1,2303.3 1099.4,2295.7 1099.7,2287.9 1100.0,2280.0 1100.2,2271.9 1100.5,2262.8 1100.8,2253.4 1101.0,2243.9 1101.3,2234.2 1101.6,2224.3 1101.8,2214.3 1102.2,2203.1 1102.6,2191.5 1102.9,2179.8 1103.3,2168.0 1103.7,2156.4 1104.1,2145.2 1104.5,2135.3 1104.9,2125.6 1105.3,2116.1 1105.7,2106.6 1106.1,2097.1 1106.5,2087.6 1106.8,2078.2 1107.3,2069.0 1107.7,2059.8 1108.1,2050.4 1108.4,2040.5 1108.8,2030.0 1109.1,2014.8 1109.4,1998.4 1109.6,1981.2 1109.8,1963.7 1110.0,1946.4 1110.4,1929.5 1110.8,1913.9 1111.3,1898.5 1111.8,1883.2 1112.3,1867.9 1112.8,1852.7 1113.4,1837.4 1113.9,1821.6 1114.4,1805.3 1114.9,1789.0 1115.4,1773.2 1115.9,1758.5 1116.4,1745.2 1116.7,1737.3 1117.0,1730.2 1117.4,1723.4 1117.7,1717.0 1118.1,1710.5 1118.4,1703.7 1121.4,1701.0 1121.7,1708.2 1121.9,1715.1 1122.1,1722.1 1122.4,1729.3 1122.6,1736.9 1122.8,1745.2 1123.1,1758.7 1123.3,1773.7 1123.5,1789.6 1123.7,1805.9 1123.9,1822.0 1124.2,1837.4 1124.5,1851.4 1124.8,1865.6 1125.1,1879.7 1125.4,1893.3 1125.7,1906.2 1126.0,1918.0 1126.3,1925.7 1126.6,1932.9 1126.8,1939.6 1127.1,1946.2 1127.4,1952.7 1127.6,1959.5 1128.0,1950.7 1128.3,1942.1 1128.6,1933.4 1128.9,1924.7 1129.2,1915.7 1129.5,1906.5 1129.8,1895.6 1130.1,1884.5 1130.3,1873.1 1130.6,1861.5 1130.8,1849.6 1131.1,1837.4 1131.4,1822.6 1131.7,1807.1 1132.0,1791.3 1132.3,1775.4 1132.6,1760.0 1132.9,1745.2 1133.2,1732.9 1133.5,1720.7 1133.8,1708.8 1134.1,1697.3 1134.4,1686.4 1134.8,1676.1 1135.1,1669.0 1135.6,1662.4 1136.0,1656.2 1136.4,1650.0 1136.8,1643.7 1137.1,1636.9 1137.4,1628.5 1137.5,1619.8 1137.7,1610.9 1137.8,1601.9 1137.9,1592.8 1138.0,1583.9 1140.8,1583.9 1140.9,1592.8 1141.0,1601.6 1141.1,1610.5 1141.3,1619.3 1141.4,1628.2 1141.7,1636.9 1142.0,1645.5 1142.5,1654.0 1142.9,1662.5 1143.4,1670.9 1143.9,1679.3 1144.5,1687.6 1145.0,1695.6 1145.5,1703.7 1146.1,1711.8 1146.7,1719.6 1147.3,1726.9 1147.9,1733.7 1148.4,1738.1 1148.9,1742.1 1149.4,1745.9 1149.9,1749.6 1150.4,1753.4 1150.9,1757.2 1153.2,1756.3 1153.7,1750.6 1154.2,1745.1 1154.6,1739.5 1155.1,1733.9 1155.6,1728.1 1156.0,1722.2 1156.5,1714.8 1156.9,1707.2 1157.4,1699.3 1157.8,1691.4 1158.3,1683.6 1158.8,1676.1 1159.3,1669.4 1159.8,1663.0 1160.3,1656.7 1160.9,1650.3 1161.4,1643.7 1161.8,1636.9 1162.1,1628.5 1162.3,1619.8 1162.5,1610.9 1162.6,1601.9 1162.7,1592.8 1162.9,1583.9 1172.8,1583.9 1172.9,1592.5 1173.0,1600.9 1173.1,1609.2 1173.1,1617.9 1173.2,1627.0 1173.3,1636.9 1173.3,1652.7 1173.3,1670.1 1173.3,1688.5 1173.3,1707.4 1173.3,1726.5 1173.3,1745.2 1173.3,1764.4 1173.3,1783.8 1173.3,1803.4 1173.3,1822.8 1173.3,1841.9 1173.3,1860.4 1173.3,1876.5 1173.3,1892.2 1173.2,1907.6 1173.2,1922.8 1173.2,1937.8 1173.3,1952.6 1173.3,1965.9 1173.4,1979.0 1173.5,1992.0 1173.5,2004.8 1173.6,2017.4 1173.7,2030.0 1173.8,2041.7 1173.9,2053.3 1174.1,2064.8 1174.2,2076.2 1174.3,2087.6 1174.4,2099.1 1174.5,2110.6 1174.6,2122.2 1174.7,2133.7 1174.9,2145.2 1175.0,2156.7 1175.1,2168.2 1175.3,2179.8 1175.4,2191.5 1175.6,2203.2 1175.8,2214.8 1176.0,2226.2 1176.3,2237.4 1176.5,2247.4 1176.7,2257.2 1177.0,2266.9 1177.2,2276.4 1177.5,2285.8 1177.9,2295.0 1178.2,2303.1 1178.5,2311.1 1178.8,2319.0 1179.2,2326.6 1179.7,2334.0 1180.2,2341.1 1180.6,2346.5 1181.1,2351.9 1181.5,2357.1 1182.1,2362.0 1182.8,2366.7 1183.6,2371.0 1184.4,2374.1 1185.2,2377.1 1186.1,2379.9 1187.0,2382.5 1188.1,2384.9 1189.4,2387.1 1190.5,2388.8 1191.7,2390.3 1193.0,2391.6 1194.4,2392.9 1195.9,2394.1 1197.5,2395.2 1199.5,2396.4 1201.7,2397.5 1204.0,2398.5 1206.5,2399.4 1208.9,2400.2 1211.3,2401.0 1213.6,2401.7 1216.0,2402.4 1218.3,2403.0 1220.7,2403.5 1223.0,2404.0 1225.1,2404.4 1226.8,2404.8 1228.4,2405.1 1229.9,2405.4 1231.5,2405.6 1232.9,2405.7 1234.3,2405.6 1235.6,2405.3 1236.7,2404.8 1237.8,2404.1 1238.9,2403.5 1240.1,2402.8 1241.2,2402.1 1242.7,2401.4 1244.2,2400.6 1245.7,2399.8 1247.2,2399.0 1248.8,2398.3 1250.5,2397.5 1252.3,2396.7 1254.1,2395.9 1256.1,2395.2 1258.0,2394.4 1260.0,2393.6 1262.0,2392.9 1264.2,2392.1 1266.5,2391.3 1268.8,2390.5 1271.1,2389.8 1273.5,2389.0 1275.8,2388.3 1278.1,2387.6 1280.4,2387.0 1282.7,2386.4 1285.0,2385.8 1287.3,2385.1 1289.6,2384.4 1292.0,2383.6 1294.3,2382.7 1296.7,2381.9 1299.0,2381.0 1301.2,2380.0 1303.5,2379.1 1305.5,2378.2 1307.4,2377.3 1309.3,2376.3 1311.2,2375.3 1313.1,2374.3 1315.0,2373.3 1316.9,2372.2 1318.9,2371.1 1320.9,2370.0 1322.8,2368.8 1324.7,2367.6 1326.5,2366.4 1328.1,2365.3 1329.7,2364.2 1331.2,2363.1 1332.7,2361.9 1334.2,2360.7 1335.7,2359.5 1337.3,2358.1 1338.8,2356.6 1340.4,2355.0 1341.9,2353.4 1343.4,2351.8 1344.9,2350.3 1346.4,2348.7 1347.9,2347.1 1349.4,2345.5 1350.9,2344.0 1352.5,2342.5 1354.1,2341.1 1355.9,2339.7 1357.8,2338.5 1359.7,2337.3 1361.7,2336.2 1363.7,2335.1 1365.7,2334.1 1367.5,2333.2 1369.4,2332.4 1371.3,2331.6 1373.2,2330.9 1375.2,2330.2 1377.2,2329.5 1379.4,2328.9 1381.7,2328.3 1384.0,2327.8 1386.4,2327.3 1388.7,2326.7 1391.0,2326.1 1393.3,2325.4 1395.6,2324.7 1397.9,2323.9 1400.3,2323.1 1402.5,2322.3 1404.8,2321.5 1407.2,2320.6 1409.5,2319.7 1411.9,2318.8 1414.2,2317.9 1416.5,2316.8 1418.7,2315.7 1420.7,2314.5 1422.7,2313.1 1424.7,2311.7 1426.6,2310.3 1428.5,2308.9 1430.2,2307.6 1431.4,2306.7 1432.6,2305.8 1433.8,2304.8 1434.9,2304.0 1436.0,2303.4 1437.1,2303.0 1437.9,2303.0 1438.7,2303.1 1439.4,2303.4 1440.2,2303.7 1440.9,2304.0 1441.7,2304.2 1442.5,2304.4 1443.3,2304.7 1444.0,2304.9 1444.8,2305.2 1445.6,2305.3 1446.3,2305.3 1447.0,2305.3 1447.6,2305.3 1448.2,2305.2 1448.8,2305.0 1449.4,2304.7 1450.0,2304.2 1451.3,2302.3 1452.5,2299.4 1453.7,2295.8 1454.8,2291.7 1455.9,2287.5 1456.9,2283.5 1458.2,2278.3 1459.4,2272.8 1460.6,2267.1 1461.7,2261.1 1462.7,2255.1 1463.8,2248.9 1465.0,2241.7 1466.2,2234.2 1467.4,2226.6 1468.5,2218.8 1469.6,2210.9 1470.7,2202.8 1471.9,2193.5 1473.1,2183.9 1474.3,2174.0 1475.4,2164.2 1476.5,2154.5 1477.6,2145.2 1478.6,2137.2 1479.6,2129.3 1480.6,2121.6 1481.6,2114.0 1482.5,2106.5 1483.4,2099.1 1484.2,2092.5 1485.0,2086.3 1485.7,2080.1 1486.5,2073.7 1487.2,2067.1 1488.0,2060.0 1489.1,2049.7 1490.1,2038.7 1491.1,2027.2 1492.2,2015.3 1493.3,2002.8 1494.5,1990.0 1496.2,1972.7 1498.1,1954.1 1500.0,1934.8 1502.0,1915.4 1504.0,1896.5 1505.8,1878.8 1507.3,1864.4 1508.7,1849.9 1510.1,1835.8 1511.5,1822.5 1512.8,1810.4 1514.1,1800.0 1514.8,1794.9 1515.4,1790.1 1516.0,1785.8 1516.6,1781.9 1517.3,1778.3 1518.0,1775.0 1518.4,1773.1 1518.8,1771.1 1519.3,1769.3 1519.7,1767.8 1520.3,1766.6 1521.0,1766.0 1521.6,1765.9 1522.2,1766.1 1522.9,1766.5 1523.7,1767.0 1524.4,1767.5 1525.0,1768.0 1525.7,1768.7 1526.3,1769.5 1526.9,1770.5 1527.5,1771.3 1528.1,1771.9 1528.6,1772.0 1529.4,1771.2 1530.1,1769.5 1530.8,1767.1 1531.4,1764.3 1532.0,1761.4 1532.6,1758.8 1533.3,1755.8 1533.9,1752.5 1534.4,1749.2 1534.9,1745.8 1535.4,1742.4 1535.9,1739.1 1536.4,1735.8 1536.8,1732.5 1537.3,1729.2 1537.7,1725.9 1538.1,1722.6 1538.5,1719.3 1538.9,1716.0 1539.2,1712.7 1539.6,1709.4 1539.9,1706.1 1540.2,1702.8 1540.5,1699.5 1540.8,1696.2 1541.1,1692.9 1541.4,1689.6 1541.6,1686.4 1541.9,1683.1 1542.1,1679.8 1542.3,1676.5 1542.5,1673.3 1542.7,1670.0 1542.8,1666.7 1543.0,1663.4 1543.1,1660.0 1543.3,1656.4 1543.4,1652.8 1543.6,1649.2 1543.7,1645.4 1543.9,1641.4 1544.0,1637.0 1544.2,1629.4 1544.4,1620.9 1544.5,1611.8 1544.6,1602.4 1544.8,1593.0 1544.9,1583.9 1557.4,1583.9 1557.5,1592.5 1557.7,1600.9 1557.9,1609.2 1558.0,1617.9 1558.2,1627.0 1558.3,1636.9 1558.4,1652.7 1558.5,1670.1 1558.6,1688.5 1558.6,1707.4 1558.7,1726.5 1558.8,1745.2 1558.9,1764.4 1559.0,1783.8 1559.1,1803.4 1559.2,1822.8 1559.3,1841.9 1559.4,1860.4 1559.6,1876.5 1559.7,1892.2 1559.8,1907.6 1559.9,1922.8 1560.0,1937.8 1560.1,1952.6 1560.2,1965.9 1560.3,1979.0 1560.4,1992.0 1560.4,2004.8 1560.5,2017.4 1560.6,2030.0 1560.7,2041.7 1560.8,2053.3 1560.9,2064.8 1561.0,2076.2 1561.1,2087.6 1561.3,2099.1 1561.5,2110.6 1561.6,2122.2 1561.8,2133.7 1562.0,2145.2 1562.2,2156.7 1562.4,2168.2 1562.7,2180.1 1562.9,2192.3 1563.1,2204.6 1563.3,2216.4 1563.6,2227.5 1564.1,2237.4 1564.4,2243.2 1564.7,2248.6 1565.0,2253.6 1565.4,2258.4 1565.8,2262.9 1566.4,2267.3 1566.8,2270.7 1567.3,2274.1 1567.8,2277.3 1568.4,2280.3 1569.0,2283.1 1569.8,2285.8 1570.4,2287.6 1571.1,2289.3 1571.8,2290.9 1572.6,2292.4 1573.4,2293.8 1574.4,2295.0 1575.4,2295.9 1576.5,2296.7 1577.6,2297.4 1578.8,2298.0 1580.1,2298.6 1581.3,2299.1 1582.8,2299.7 1584.3,2300.1 1585.8,2300.4 1587.4,2300.8 1589.0,2301.3 1590.6,2301.9 1592.4,2302.8 1594.3,2303.8 1596.2,2304.9 1598.2,2306.1 1600.1,2307.4 1602.1,2308.8 1604.3,2310.5 1606.6,2312.4 1608.9,2314.4 1611.2,2316.4 1613.6,2318.4 1615.9,2320.3 1618.2,2322.1 1620.5,2323.9 1622.8,2325.7 1625.1,2327.4 1627.4,2329.1 1629.7,2330.7 1632.0,2332.2 1634.3,2333.6 1636.6,2335.0 1638.9,2336.3 1641.2,2337.6 1643.5,2338.8 1645.8,2339.8 1648.2,2340.9 1650.5,2341.8 1652.8,2342.7 1655.1,2343.6 1657.4,2344.5 1659.4,2345.3 1661.3,2346.1 1663.2,2346.8 1665.1,2347.5 1667.0,2348.3 1668.9,2349.1 1670.8,2350.0 1672.7,2351.0 1674.6,2352.0 1676.5,2353.0 1678.4,2353.9 1680.4,2354.9 1682.6,2355.9 1684.9,2357.0 1687.2,2358.0 1689.5,2359.0 1691.9,2359.9 1694.2,2360.6 1696.5,2361.2 1698.7,2361.7 1701.0,2362.1 1703.3,2362.4 1705.6,2362.7 1708.1,2362.9 1711.0,2363.2 1714.0,2363.3 1717.1,2363.4 1720.3,2363.4 1723.4,2363.5 1726.5,2363.6 1729.6,2363.8 1732.7,2364.0 1735.8,2364.2 1738.9,2364.4 1741.9,2364.8 1744.9,2365.3 1747.7,2365.8 1750.4,2366.5 1753.1,2367.2 1755.8,2368.0 1758.4,2368.9 1761.1,2369.9 1763.8,2371.0 1766.5,2372.2 1769.3,2373.6 1772.0,2375.0 1774.6,2376.5 1777.2,2377.9 1779.6,2379.4 1781.9,2381.0 1784.2,2382.6 1786.4,2384.2 1788.7,2385.7 1791.0,2387.1 1793.3,2388.4 1795.6,2389.7 1797.9,2390.9 1800.2,2392.0 1802.5,2393.1 1804.8,2394.1 1807.1,2394.9 1809.3,2395.7 1811.6,2396.4 1813.9,2397.0 1816.2,2397.6 1818.7,2398.2 1821.6,2398.8 1824.6,2399.4 1827.7,2399.9 1830.8,2400.4 1834.0,2400.9 1837.1,2401.4"/>
<polyline class="cv" stroke="#ffa500" points="1056.9,2408.3 1065.7,2408.3 1074.7,2408.3 1083.8,2408.4 1092.6,2408.3 1100.6,2408.2 1107.6,2407.9 1111.3,2407.6 1114.6,2407.4 1117.7,2407.1 1120.6,2406.7 1123.3,2406.2 1126.0,2405.6 1128.2,2405.0 1130.2,2404.4 1132.2,2403.7 1134.0,2402.9 1135.8,2402.0 1137.6,2401.0 1139.3,2399.7 1140.9,2398.4 1142.5,2396.9 1144.0,2395.3 1145.4,2393.6 1146.8,2391.8 1148.2,2389.4 1149.5,2386.9 1150.7,2384.3 1151.8,2381.5 1152.8,2378.6 1153.7,2375.6 1154.6,2372.1 1155.4,2368.5 1156.1,2364.7 1156.8,2360.8 1157.3,2356.8 1157.8,2352.6 1158.4,2347.3 1158.8,2341.9 1159.2,2336.3 1159.5,2330.5 1159.8,2324.4 1160.1,2318.0 1160.6,2309.3 1161.0,2299.9 1161.4,2290.1 1161.7,2280.2 1162.1,2270.2 1162.4,2260.4 1162.8,2250.8 1163.1,2241.2 1163.5,2231.6 1163.8,2222.0 1164.2,2212.4 1164.5,2202.8 1164.9,2193.2 1165.3,2183.6 1165.6,2174.0 1166.0,2164.4 1166.4,2154.8 1166.8,2145.2 1167.2,2135.6 1167.6,2126.0 1168.0,2116.4 1168.4,2106.8 1168.8,2097.2 1169.4,2087.6 1169.9,2078.2 1170.6,2069.0 1171.3,2059.8 1172.0,2050.4 1172.7,2040.5 1173.3,2030.0 1173.9,2014.8 1174.5,1998.4 1174.9,1981.2 1175.4,1963.7 1175.8,1946.4 1176.3,1929.5 1176.7,1913.9 1177.2,1898.5 1177.7,1883.2 1178.1,1867.9 1178.6,1852.7 1179.0,1837.4 1179.5,1821.6 1179.9,1805.5 1180.4,1789.3 1180.8,1773.6 1181.3,1758.7 1181.8,1745.2 1182.2,1736.6 1182.5,1728.7 1182.9,1721.2 1183.3,1713.9 1183.7,1706.6 1184.1,1699.1 1186.9,1694.1 1187.1,1702.4 1187.3,1710.6 1187.6,1718.7 1187.8,1727.0 1188.0,1735.8 1188.2,1745.2 1188.5,1759.1 1188.8,1774.2 1189.0,1790.0 1189.3,1806.1 1189.6,1822.1 1189.9,1837.4 1190.1,1851.4 1190.4,1865.5 1190.7,1879.5 1191.1,1893.1 1191.4,1906.0 1191.7,1918.0 1192.0,1926.3 1192.2,1934.0 1192.5,1941.3 1192.8,1948.5 1193.0,1955.6 1193.3,1962.9 1193.7,1953.6 1194.1,1944.3 1194.5,1935.1 1194.9,1925.7 1195.3,1916.2 1195.6,1906.5 1196.0,1895.5 1196.3,1884.3 1196.6,1873.0 1196.9,1861.4 1197.2,1849.5 1197.5,1837.4 1197.8,1822.6 1198.1,1807.1 1198.4,1791.3 1198.7,1775.4 1199.0,1760.0 1199.3,1745.2 1199.5,1732.9 1199.7,1720.7 1199.8,1708.8 1200.0,1697.3 1200.2,1686.4 1200.5,1676.1 1200.7,1669.0 1201.0,1662.4 1201.3,1656.2 1201.6,1650.0 1201.8,1643.7 1202.1,1636.9 1202.3,1628.5 1202.5,1619.8 1202.6,1610.9 1202.7,1601.9 1202.9,1592.8 1203.0,1583.9 1209.0,1583.9 1209.2,1592.8 1209.3,1601.6 1209.5,1610.5 1209.7,1619.3 1209.9,1628.1 1210.1,1636.9 1210.4,1645.5 1210.8,1654.0 1211.2,1662.5 1211.6,1670.9 1212.0,1679.3 1212.4,1687.6 1212.9,1695.6 1213.3,1703.8 1213.7,1711.9 1214.2,1719.7 1214.7,1727.0 1215.4,1733.7 1216.0,1738.0 1216.6,1742.2 1217.2,1746.1 1217.9,1749.7 1218.6,1752.9 1219.4,1755.6 1219.8,1756.7 1220.2,1757.6 1220.6,1758.5 1221.0,1759.3 1221.5,1760.0 1221.9,1760.9 1222.4,1754.5 1223.0,1748.1 1223.6,1741.7 1224.1,1735.3 1224.6,1728.8 1225.1,1722.2 1225.6,1714.7 1226.0,1707.0 1226.3,1699.1 1226.6,1691.3 1227.0,1683.6 1227.4,1676.1 1227.9,1669.4 1228.4,1663.0 1228.9,1656.7 1229.4,1650.3 1229.8,1643.7 1230.2,1636.9 1230.5,1628.5 1230.7,1619.8 1230.8,1610.9 1230.9,1601.9 1231.0,1592.8 1231.1,1583.9 1237.1,1583.9 1237.2,1592.5 1237.3,1600.9 1237.5,1609.2 1237.6,1617.9 1237.7,1627.0 1237.8,1636.9 1237.9,1652.8 1238.0,1670.5 1238.1,1689.2 1238.2,1708.3 1238.3,1727.2 1238.5,1745.2 1238.6,1761.0 1238.7,1776.5 1238.9,1791.8 1239.0,1806.9 1239.2,1822.1 1239.4,1837.4 1239.6,1852.7 1239.8,1867.9 1240.0,1883.2 1240.2,1898.5 1240.5,1913.9 1240.8,1929.5 1241.1,1946.5 1241.5,1964.1 1242.0,1981.9 1242.4,1999.2 1242.8,2015.4 1243.1,2030.0 1243.3,2038.6 1243.4,2046.5 1243.5,2053.8 1243.7,2061.0 1243.8,2068.3 1244.0,2076.1 1244.3,2085.3 1244.5,2094.8 1244.8,2104.5 1245.1,2114.2 1245.5,2124.0 1245.9,2133.7 1246.2,2143.4 1246.6,2153.1 1247.1,2162.9 1247.5,2172.6 1248.0,2182.1 1248.6,2191.3 1249.2,2199.4 1249.7,2207.5 1250.4,2215.4 1251.1,2223.1 1251.8,2230.4 1252.8,2237.4 1253.6,2242.5 1254.4,2247.3 1255.3,2251.9 1256.3,2256.4 1257.3,2260.8 1258.5,2265.0 1259.7,2268.7 1260.9,2272.3 1262.3,2275.8 1263.6,2279.2 1265.1,2282.5 1266.6,2285.8 1268.0,2288.6 1269.5,2291.3 1271.0,2293.9 1272.6,2296.5 1274.2,2299.2 1275.8,2301.9 1277.6,2304.9 1279.5,2308.1 1281.4,2311.3 1283.3,2314.4 1285.3,2317.4 1287.3,2320.3 1289.2,2322.8 1291.0,2325.3 1292.9,2327.7 1294.9,2330.0 1296.8,2332.2 1298.8,2334.1 1300.7,2335.8 1302.6,2337.3 1304.6,2338.7 1306.5,2340.0 1308.5,2341.2 1310.4,2342.2 1311.9,2343.0 1313.5,2343.6 1315.0,2344.2 1316.5,2344.7 1318.0,2345.0 1319.6,2345.2 1321.1,2345.2 1322.7,2345.1 1324.2,2344.8 1325.8,2344.5 1327.3,2344.0 1328.8,2343.4 1330.4,2342.6 1332.0,2341.6 1333.6,2340.5 1335.1,2339.3 1336.6,2337.9 1338.0,2336.5 1339.7,2334.5 1341.3,2332.3 1342.8,2330.0 1344.3,2327.6 1345.8,2325.1 1347.2,2322.6 1348.8,2320.0 1350.3,2317.3 1351.8,2314.6 1353.4,2311.8 1354.9,2309.1 1356.5,2306.5 1357.9,2304.1 1359.5,2301.7 1361.0,2299.3 1362.5,2297.0 1364.1,2294.8 1365.7,2292.7 1367.1,2290.8 1368.6,2288.9 1370.1,2287.1 1371.7,2285.3 1373.3,2283.7 1374.9,2282.3 1376.4,2281.2 1377.9,2280.1 1379.4,2279.2 1380.9,2278.4 1382.5,2277.6 1384.1,2277.0 1385.6,2276.5 1387.1,2276.1 1388.6,2275.8 1390.1,2275.6 1391.7,2275.5 1393.3,2275.4 1395.2,2275.5 1397.1,2275.7 1399.0,2276.0 1400.9,2276.4 1402.9,2276.7 1404.8,2277.0 1406.8,2277.2 1408.7,2277.5 1410.6,2277.7 1412.5,2277.9 1414.5,2277.9 1416.4,2277.7 1418.3,2277.3 1420.3,2276.7 1422.3,2276.0 1424.3,2275.2 1426.1,2274.2 1427.9,2273.1 1429.6,2271.7 1431.3,2270.1 1432.8,2268.4 1434.3,2266.6 1435.7,2264.7 1437.1,2262.7 1438.4,2260.6 1439.7,2258.5 1440.9,2256.3 1442.0,2253.9 1443.0,2251.5 1444.0,2248.9 1445.2,2245.5 1446.3,2241.8 1447.3,2238.0 1448.2,2234.0 1449.1,2230.0 1450.0,2225.9 1450.9,2221.2 1451.7,2216.4 1452.4,2211.5 1453.1,2206.5 1453.8,2201.3 1454.6,2195.9 1455.7,2188.8 1456.8,2181.2 1457.9,2173.3 1459.0,2165.4 1460.3,2157.5 1461.5,2149.8 1462.8,2142.7 1464.1,2135.7 1465.4,2128.8 1466.8,2121.9 1468.2,2115.1 1469.6,2108.3 1470.9,2102.0 1472.3,2095.8 1473.6,2089.6 1475.0,2083.5 1476.3,2077.5 1477.6,2071.5 1478.9,2066.1 1480.1,2060.8 1481.3,2055.7 1482.5,2050.4 1483.6,2045.0 1484.6,2039.2 1485.5,2031.7 1486.3,2023.8 1486.9,2015.6 1487.5,2007.2 1488.4,1998.6 1489.5,1990.0 1491.2,1980.0 1493.3,1969.6 1495.5,1959.1 1497.9,1948.5 1500.2,1938.2 1502.4,1928.2 1504.3,1919.6 1506.2,1911.1 1508.0,1902.8 1509.9,1894.7 1511.6,1886.7 1513.2,1878.8 1514.5,1872.0 1515.8,1865.3 1517.0,1858.8 1518.1,1852.3 1519.2,1845.8 1520.2,1839.3 1521.2,1832.9 1522.1,1826.6 1523.0,1820.2 1523.9,1813.9 1524.7,1807.5 1525.6,1801.2 1530.0,1792.0 1530.2,1795.7 1530.4,1799.2 1530.6,1802.8 1530.8,1806.5 1531.0,1810.5 1531.2,1815.0 1531.6,1823.6 1532.1,1833.3 1532.6,1843.8 1533.1,1855.0 1533.6,1866.8 1534.0,1878.8 1534.4,1896.2 1534.8,1915.7 1535.1,1936.0 1535.3,1955.9 1535.6,1974.3 1535.9,1990.0 1536.1,1997.7 1536.3,2004.4 1536.5,2010.6 1536.7,2016.6 1536.9,2022.9 1537.1,2030.0 1537.3,2040.4 1537.5,2051.6 1537.7,2063.4 1537.8,2075.4 1538.0,2087.4 1538.2,2099.1 1538.5,2110.6 1538.7,2122.2 1539.0,2133.7 1539.3,2145.2 1539.5,2156.7 1539.9,2168.2 1540.2,2179.8 1540.6,2191.5 1540.9,2203.2 1541.3,2214.8 1541.7,2226.2 1542.2,2237.4 1542.6,2247.4 1543.0,2257.2 1543.4,2266.9 1543.9,2276.5 1544.4,2285.8 1544.9,2295.0 1545.5,2303.1 1546.0,2311.1 1546.6,2319.0 1547.3,2326.6 1547.9,2334.0 1548.6,2341.1 1549.2,2346.5 1549.8,2351.8 1550.4,2356.9 1551.0,2361.8 1551.7,2366.5 1552.5,2371.0 1553.2,2374.4 1554.0,2377.8 1554.8,2381.0 1555.7,2384.0 1556.4,2386.9 1557.1,2389.4 1557.5,2391.2 1557.9,2393.0 1558.3,2394.7 1558.6,2396.1 1559.0,2397.1 1559.4,2397.5 1560.3,2396.7 1561.2,2394.4 1562.2,2391.2 1563.2,2387.5 1564.3,2383.7 1565.2,2380.2 1566.2,2376.6 1567.1,2372.7 1568.0,2368.7 1568.9,2364.8 1569.9,2360.9 1571.0,2357.2 1572.0,2353.9 1573.0,2350.7 1574.1,2347.6 1575.2,2344.5 1576.5,2341.6 1577.9,2338.8 1579.4,2336.2 1580.9,2333.8 1582.6,2331.4 1584.4,2329.2 1586.3,2327.0 1588.2,2324.9 1590.3,2323.0 1592.6,2321.1 1594.9,2319.3 1597.3,2317.6 1599.7,2316.0 1602.1,2314.6 1604.3,2313.3 1606.6,2312.2 1608.9,2311.2 1611.2,2310.3 1613.6,2309.5 1615.9,2308.8 1618.2,2308.2 1620.4,2307.7 1622.7,2307.3 1624.9,2307.0 1627.3,2306.7 1629.7,2306.5 1632.6,2306.3 1635.7,2306.2 1638.8,2306.2 1641.9,2306.3 1645.1,2306.4 1648.2,2306.5 1651.3,2306.6 1654.5,2306.7 1657.8,2306.8 1660.9,2307.0 1663.9,2307.2 1666.6,2307.6 1668.3,2308.0 1669.9,2308.4 1671.3,2308.8 1672.8,2309.3 1674.2,2309.9 1675.8,2310.6 1678.0,2311.8 1680.2,2313.1 1682.4,2314.5 1684.8,2316.1 1687.2,2317.7 1689.6,2319.2 1692.5,2320.9 1695.6,2322.6 1698.7,2324.4 1701.8,2326.1 1704.9,2327.9 1708.1,2329.5 1711.1,2331.1 1714.1,2332.7 1717.1,2334.2 1720.2,2335.7 1723.3,2337.2 1726.5,2338.8 1730.2,2340.5 1734.1,2342.3 1738.0,2344.0 1741.9,2345.8 1745.8,2347.5 1749.5,2349.1 1752.7,2350.5 1755.9,2351.8 1758.9,2353.0 1762.0,2354.3 1765.0,2355.7 1768.0,2357.2 1771.1,2358.9 1774.2,2360.7 1777.3,2362.6 1780.3,2364.6 1783.4,2366.6 1786.4,2368.7 1789.5,2371.0 1792.7,2373.3 1795.8,2375.8 1798.9,2378.2 1801.9,2380.5 1804.8,2382.5 1807.2,2384.1 1809.5,2385.5 1811.7,2386.8 1813.9,2388.1 1816.2,2389.4 1818.7,2390.6 1821.6,2392.0 1824.6,2393.2 1827.7,2394.5 1830.8,2395.7 1834.0,2397.0 1837.1,2398.2"/>
<polyline class="cv" stroke="#9400d3" points="1056.9,2408.3 1067.7,2408.3 1079.0,2408.4 1090.3,2408.4 1101.1,2408.4 1110.9,2408.2 1119.1,2407.9 1122.9,2407.7 1126.3,2407.5 1129.4,2407.2 1132.2,2406.9 1134.9,2406.3 1137.6,2405.6 1139.7,2404.7 1141.8,2403.8 1143.7,2402.7 1145.6,2401.4 1147.4,2400.1 1149.1,2398.7 1150.8,2397.0 1152.5,2395.3 1154.1,2393.4 1155.6,2391.4 1157.0,2389.3 1158.3,2387.1 1159.5,2384.7 1160.6,2382.2 1161.6,2379.5 1162.5,2376.8 1163.3,2373.9 1164.1,2371.0 1164.9,2367.5 1165.5,2363.9 1166.1,2360.2 1166.6,2356.3 1167.1,2352.3 1167.5,2348.0 1168.1,2341.8 1168.5,2335.3 1168.8,2328.4 1169.2,2321.3 1169.5,2313.9 1169.8,2306.5 1170.2,2297.4 1170.6,2288.0 1171.0,2278.3 1171.4,2268.4 1171.7,2258.6 1172.1,2248.9 1172.5,2239.3 1172.9,2229.7 1173.3,2220.1 1173.7,2210.5 1174.0,2200.9 1174.4,2191.3 1174.8,2181.7 1175.2,2172.1 1175.6,2162.5 1176.0,2152.9 1176.4,2143.3 1176.7,2133.7 1177.1,2124.0 1177.4,2114.2 1177.7,2104.5 1178.0,2094.8 1178.3,2085.3 1178.6,2076.1 1178.8,2068.3 1179.1,2061.0 1179.3,2053.8 1179.6,2046.5 1179.9,2038.6 1180.2,2030.0 1180.7,2015.4 1181.3,1999.2 1181.9,1981.9 1182.5,1964.1 1183.1,1946.5 1183.6,1929.5 1184.1,1913.9 1184.6,1898.5 1185.0,1883.2 1185.5,1867.9 1185.9,1852.7 1186.4,1837.4 1186.9,1821.8 1187.4,1805.9 1187.9,1789.9 1188.4,1774.3 1188.9,1759.3 1189.4,1745.2 1189.8,1734.8 1190.1,1725.0 1190.5,1715.6 1190.8,1706.3 1191.1,1697.0 1191.5,1687.6 1194.7,1684.8 1194.9,1694.8 1195.1,1704.5 1195.3,1714.2 1195.5,1724.1 1195.7,1734.4 1195.9,1745.2 1196.1,1759.5 1196.3,1774.7 1196.5,1790.5 1196.8,1806.4 1197.0,1822.1 1197.2,1837.4 1197.5,1851.3 1197.7,1865.1 1197.9,1878.8 1198.2,1892.3 1198.4,1905.4 1198.6,1918.0 1198.8,1928.3 1199.0,1938.3 1199.2,1948.0 1199.4,1957.5 1199.6,1967.1 1199.8,1976.8 1200.4,1972.8 1201.0,1969.0 1201.6,1965.2 1202.2,1961.2 1202.7,1957.1 1203.2,1952.6 1203.9,1945.9 1204.4,1938.7 1204.9,1931.1 1205.4,1923.1 1205.8,1914.9 1206.2,1906.5 1206.6,1895.9 1206.9,1884.9 1207.2,1873.4 1207.4,1861.7 1207.6,1849.6 1207.8,1837.4 1208.1,1822.6 1208.3,1807.1 1208.4,1791.3 1208.6,1775.4 1208.8,1760.0 1209.0,1745.2 1209.2,1732.9 1209.3,1720.7 1209.5,1708.8 1209.7,1697.3 1209.9,1686.4 1210.1,1676.1 1210.3,1669.0 1210.5,1662.4 1210.7,1656.2 1210.9,1650.0 1211.1,1643.7 1211.3,1636.9 1211.4,1628.5 1211.6,1619.8 1211.7,1610.9 1211.8,1601.9 1211.9,1592.8 1212.0,1583.9 1216.4,1583.9 1216.5,1592.8 1216.5,1601.6 1216.6,1610.5 1216.7,1619.3 1216.8,1628.1 1217.1,1636.9 1217.3,1645.5 1217.6,1654.0 1218.0,1662.5 1218.4,1670.9 1218.9,1679.3 1219.4,1687.6 1219.8,1695.6 1220.3,1703.6 1220.9,1711.6 1221.4,1719.4 1222.1,1726.8 1222.8,1733.7 1223.4,1738.5 1224.1,1743.1 1224.8,1747.4 1225.5,1751.6 1226.3,1755.9 1227.0,1760.2 1227.8,1755.9 1228.7,1751.6 1229.6,1747.4 1230.5,1743.1 1231.3,1738.5 1232.0,1733.7 1232.8,1726.8 1233.5,1719.4 1234.0,1711.6 1234.5,1703.6 1235.0,1695.6 1235.5,1687.6 1236.0,1679.3 1236.6,1670.9 1237.2,1662.5 1237.7,1654.0 1238.1,1645.5 1238.5,1636.9 1238.8,1628.2 1238.9,1619.3 1239.1,1610.5 1239.2,1601.6 1239.3,1592.8 1239.4,1583.9 1242.9,1583.9 1243.0,1592.5 1243.1,1600.9 1243.2,1609.2 1243.3,1617.9 1243.4,1627.0 1243.5,1636.9 1243.8,1652.8 1244.2,1670.5 1244.6,1689.2 1245.0,1708.3 1245.4,1727.2 1245.9,1745.2 1246.2,1761.0 1246.6,1776.5 1247.0,1791.8 1247.4,1806.9 1247.8,1822.1 1248.2,1837.4 1248.5,1852.7 1248.9,1867.9 1249.3,1883.2 1249.7,1898.5 1250.1,1913.9 1250.5,1929.5 1250.8,1946.5 1251.2,1964.1 1251.5,1981.9 1251.9,1999.2 1252.3,2015.4 1252.8,2030.0 1253.1,2038.6 1253.5,2046.5 1253.8,2053.8 1254.2,2061.0 1254.6,2068.3 1255.1,2076.1 1255.6,2085.3 1256.1,2094.8 1256.7,2104.5 1257.3,2114.3 1257.9,2124.0 1258.5,2133.7 1259.2,2143.4 1259.9,2153.1 1260.6,2162.9 1261.4,2172.6 1262.2,2182.1 1263.1,2191.3 1264.0,2199.4 1264.8,2207.4 1265.8,2215.2 1266.7,2222.8 1267.8,2230.2 1268.9,2237.4 1269.9,2243.1 1271.0,2248.7 1272.1,2254.1 1273.3,2259.4 1274.5,2264.6 1275.8,2269.6 1277.0,2274.1 1278.2,2278.5 1279.5,2282.7 1280.9,2286.9 1282.3,2291.0 1283.9,2295.0 1285.4,2298.7 1287.1,2302.3 1288.8,2305.8 1290.6,2309.3 1292.4,2312.6 1294.2,2315.7 1295.7,2318.3 1297.2,2320.8 1298.7,2323.1 1300.2,2325.4 1301.8,2327.6 1303.5,2329.5 1304.9,2331.2 1306.4,2332.7 1308.0,2334.2 1309.5,2335.5 1311.1,2336.6 1312.7,2337.6 1314.0,2338.3 1315.3,2338.8 1316.7,2339.3 1318.0,2339.6 1319.4,2339.8 1320.7,2339.9 1322.1,2339.8 1323.4,2339.6 1324.8,2339.3 1326.1,2338.8 1327.5,2338.3 1328.8,2337.6 1330.4,2336.6 1332.0,2335.5 1333.6,2334.2 1335.1,2332.7 1336.6,2331.2 1338.0,2329.5 1339.5,2327.5 1340.9,2325.3 1342.2,2323.0 1343.5,2320.6 1344.7,2318.1 1346.1,2315.7 1347.6,2313.1 1349.1,2310.3 1350.6,2307.5 1352.1,2304.8 1353.7,2302.1 1355.3,2299.6 1356.8,2297.5 1358.3,2295.4 1359.8,2293.5 1361.3,2291.6 1362.9,2289.8 1364.5,2288.1 1366.0,2286.5 1367.5,2285.0 1369.0,2283.5 1370.5,2282.2 1372.1,2281.0 1373.7,2280.0 1375.2,2279.3 1376.7,2278.8 1378.2,2278.4 1379.7,2278.0 1381.3,2277.8 1382.9,2277.7 1384.9,2277.7 1387.0,2277.9 1389.2,2278.3 1391.4,2278.7 1393.5,2279.0 1395.6,2279.3 1397.6,2279.5 1399.5,2279.7 1401.4,2279.8 1403.3,2280.0 1405.2,2280.0 1407.1,2280.0 1409.1,2279.9 1411.1,2279.8 1413.0,2279.6 1415.0,2279.3 1416.9,2278.9 1418.7,2278.4 1420.3,2277.8 1421.9,2277.0 1423.4,2276.2 1425.0,2275.3 1426.4,2274.2 1427.9,2273.1 1429.5,2271.7 1431.2,2270.1 1432.7,2268.4 1434.3,2266.5 1435.7,2264.7 1437.1,2262.7 1438.4,2260.6 1439.7,2258.5 1440.9,2256.3 1442.0,2253.9 1443.1,2251.5 1444.0,2248.9 1445.1,2245.4 1446.0,2241.6 1446.8,2237.5 1447.5,2233.5 1448.1,2229.5 1448.6,2225.9 1449.0,2223.1 1449.2,2220.5 1449.3,2217.9 1449.5,2215.4 1449.7,2212.7 1450.0,2209.7 1450.6,2205.3 1451.3,2200.7 1452.1,2195.8 1452.9,2190.6 1453.8,2185.3 1454.6,2179.8 1455.7,2172.3 1456.8,2164.4 1457.9,2156.1 1459.0,2147.7 1460.2,2139.4 1461.5,2131.4 1462.8,2124.2 1464.1,2117.2 1465.5,2110.3 1466.8,2103.4 1468.2,2096.6 1469.6,2089.9 1470.9,2083.8 1472.2,2077.8 1473.5,2072.0 1474.8,2066.0 1476.0,2059.7 1477.2,2053.0 1478.6,2043.7 1479.9,2033.9 1481.1,2023.6 1482.4,2012.8 1483.7,2001.6 1485.1,1990.0 1487.1,1974.0 1489.3,1957.0 1491.7,1939.2 1494.0,1921.0 1496.4,1902.8 1498.7,1885.0 1501.1,1866.9 1503.6,1848.2 1506.1,1829.4 1508.5,1811.4 1510.6,1794.7 1512.3,1780.0 1513.1,1772.2 1513.8,1765.2 1514.4,1758.7 1514.9,1752.4 1515.4,1746.2 1516.0,1739.7 1520.3,1713.2 1523.8,1739.7 1524.0,1746.2 1524.2,1752.4 1524.5,1758.7 1524.7,1765.2 1524.9,1772.2 1525.1,1780.0 1525.4,1794.6 1525.7,1811.3 1526.0,1829.4 1526.2,1848.2 1526.5,1866.9 1526.8,1885.0 1527.1,1903.1 1527.4,1921.8 1527.7,1940.6 1528.0,1958.7 1528.3,1975.4 1528.6,1990.0 1528.8,1997.6 1528.9,2004.3 1529.1,2010.5 1529.2,2016.6 1529.4,2022.9 1529.5,2030.0 1529.6,2040.4 1529.8,2051.6 1529.9,2063.4 1530.0,2075.4 1530.1,2087.4 1530.2,2099.1 1530.3,2110.6 1530.5,2122.2 1530.6,2133.7 1530.8,2145.2 1530.9,2156.7 1531.1,2168.2 1531.3,2179.9 1531.5,2191.8 1531.7,2203.7 1532.0,2215.4 1532.2,2226.7 1532.5,2237.4 1532.7,2245.6 1533.0,2253.4 1533.2,2261.0 1533.5,2268.4 1533.8,2275.9 1534.1,2283.5 1534.4,2291.2 1534.8,2299.1 1535.1,2306.9 1535.5,2314.7 1535.9,2322.2 1536.4,2329.5 1536.9,2335.7 1537.4,2341.8 1537.9,2347.7 1538.5,2353.4 1539.1,2358.9 1539.9,2364.1 1540.5,2368.0 1541.2,2371.7 1541.9,2375.2 1542.6,2378.6 1543.5,2381.8 1544.5,2384.8 1545.3,2387.1 1546.2,2389.3 1547.1,2391.3 1548.0,2393.2 1549.1,2394.9 1550.2,2396.4 1551.1,2397.2 1552.0,2398.0 1553.0,2398.7 1554.0,2399.2 1555.0,2399.6 1556.0,2399.8 1557.1,2399.8 1558.2,2399.6 1559.4,2399.2 1560.5,2398.7 1561.7,2398.1 1562.9,2397.5 1564.4,2396.6 1565.9,2395.6 1567.4,2394.5 1569.0,2393.2 1570.5,2391.9 1572.1,2390.6 1574.0,2389.1 1576.0,2387.5 1578.0,2385.8 1580.0,2384.1 1581.9,2382.2 1583.6,2380.2 1585.4,2377.8 1586.9,2375.1 1588.4,2372.2 1589.8,2369.3 1591.3,2366.6 1592.9,2364.1 1594.3,2362.2 1595.7,2360.3 1597.2,2358.6 1598.7,2356.9 1600.3,2355.3 1602.1,2353.7 1604.1,2352.1 1606.3,2350.5 1608.6,2348.9 1611.0,2347.4 1613.4,2346.0 1615.9,2344.5 1618.8,2342.9 1621.8,2341.2 1625.0,2339.6 1628.1,2338.1 1631.3,2336.6 1634.3,2335.3 1637.1,2334.2 1639.8,2333.1 1642.5,2332.1 1645.2,2331.2 1647.8,2330.4 1650.5,2329.5 1652.9,2328.8 1655.3,2328.2 1657.7,2327.5 1660.1,2327.0 1662.3,2326.5 1664.3,2326.1 1665.6,2325.8 1666.7,2325.6 1667.8,2325.4 1668.9,2325.3 1670.0,2325.3 1671.2,2325.4 1672.6,2325.8 1674.1,2326.3 1675.5,2327.1 1677.1,2327.9 1678.7,2328.7 1680.4,2329.5 1683.1,2330.6 1686.0,2331.7 1689.1,2332.8 1692.3,2334.0 1695.6,2335.2 1698.8,2336.5 1702.5,2337.9 1706.3,2339.5 1710.2,2341.0 1714.1,2342.6 1718.0,2344.2 1721.9,2345.7 1725.7,2347.1 1729.6,2348.4 1733.4,2349.8 1737.2,2351.1 1741.1,2352.4 1744.9,2353.7 1748.8,2355.1 1752.7,2356.3 1756.6,2357.6 1760.5,2359.0 1764.3,2360.3 1768.0,2361.8 1771.2,2363.2 1774.3,2364.7 1777.4,2366.2 1780.4,2367.8 1783.4,2369.4 1786.4,2371.0 1789.5,2372.7 1792.7,2374.5 1795.8,2376.3 1798.9,2378.1 1801.9,2379.8 1804.8,2381.4 1807.2,2382.6 1809.5,2383.8 1811.7,2385.0 1813.9,2386.1 1816.2,2387.2 1818.7,2388.3 1821.6,2389.5 1824.6,2390.7 1827.7,2391.8 1830.8,2392.9 1834.0,2394.1 1837.1,2395.2"/>
</g>
<rect class="fr" x="281.5" y="77.5" width="777.0" height="777.0"/>
<rect class="fr" x="1079.5" y="77.5" width="756.0" height="567.0"/>
<rect class="fr" x="281.5" y="854.5" width="777.0" height="777.0"/>
<rect class="fr" x="1058.5" y="854.5" width="777.0" height="777.0"/>
<rect class="fr" x="281.5" y="1631.5" width="777.0" height="777.0"/>
<rect class="fr" x="1058.5" y="1631.5" width="777.0" height="777.0"/>
<line class="fr" x1="341.3" y1="854.5" x2="341.3" y2="811.9"/>
<line class="fr" x1="460.8" y1="854.5" x2="460.8" y2="833.2"/>
<line class="fr" x1="580.3" y1="854.5" x2="580.3" y2="811.9"/>
<line class="fr" x1="699.9" y1="854.5" x2="699.9" y2="833.2"/>
<line class="fr" x1="819.4" y1="854.5" x2="819.4" y2="811.9"/>
<line class="fr" x1="939.0" y1="854.5" x2="939.0" y2="833.2"/>
<line class="fr" x1="1058.5" y1="854.5" x2="1058.5" y2="811.9"/>
<line class="fr" x1="1079.5" y1="644.5" x2="1079.5" y2="623.2"/>
<line class="fr" x1="1187.5" y1="644.5" x2="1187.5" y2="601.9"/>
<line class="fr" x1="1295.5" y1="644.5" x2="1295.5" y2="623.2"/>
<line class="fr" x1="1403.5" y1="644.5" x2="1403.5" y2="601.9"/>
<line class="fr" x1="1511.5" y1="644.5" x2="1511.5" y2="623.2"/>
<line class="fr" x1="1619.5" y1="644.5" x2="1619.5" y2="601.9"/>
<line class="fr" x1="1727.5" y1="644.5" x2="1727.5" y2="623.2"/>
<line class="fr" x1="1835.5" y1="644.5" x2="1835.5" y2="601.9"/>
<line class="fr" x1="337.0" y1="1631.5" x2="337.0" y2="1588.9"/>
<line class="fr" x1="448.0" y1="1631.5" x2="448.0" y2="1610.2"/>
<line class="fr" x1="559.0" y1="1631.5" x2="559.0" y2="1588.9"/>
<line class="fr" x1="670.0" y1="1631.5" x2="670.0" y2="1610.2"/>
<line class="fr" x1="781.0" y1="1631.5" x2="781.0" y2="1588.9"/>
<line class="fr" x1="892.0" y1="1631.5" x2="892.0" y2="1610.2"/>
<line class="fr" x1="1003.0" y1="1631.5" x2="1003.0" y2="1588.9"/>
<line class="fr" x1="1118.3" y1="1631.5" x2="1118.3" y2="1588.9"/>
<line class="fr" x1="1237.8" y1="1631.5" x2="1237.8" y2="1610.2"/>
<line class="fr" x1="1357.3" y1="1631.5" x2="1357.3" y2="1588.9"/>
<line class="fr" x1="1476.9" y1="1631.5" x2="1476.9" y2="1610.2"/>
<line class="fr" x1="1596.4" y1="1631.5" x2="1596.4" y2="1588.9"/>
<line class="fr" x1="1716.0" y1="1631.5" x2="1716.0" y2="1610.2"/>
<line class="fr" x1="1835.5" y1="1631.5" x2="1835.5" y2="1588.9"/>
<line class="fr" x1="337.0" y1="2408.5" x2="337.0" y2="2365.9"/>
<line class="fr" x1="448.0" y1="2408.5" x2="448.0" y2="2387.2"/>
<line class="fr" x1="559.0" y1="2408.5" x2="559.0" y2="2365.9"/>
<line class="fr" x1="670.0" y1="2408.5" x2="670.0" y2="2387.2"/>
<line class="fr" x1="781.0" y1="2408.5" x2="781.0" y2="2365.9"/>
<line class="fr" x1="892.0" y1="2408.5" x2="892.0" y2="2387.2"/>
<line class="fr" x1="1003.0" y1="2408.5" x2="1003.0" y2="2365.9"/>
<line class="fr" x1="1114.0" y1="2408.5" x2="1114.0" y2="2365.9"/>
<line class="fr" x1="1225.0" y1="2408.5" x2="1225.0" y2="2387.2"/>
<line class="fr" x1="1336.0" y1="2408.5" x2="1336.0" y2="2365.9"/>
<line class="fr" x1="1447.0" y1="2408.5" x2="1447.0" y2="2387.2"/>
<line class="fr" x1="1558.0" y1="2408.5" x2="1558.0" y2="2365.9"/>
<line class="fr" x1="1669.0" y1="2408.5" x2="1669.0" y2="2387.2"/>
<line class="fr" x1="1780.0" y1="2408.5" x2="1780.0" y2="2365.9"/>
<line class="fr" x1="281.5" y1="854.5" x2="324.1" y2="854.5"/>
<line class="fr" x1="281.5" y1="739.1" x2="302.8" y2="739.1"/>
<line class="fr" x1="281.5" y1="623.8" x2="324.1" y2="623.8"/>
<line class="fr" x1="281.5" y1="508.4" x2="302.8" y2="508.4"/>
<line class="fr" x1="281.5" y1="393.1" x2="324.1" y2="393.1"/>
<line class="fr" x1="281.5" y1="277.7" x2="302.8" y2="277.7"/>
<line class="fr" x1="281.5" y1="162.4" x2="324.1" y2="162.4"/>
<line class="fr" x1="1835.5" y1="644.5" x2="1792.9" y2="644.5"/>
<line class="fr" x1="1835.5" y1="550.0" x2="1814.2" y2="550.0"/>
<line class="fr" x1="1835.5" y1="455.5" x2="1792.9" y2="455.5"/>
<line class="fr" x1="1835.5" y1="361.0" x2="1814.2" y2="361.0"/>
<line class="fr" x1="1835.5" y1="266.5" x2="1792.9" y2="266.5"/>
<line class="fr" x1="1835.5" y1="172.0" x2="1814.2" y2="172.0"/>
<line class="fr" x1="1835.5" y1="77.5" x2="1792.9" y2="77.5"/>
<line class="fr" x1="281.5" y1="1631.5" x2="324.1" y2="1631.5"/>
<line class="fr" x1="281.5" y1="1534.4" x2="302.8" y2="1534.4"/>
<line class="fr" x1="281.5" y1="1437.2" x2="324.1" y2="1437.2"/>
<line class="fr" x1="281.5" y1="1340.1" x2="302.8" y2="1340.1"/>
<line class="fr" x1="281.5" y1="1243.0" x2="324.1" y2="1243.0"/>
<line class="fr" x1="281.5" y1="1145.9" x2="302.8" y2="1145.9"/>
<line class="fr" x1="281.5" y1="1048.8" x2="324.1" y2="1048.8"/>
<line class="fr" x1="281.5" y1="951.6" x2="302.8" y2="951.6"/>
<line class="fr" x1="281.5" y1="854.5" x2="324.1" y2="854.5"/>
<line class="fr" x1="1835.5" y1="1631.5" x2="1792.9" y2="1631.5"/>
<line class="fr" x1="1835.5" y1="1502.0" x2="1814.2" y2="1502.0"/>
<line class="fr" x1="1835.5" y1="1372.5" x2="1792.9" y2="1372.5"/>
<line class="fr" x1="1835.5" y1="1243.0" x2="1814.2" y2="1243.0"/>
<line class="fr" x1="1835.5" y1="1113.5" x2="1792.9" y2="1113.5"/>
<line class="fr" x1="1835.5" y1="984.0" x2="1814.2" y2="984.0"/>
<line class="fr" x1="1835.5" y1="854.5" x2="1792.9" y2="854.5"/>
<line class="fr" x1="281.5" y1="2408.5" x2="324.1" y2="2408.5"/>
<line class="fr" x1="281.5" y1="2253.1" x2="302.8" y2="2253.1"/>
<line class="fr" x1="281.5" y1="2097.7" x2="324.1" y2="2097.7"/>
<line class="fr" x1="281.5" y1="1942.3" x2="302.8" y2="1942.3"/>
<line class="fr" x1="281.5" y1="1786.9" x2="324.1" y2="1786.9"/>
<line class="fr" x1="281.5" y1="1631.5" x2="302.8" y2="1631.5"/>
<line class="fr" x1="1835.5" y1="2408.5" x2="1792.9" y2="2408.5"/>
<line class="fr" x1="1835.5" y1="2279.0" x2="1814.2" y2="2279.0"/>
<line class="fr" x1="1835.5" y1="2149.5" x2="1792.9" y2="2149.5"/>
<line class="fr" x1="1835.5" y1="2020.0" x2="1814.2" y2="2020.0"/>
<line class="fr" x1="1835.5" y1="1890.5" x2="1792.9" y2="1890.5"/>
<line class="fr" x1="1835.5" y1="1761.0" x2="1814.2" y2="1761.0"/>
<line class="fr" x1="1835.5" y1="1631.5" x2="1792.9" y2="1631.5"/>
<text class="tk" transform="translate(261.5,879.3) scale(1,1.02)" text-anchor="end">0.0</text>
<text class="tk" transform="translate(261.5,648.6) scale(1,1.02)" text-anchor="end">0.2</text>
<text class="tk" transform="translate(261.5,417.9) scale(1,1.02)" text-anchor="end">0.4</text>
<text class="tk" transform="translate(261.5,1656.3) scale(1,1.02)" text-anchor="end">0.0</text>
<text class="tk" transform="translate(261.5,1462.0) scale(1,1.02)" text-anchor="end">0.1</text>
<text class="tk" transform="translate(261.5,1267.8) scale(1,1.02)" text-anchor="end">0.2</text>
<text class="tk" transform="translate(261.5,1073.5) scale(1,1.02)" text-anchor="end">0.3</text>
<text class="tk" transform="translate(261.5,2433.3) scale(1,1.02)" text-anchor="end">0.0</text>
<text class="tk" transform="translate(261.5,2122.5) scale(1,1.02)" text-anchor="end">0.3</text>
<text class="tk" transform="translate(261.5,1811.7) scale(1,1.02)" text-anchor="end">0.6</text>
<text class="tk" transform="translate(1858,669.3) scale(1,1.02)" text-anchor="start">0.0</text>
<text class="tk" transform="translate(1858,480.3) scale(1,1.02)" text-anchor="start">0.5</text>
<text class="tk" transform="translate(1858,291.3) scale(1,1.02)" text-anchor="start">1.0</text>
<text class="tk" transform="translate(1858,102.3) scale(1,1.02)" text-anchor="start">1.5</text>
<text class="tk" transform="translate(1858,1656.3) scale(1,1.02)" text-anchor="start">0.0</text>
<text class="tk" transform="translate(1858,1397.3) scale(1,1.02)" text-anchor="start">0.2</text>
<text class="tk" transform="translate(1858,1138.3) scale(1,1.02)" text-anchor="start">0.4</text>
<text class="tk" transform="translate(1858,879.3) scale(1,1.02)" text-anchor="start">0.6</text>
<text class="tk" transform="translate(1858,2433.3) scale(1,1.02)" text-anchor="start">0.0</text>
<text class="tk" transform="translate(1858,2174.3) scale(1,1.02)" text-anchor="start">0.2</text>
<text class="tk" transform="translate(1858,1915.3) scale(1,1.02)" text-anchor="start">0.4</text>
<text class="tk" transform="translate(337.5,2479.3) scale(1,1.02)" text-anchor="middle">-4</text>
<text class="tk" transform="translate(559.5,2479.3) scale(1,1.02)" text-anchor="middle">-2</text>
<text class="tk" transform="translate(781.5,2479.3) scale(1,1.02)" text-anchor="middle">0</text>
<text class="tk" transform="translate(1003.5,2479.3) scale(1,1.02)" text-anchor="middle">2</text>
<text class="tk" transform="translate(1114.5,2479.3) scale(1,1.02)" text-anchor="middle">-4</text>
<text class="tk" transform="translate(1336.5,2479.3) scale(1,1.02)" text-anchor="middle">-2</text>
<text class="tk" transform="translate(1558.5,2479.3) scale(1,1.02)" text-anchor="middle">0</text>
<text class="tk" transform="translate(1780.5,2479.3) scale(1,1.02)" text-anchor="middle">2</text>
<text class="tk" transform="translate(1188.0,715.3000000000002) scale(1,1.02)" text-anchor="middle">-1.0</text>
<text class="tk" transform="translate(1404.0,715.3000000000002) scale(1,1.02)" text-anchor="middle">-0.5</text>
<text class="tk" transform="translate(1620.0,715.3000000000002) scale(1,1.02)" text-anchor="middle">0.0</text>
<text class="tk" transform="translate(1836.0,715.3000000000002) scale(1,1.02)" text-anchor="middle">0.5</text>
<text class="sy" x="552.6" y="2563.6" font-size="98px" xml:space="preserve" >ω</text>
<text class="bi" x="633.6" y="2562.6" font-size="89px" xml:space="preserve" >(eV)</text>
<text class="sy" x="1330.1" y="2563.6" font-size="98px" xml:space="preserve" >ω</text>
<text class="bi" x="1411.1" y="2562.6" font-size="89px" xml:space="preserve" >(eV)</text>
<text class="sy" x="1340.1" y="799.5999999999999" font-size="98px" xml:space="preserve" >ω</text>
<text class="bi" x="1421.1" y="798.5999999999999" font-size="89px" xml:space="preserve" >(eV)</text>
<g transform="translate(104.8,0) rotate(-90)">
<text class="sy" x="-621.1" y="0" font-size="96px" xml:space="preserve" >ρ</text>
<text class="bi" x="-571.0" y="34.8" font-size="65px" xml:space="preserve" >3z</text>
<text class="bi" x="-516.8" y="-3" font-size="46px" xml:space="preserve" >2</text>
<text class="bi" x="-494.3" y="34.8" font-size="65px" xml:space="preserve" >-r</text>
<text class="bi" x="-449.8" y="-3" font-size="46px" xml:space="preserve" >2</text>
<text class="sy" x="-424.3" y="-2.5" font-size="83px" xml:space="preserve" >(</text>
<text class="sy" x="-397.7" y="0" font-size="98px" xml:space="preserve" >ω</text>
<text class="sy" x="-339.2" y="-2.5" font-size="83px" xml:space="preserve" >)</text>
</g>
<g transform="translate(96.5,0) rotate(-90)">
<text class="sy" x="-1387.6" y="0" font-size="96px" xml:space="preserve" >ρ</text>
<text class="bi" x="-1340.5" y="34.8" font-size="65px" xml:space="preserve" >x</text>
<text class="bi" x="-1306.3" y="-3" font-size="46px" xml:space="preserve" >2</text>
<text class="bi" x="-1286.0" y="34.8" font-size="65px" xml:space="preserve" >-</text>
<text class="bi" x="-1263.1" y="34.8" font-size="65px" xml:space="preserve" >y</text>
<text class="bi" x="-1236.2" y="-3" font-size="46px" xml:space="preserve" >2</text>
<text class="sy" x="-1212.8" y="-2.5" font-size="83px" xml:space="preserve" >(</text>
<text class="sy" x="-1185.6" y="0" font-size="98px" xml:space="preserve" >ω</text>
<text class="sy" x="-1124.7" y="-2.5" font-size="83px" xml:space="preserve" >)</text>
</g>
<g transform="translate(96.5,0) rotate(-90)">
<text class="sy" x="-2132.9" y="0" font-size="96px" xml:space="preserve" >ρ</text>
<text class="bi" x="-2084.9" y="34.8" font-size="65px" xml:space="preserve" >x</text>
<text class="bi" x="-2051.3" y="34.8" font-size="65px" xml:space="preserve" >y</text>
<text class="sy" x="-2021.9" y="-2.5" font-size="83px" xml:space="preserve" >(</text>
<text class="sy" x="-1994.6" y="0" font-size="98px" xml:space="preserve" >ω</text>
<text class="sy" x="-1934.5" y="-2.5" font-size="83px" xml:space="preserve" >)</text>
</g>
<g transform="translate(2035,0) rotate(-90)">
<text class="sy" x="-471.7" y="0" font-size="96px" xml:space="preserve" >ρ</text>
<text class="bi" x="-424.6" y="34.8" font-size="65px" xml:space="preserve" >x</text>
<text class="bi" x="-390.9" y="34.8" font-size="65px" xml:space="preserve" >z</text>
<text class="sy" x="-364.5" y="-2.5" font-size="83px" xml:space="preserve" >(</text>
<text class="sy" x="-337.2" y="0" font-size="98px" xml:space="preserve" >ω</text>
<text class="sy" x="-277.1" y="-2.5" font-size="83px" xml:space="preserve" >)</text>
</g>
<g transform="translate(2035,0) rotate(-90)">
<text class="sy" x="-1351.7" y="0" font-size="96px" xml:space="preserve" >ρ</text>
<text class="bi" x="-1301.7" y="34.8" font-size="65px" xml:space="preserve" >y</text>
<text class="bi" x="-1274.6" y="34.8" font-size="65px" xml:space="preserve" >z</text>
<text class="sy" x="-1248.3" y="-2.5" font-size="83px" xml:space="preserve" >(</text>
<text class="sy" x="-1221.0" y="0" font-size="98px" xml:space="preserve" >ω</text>
<text class="sy" x="-1160.1" y="-2.5" font-size="83px" xml:space="preserve" >)</text>
</g>
<g transform="translate(2035,0) rotate(-90)">
<text class="sy" x="-2130.6" y="0" font-size="96px" xml:space="preserve" >ρ</text>
<text class="bi" x="-2082.8" y="34.8" font-size="65px" xml:space="preserve" >x</text>
<text class="bi" x="-2049.8" y="34.8" font-size="65px" xml:space="preserve" >z</text>
<text class="sy" x="-2024.2" y="-2.5" font-size="83px" xml:space="preserve" >(</text>
<text class="sy" x="-1996.1" y="0" font-size="98px" xml:space="preserve" >ω</text>
<text class="sy" x="-1936.0" y="-2.5" font-size="83px" xml:space="preserve" >)</text>
</g>
<rect x="134.5" y="35.5" width="885.0" height="298.0" fill="#fff" stroke="#000" stroke-width="7" shape-rendering="crispEdges"/>
<line x1="158" y1="92" x2="348" y2="92" stroke="#00ffff" stroke-width="8" shape-rendering="crispEdges"/>
<line x1="158" y1="184.5" x2="348" y2="184.5" stroke="#ffa500" stroke-width="8" shape-rendering="crispEdges"/>
<line x1="158" y1="276.5" x2="348" y2="276.5" stroke="#9400d3" stroke-width="8" shape-rendering="crispEdges"/>
<text class="sy" x="387.3" y="101" font-size="67px" xml:space="preserve" >Δ</text>
<text class="bi" x="428.5" y="127.5" font-size="46.7px" xml:space="preserve" >sw</text>
<text class="bi" x="474.7" y="101" font-size="66px" xml:space="preserve" >=0.0 eV</text>
<text class="bi" x="713.7" y="101" font-size="66px" xml:space="preserve" >(</text>
<text class="sy" x="735.3" y="101" font-size="67px" xml:space="preserve" >Δ</text>
<text class="bi" x="773.0" y="101" font-size="66px" xml:space="preserve" >=0.1 eV)</text>
<text class="sy" x="387.3" y="192.5" font-size="67px" xml:space="preserve" >Δ</text>
<text class="bi" x="428.5" y="219.0" font-size="46.7px" xml:space="preserve" >sw</text>
<text class="bi" x="474.7" y="192.5" font-size="66px" xml:space="preserve" >=0.15 eV</text>
<text class="sy" x="387.3" y="285" font-size="67px" xml:space="preserve" >Δ</text>
<text class="bi" x="428.5" y="311.5" font-size="46.7px" xml:space="preserve" >sw</text>
<text class="bi" x="474.7" y="285" font-size="66px" xml:space="preserve" >=0.3 eV</text>
</svg></body></html>
